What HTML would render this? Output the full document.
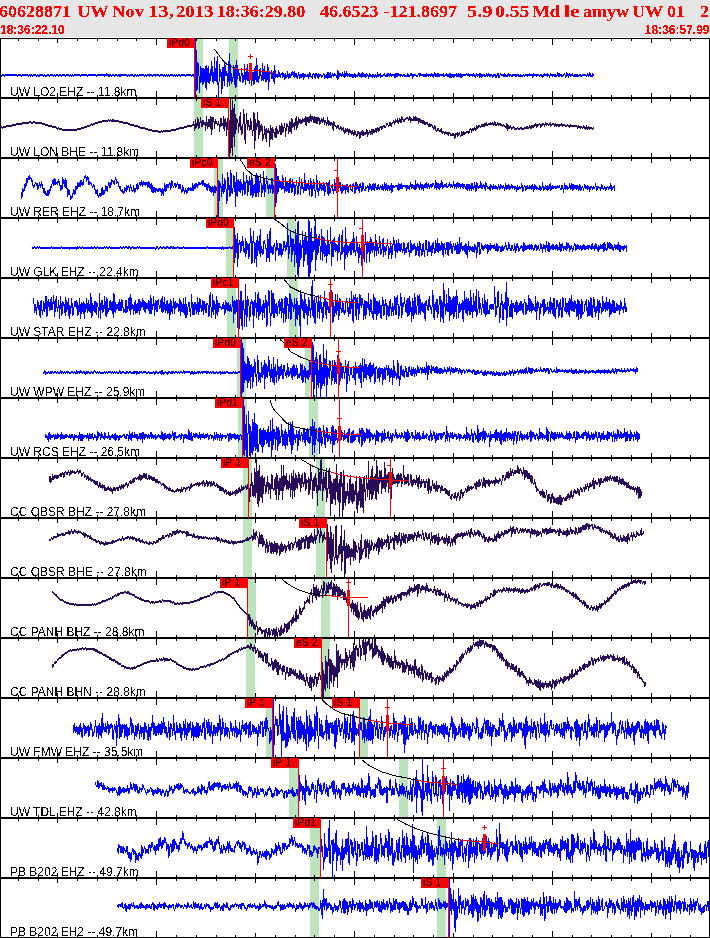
<!DOCTYPE html>
<html><head><meta charset="utf-8"><title>Seismogram 60628871</title>
<style>
html,body{margin:0;padding:0;width:710px;height:938px;overflow:hidden;background:#fff;}
#hd{position:absolute;left:0;top:0;width:710px;height:37px;background:#e6e6e6;overflow:hidden;}
.w{position:absolute;top:0;white-space:pre;font:bold 18px "Liberation Serif",serif;color:#f00;line-height:22px;transform:scaleY(0.96);transform-origin:0 17px;filter:url(#th3);}
.ts{position:absolute;top:22px;font:bold 12px "Liberation Sans",sans-serif;color:#f00;line-height:14px;transform:scaleY(1.1);transform-origin:0 0;filter:url(#th3);}
.lb{position:absolute;left:10px;font:12px "Liberation Sans",sans-serif;color:#000;line-height:13px;white-space:pre;filter:url(#th);}
svg{position:absolute;left:0;top:0;}
.pk{font:10px "Liberation Sans",sans-serif;fill:#000;letter-spacing:0.3px;}
</style></head><body>
<div id="hd"><span class="w" style="left:-1px">60628871</span><span class="w" style="left:77.4px">UW</span><span class="w" style="left:112px;transform:scale(1.03,0.96)">Nov</span><span class="w" style="left:148.2px;transform:scale(1.15,0.96)">13,</span><span class="w" style="left:176.2px;transform:scale(1.04,0.96)">2013</span><span class="w" style="left:216.8px">18:36:29.80</span><span class="w" style="left:319.9px">46.6523</span><span class="w" style="left:383.6px">-121.8697</span><span class="w" style="left:467.4px;transform:scale(1.13,0.96)">5.9</span><span class="w" style="left:495.4px;transform:scale(1.09,0.96)">0.55</span><span class="w" style="left:532.4px;transform:scale(1.05,0.96)">Md</span><span class="w" style="left:564px;transform:scale(1.2,0.96)">le</span><span class="w" style="left:583px">amyw</span><span class="w" style="left:632px">UW</span><span class="w" style="left:667.0px">01</span><span class="w" style="left:700.0px">2</span>
<div class="ts" style="left:0px">18:36:22.10</div><div class="ts" style="right:0.5px">18:36:57.99</div></div>
<svg width="0" height="0" style="position:absolute"><filter id="th" x="0" y="0" width="100%" height="100%"><feComponentTransfer><feFuncA type="discrete" tableValues="0 0 1 1"/></feComponentTransfer></filter><filter id="th3" x="0" y="0" width="100%" height="100%"><feComponentTransfer><feFuncA type="discrete" tableValues="0 0 1 1 1"/></feComponentTransfer></filter><filter id="th2" x="0" y="0" width="100%" height="100%"><feComponentTransfer><feFuncA type="discrete" tableValues="0 1 1 1"/></feComponentTransfer></filter></svg>
<svg width="710" height="938" viewBox="0 0 710 938" shape-rendering="crispEdges">
<rect x="196" y="39" width="7" height="58" fill="#bde3bd"/>
<rect x="229" y="39" width="9" height="58" fill="#bde3bd"/>
<rect x="194" y="99" width="9" height="58" fill="#bde3bd"/>
<rect x="229" y="99" width="9" height="58" fill="#bde3bd"/>
<rect x="214" y="159" width="9" height="58" fill="#bde3bd"/>
<rect x="266" y="159" width="8" height="58" fill="#bde3bd"/>
<rect x="226" y="219" width="7" height="58" fill="#bde3bd"/>
<rect x="287" y="219" width="9" height="58" fill="#bde3bd"/>
<rect x="227" y="279" width="9" height="58" fill="#bde3bd"/>
<rect x="289" y="279" width="9" height="58" fill="#bde3bd"/>
<rect x="237" y="339" width="9" height="58" fill="#bde3bd"/>
<rect x="305" y="339" width="7" height="58" fill="#bde3bd"/>
<rect x="238" y="399" width="9" height="58" fill="#bde3bd"/>
<rect x="309" y="399" width="9" height="58" fill="#bde3bd"/>
<rect x="243" y="459" width="9" height="58" fill="#bde3bd"/>
<rect x="316" y="459" width="9" height="58" fill="#bde3bd"/>
<rect x="243" y="519" width="9" height="58" fill="#bde3bd"/>
<rect x="316" y="519" width="9" height="58" fill="#bde3bd"/>
<rect x="248" y="579" width="8" height="58" fill="#bde3bd"/>
<rect x="321" y="579" width="9" height="58" fill="#bde3bd"/>
<rect x="246" y="639" width="9" height="58" fill="#bde3bd"/>
<rect x="322" y="639" width="8" height="58" fill="#bde3bd"/>
<rect x="266" y="699" width="7" height="58" fill="#bde3bd"/>
<rect x="360" y="699" width="8" height="58" fill="#bde3bd"/>
<rect x="289" y="759" width="9" height="58" fill="#bde3bd"/>
<rect x="399" y="759" width="9" height="58" fill="#bde3bd"/>
<rect x="310" y="819" width="10" height="58" fill="#bde3bd"/>
<rect x="437" y="819" width="9" height="58" fill="#bde3bd"/>
<rect x="310" y="879" width="9" height="58" fill="#bde3bd"/>
<rect x="437" y="879" width="9" height="58" fill="#bde3bd"/>
<polyline fill="none" stroke="#0000ff" stroke-width="1" stroke-linecap="square" transform="translate(0.5,0.5)" points="1,75 1,76 2,75 2,74 3,74 3,75 4,75 4,76 5,75 5,74 6,74 6,75 7,75 7,74 8,74 8,75 9,75 9,74 10,74 10,75 11,75 11,74 12,74 12,75 13,75 13,74 14,74 14,75 15,75 15,74 16,74 16,75 17,75 17,76 18,75 18,74 19,74 19,75 20,75 20,74 21,75 21,76 22,75 22,74 23,74 23,75 24,75 24,74 25,74 25,75 26,75 26,74 27,74 27,75 28,75 28,76 29,75 29,74 30,74 30,76 31,75 31,74 32,75 32,76 33,75 33,74 34,74 34,75 35,75 35,74 36,75 36,76 37,75 37,74 38,75 38,76 39,76 39,74 40,74 40,75 41,75 41,74 42,74 42,75 43,75 43,76 44,75 44,74 45,75 45,76 46,76 46,75 47,75 47,74 48,74 48,75 49,75 49,76 50,75 50,74 51,74 51,75 52,75 52,74 53,75 53,76 54,75 54,74 55,75 55,76 56,75 56,74 57,74 57,75 58,75 58,76 59,75 59,74 60,74 60,75 61,75 61,76 62,75 62,74 63,74 63,75 64,75 64,74 65,75 65,76 66,75 66,74 67,74 67,75 68,75 68,74 69,75 69,76 70,75 70,74 71,75 71,76 72,75 72,74 73,75 73,76 74,75 74,74 75,74 75,75 76,75 76,74 77,74 77,75 78,75 78,74 79,74 79,75 80,75 80,76 81,75 81,74 82,74 82,75 83,75 83,74 84,74 84,75 85,75 85,74 86,74 86,75 87,75 87,76 88,75 88,74 89,74 89,75 90,75 90,74 91,74 91,75 92,75 92,74 93,74 93,75 94,75 94,74 95,74 95,75 96,75 96,76 97,75 97,74 98,74 98,75 99,75 99,74 100,74 100,75 101,75 101,74 102,74 102,75 103,75 103,74 104,74 104,76 105,75 105,74 106,73 106,75 107,75 107,74 108,74 108,76 109,76 109,74 110,74 110,75 111,75 111,76 112,75 112,74 113,74 113,75 114,75 114,76 115,75 115,74 116,74 116,75 117,75 117,76 118,75 118,74 119,74 119,76 120,76 120,74 121,74 121,75 122,75 122,74 123,74 123,75 124,75 124,74 125,74 125,75 126,75 126,74 127,75 127,76 128,75 128,74 129,75 129,76 130,75 130,74 131,74 131,75 132,75 132,74 133,75 133,76 134,76 134,74 135,74 135,75 136,75 136,76 137,75 137,74 138,75 138,76 139,75 139,74 140,74 140,75 141,75 141,74 142,74 142,75 143,75 143,74 144,75 144,76 145,75 145,74 146,75 146,76 147,75 147,74 148,74 148,75 149,74 149,76 150,75 150,74 151,74 151,75 152,75 152,76 153,75 153,74 154,74 154,75 155,74 155,76 156,75 156,74 157,74 157,75 158,75 158,74 159,75 159,76 160,75 160,74 161,74 161,75 162,75 162,74 163,75 163,76 164,75 164,74 165,75 165,76 166,75 166,74 167,75 167,76 168,75 168,74 169,75 169,76 170,75 170,74 171,74 171,75 172,75 172,74 173,75 173,76 174,75 174,74 175,75 175,76 176,75 176,74 177,75 177,76 178,75 178,74 179,74 179,75 180,75 180,76 181,75 181,74 182,74 182,75 183,75 183,74 184,74 184,75 185,75 185,76 186,75 186,74 187,74 187,75 188,75 188,74 189,74 189,75 190,75 190,74 191,75 191,76 192,75 192,74 193,74 193,75 194,77 194,72 195,96 195,39 196,60 196,90 197,88 197,62 198,64 198,72 199,79 199,92 200,74 200,66 201,69 201,78 202,84 202,68 203,68 203,83 204,80 204,71 205,66 205,86 206,89 206,65 207,70 207,80 208,82 208,66 209,78 209,83 210,78 210,69 211,75 211,61 212,70 212,80 213,83 213,72 214,80 214,57 215,78 215,80 216,81 216,65 217,56 217,83 218,86 218,96 219,68 219,64 220,73 220,76 221,72 221,93 222,84 222,67 223,67 223,75 224,85 224,62 225,67 225,75 226,75 226,71 227,74 227,86 228,78 228,68 229,53 229,85 230,77 230,64 231,80 231,83 232,80 232,78 233,76 233,65 234,68 234,81 235,87 235,70 236,60 236,86 237,71 237,65 238,73 238,75 239,73 239,79 240,81 240,76 241,75 241,68 242,76 242,82 243,81 243,75 244,79 244,64 245,78 245,84 246,76 246,72 247,64 247,80 248,80 248,73 249,70 249,83 250,77 250,66 251,73 251,85 252,77 252,72 253,72 253,84 254,82 254,69 255,66 255,77 256,81 256,58 257,71 257,80 258,82 258,76 259,78 259,70 260,68 260,74 261,76 261,80 262,78 262,63 263,74 263,80 264,76 264,66 265,74 265,81 266,81 266,72 267,79 267,64 268,69 268,89 269,74 269,72 270,72 270,73 271,70 271,78 272,78 272,72 273,71 273,80 274,83 274,65 275,74 275,77 276,76 276,74 277,74 277,77 278,76 278,70 279,73 279,76 280,77 280,74 281,74 281,73 282,72 282,77 283,75 283,73 284,75 284,79 285,77 285,73 286,76 286,77 287,76 287,71 288,76 288,78 289,77 289,73 290,75 290,77 291,74 291,72 292,71 292,74 293,72 293,76 294,77 294,71 295,74 295,76 296,77 296,73 297,76 297,78 298,73 298,72 299,75 299,78 300,76 300,74 301,74 301,77 302,75 302,73 303,73 303,79 304,76 304,74 305,74 305,76 306,76 306,75 307,74 307,76 308,74 308,78 309,75 309,72 310,74 310,76 311,76 311,77 312,78 312,74 313,74 313,73 314,75 314,76 315,78 315,73 316,73 316,75 317,74 317,76 318,78 318,73 319,74 319,76 320,75 320,74 321,75 321,77 322,76 322,75 323,74 323,73 324,75 324,78 325,76 325,75 326,74 326,76 327,78 327,72 328,72 328,77 329,77 329,73 330,72 330,77 331,77 331,75 332,75 332,73 333,74 333,76 334,75 334,73 335,74 335,75 336,75 336,76 337,79 337,70 338,72 338,78 339,75 339,73 340,73 340,75 341,74 341,76 342,74 342,72 343,75 343,76 344,77 344,71 345,75 345,76 346,74 346,71 347,74 347,76 348,75 348,74 349,73 349,76 350,76 350,74 351,74 351,76 352,77 352,74 353,74 353,77 354,76 354,73 355,75 355,77 356,76 356,75 357,74 357,76 358,75 358,72 359,74 359,76 360,76 360,74 361,73 361,77 362,76 362,72 363,74 363,76 364,76 364,74 365,74 365,77 366,75 366,73 367,74 367,75 368,75 368,78 369,74 369,73 370,75 370,76 371,76 371,75 372,74 372,77 373,75 373,74 374,75 374,77 375,75 375,74 376,75 376,77 377,75 377,72 378,75 378,76 379,75 379,74 380,73 380,77 381,76 381,75 382,75 382,76 383,75 383,74 384,73 384,75 385,75 385,76 386,76 386,74 387,73 387,76 388,75 388,73 389,75 389,76 390,75 390,73 391,74 391,76 392,75 392,74 393,74 393,75 394,74 394,77 395,77 395,73 396,73 396,76 397,76 397,73 398,73 398,75 399,75 399,74 400,74 400,76 401,75 401,74 402,75 402,76 403,75 403,74 404,74 404,76 405,76 405,75 406,75 406,76 407,76 407,73 408,74 408,76 409,76 409,75 410,75 410,73 411,73 411,75 412,74 412,78 413,75 413,74 414,74 414,75 415,75 415,74 416,75 416,76 417,76 417,75 418,74 418,73 419,73 419,76 420,75 420,73 421,74 421,75 422,75 422,74 423,74 423,76 424,76 424,74 425,74 425,76 426,76 426,73 427,74 427,75 428,74 428,76 429,75 429,74 430,74 430,76 431,75 431,73 432,75 432,76 433,77 433,74 434,75 434,72 435,74 435,76 436,76 436,74 437,73 437,76 438,76 438,73 439,75 439,76 440,75 440,74 441,74 441,75 442,75 442,74 443,73 443,76 444,76 444,75 445,75 445,74 446,73 446,75 447,74 447,76 448,76 448,74 449,73 449,77 450,77 450,73 451,74 451,77 452,75 452,74 453,74 453,77 454,75 454,74 455,74 455,75 456,76 456,73 457,74 457,76 458,76 458,73 459,74 459,76 460,77 460,73 461,74 461,77 462,75 462,74 463,74 463,75 464,75 464,74 465,74 465,75 466,74 466,73 467,74 467,75 468,75 468,73 469,75 469,76 470,75 470,74 471,74 471,75 472,74 472,76 473,75 473,73 474,75 474,76 475,75 475,77 476,74 476,73 477,75 477,76 478,75 478,74 479,73 479,77 480,75 480,73 481,74 481,77 482,76 482,74 483,74 483,75 484,74 484,76 485,76 485,75 486,75 486,73 487,74 487,76 488,74 488,73 489,74 489,76 490,76 490,74 491,74 491,75 492,75 492,77 493,76 493,74 494,74 494,75 495,74 495,77 496,77 496,75 497,75 497,73 498,73 498,77 499,77 499,75 500,74 500,73 501,74 501,75 502,75 502,74 503,74 503,76 504,76 504,73 505,74 505,76 506,76 506,75 507,74 507,76 508,75 508,73 509,75 509,76 510,75 510,74 511,75 511,76 512,76 512,74 513,74 513,75 514,75 514,74 515,74 515,76 516,76 516,74 517,74 517,75 518,74 518,76 519,76 519,75 520,74 520,76 521,76 521,75 522,75 522,76 523,75 523,74 524,75 524,76 525,75 525,74 526,74 526,75 527,74 527,76 528,75 528,74 529,73 529,75 530,75 530,74 531,74 531,75 532,74 532,77 533,75 533,73 534,74 534,75 535,75 535,74 536,74 536,76 537,75 537,74 538,74 538,75 539,75 539,76 540,75 540,74 541,74 541,76 542,75 542,77 543,76 543,74 544,73 544,75 545,75 545,74 546,74 546,75 547,76 547,73 548,74 548,75 549,75 549,77 550,74 550,73 551,74 551,75 552,74 552,76 553,75 553,74 554,74 554,76 555,76 555,74 556,75 556,76 557,75 557,72 558,74 558,76 559,76 559,73 560,74 560,75 561,74 561,76 562,76 562,75 563,75 563,74 564,74 564,73 565,76 565,77 566,75 566,72 567,73 567,75 568,74 568,77 569,74 569,73 570,75 570,76 571,75 571,74 572,73 572,75 573,75 573,76 574,76 574,74 575,74 575,76 576,76 576,74 577,74 577,76 578,76 578,75 579,75 579,74 580,74 580,76 581,76 581,75 582,75 582,74 583,74 583,75 584,75 584,74 585,74 585,75 586,75 586,76 587,75 587,73 588,75 588,76 589,75 589,72 590,74 590,76 591,76 591,75 592,76 592,73 593,74 593,75"/>
<polyline fill="none" stroke="#280a5a" stroke-width="1" stroke-linecap="square" transform="translate(0.5,0.5)" points="1,126 1,127 2,127 2,128 3,127 3,126 4,126 4,127 5,127 5,126 6,126 6,125 7,125 7,126 8,126 8,125 9,125 9,126 10,126 10,125 11,125 11,126 12,125 12,124 13,124 13,125 14,125 14,124 15,124 15,125 16,124 16,123 17,123 17,124 18,124 18,123 19,123 19,124 20,124 20,123 21,123 21,124 22,123 22,122 23,122 23,123 24,123 24,122 25,122 25,123 26,123 26,122 27,122 27,123 28,123 28,122 29,122 29,121 30,121 30,122 31,122 31,123 32,123 32,122 33,122 33,121 34,121 34,122 35,122 35,123 36,123 36,122 37,122 37,123 38,123 38,122 39,122 39,123 40,123 40,122 41,122 41,123 42,123 42,124 43,124 43,123 44,123 44,124 45,124 45,125 46,125 46,124 47,124 47,125 48,125 48,126 49,126 49,125 50,125 50,126 51,126 51,125 52,126 52,127 53,127 53,126 54,126 54,127 55,127 55,126 56,127 56,128 57,128 57,129 58,128 58,127 59,128 59,129 60,129 60,128 61,128 61,129 62,129 62,130 63,130 63,129 64,129 64,130 65,130 65,129 66,129 66,130 67,130 67,129 68,129 68,130 69,130 69,129 70,129 70,130 71,130 71,129 72,129 72,130 73,130 73,129 74,129 74,130 75,130 75,129 76,129 76,130 77,129 77,128 78,128 78,129 79,129 79,128 80,128 80,129 81,128 81,127 82,127 82,128 83,128 83,127 84,127 84,126 85,126 85,127 86,127 86,126 87,126 87,125 88,125 88,126 89,126 89,125 90,125 90,124 91,124 91,123 92,124 92,125 93,124 93,123 94,123 94,124 95,123 95,122 96,122 96,123 97,123 97,122 98,122 98,121 99,121 99,122 100,122 100,121 101,121 101,122 102,121 102,120 103,120 103,121 104,121 104,120 105,120 105,121 106,121 106,120 107,120 107,121 108,120 108,119 109,120 109,121 110,120 110,119 111,120 111,121 112,121 112,119 113,119 113,121 114,121 114,120 115,120 115,121 116,121 116,120 117,120 117,121 118,121 118,120 119,121 119,122 120,122 120,121 121,121 121,122 122,122 122,121 123,122 123,123 124,123 124,122 125,122 125,123 126,123 126,122 127,122 127,123 128,123 128,124 129,124 129,123 130,124 130,125 131,125 131,124 132,124 132,125 133,125 133,124 134,125 134,126 135,126 135,125 136,125 136,126 137,126 137,125 138,126 138,127 139,127 139,126 140,127 140,128 141,128 141,127 142,127 142,128 143,128 143,127 144,127 144,128 145,128 145,129 146,129 146,128 147,128 147,129 148,129 148,130 149,130 149,129 150,129 150,130 151,130 151,129 152,130 152,131 153,131 153,130 154,130 154,131 155,131 155,130 156,130 156,131 157,131 157,130 158,131 158,132 159,132 159,131 160,131 160,132 161,131 161,130 162,131 162,132 163,131 163,130 164,130 164,131 165,131 165,130 166,130 166,131 167,131 167,130 168,130 168,131 169,131 169,130 170,130 170,131 171,130 171,129 172,129 172,130 173,130 173,129 174,129 174,130 175,130 175,129 176,129 176,128 177,128 177,129 178,129 178,128 179,128 179,127 180,127 180,128 181,128 181,127 182,127 182,128 183,128 183,127 184,127 184,126 185,126 185,127 186,127 186,126 187,126 187,125 188,125 188,126 189,126 189,125 190,125 190,126 191,126 191,125 192,125 192,124 193,125 193,121 194,126 194,130 195,126 195,119 196,126 196,127 197,124 197,117 198,120 198,128 199,126 199,122 200,122 200,117 201,124 201,126 202,126 202,120 203,120 203,124 204,124 204,122 205,122 205,130 206,121 206,116 207,127 207,128 208,125 208,119 209,119 209,125 210,128 210,116 211,117 211,134 212,126 212,117 213,117 213,120 214,122 214,128 215,120 215,119 216,122 216,123 217,123 217,125 218,124 218,121 219,126 219,131 220,122 220,118 221,118 221,125 222,125 222,123 223,128 223,116 224,122 224,130 225,123 225,118 226,125 226,135 227,124 227,118 228,119 228,111 229,128 229,156 230,150 230,99 231,119 231,139 232,155 232,100 233,114 233,126 234,146 234,104 235,123 235,133 236,126 236,118 237,120 237,122 238,123 238,132 239,121 239,119 240,112 240,129 241,126 241,134 242,133 242,127 243,121 243,109 244,117 244,135 245,143 245,124 246,123 246,113 247,125 247,129 248,124 248,120 249,128 249,130 250,129 250,118 251,124 251,128 252,131 252,135 253,126 253,112 254,113 254,148 255,133 255,119 256,126 256,129 257,124 257,112 258,127 258,138 259,132 259,121 260,128 260,131 261,129 261,124 262,127 262,140 263,137 263,134 264,134 264,126 265,132 265,135 266,141 266,128 267,131 267,132 268,132 268,128 269,134 269,146 270,133 270,125 271,131 271,138 272,139 272,127 273,130 273,132 274,132 274,136 275,137 275,129 276,126 276,137 277,131 277,129 278,132 278,133 279,130 279,125 280,126 280,134 281,134 281,123 282,127 282,132 283,131 283,129 284,125 284,123 285,132 285,136 286,125 286,123 287,124 287,125 288,127 288,133 289,130 289,121 290,123 290,129 291,133 291,118 292,120 292,127 293,125 293,124 294,122 294,129 295,122 295,120 296,116 296,129 297,125 297,121 298,124 298,117 299,121 299,122 300,123 300,119 301,121 301,123 302,121 302,118 303,119 303,121 304,121 304,120 305,116 305,124 306,125 306,117 307,117 307,121 308,122 308,117 309,116 309,122 310,119 310,114 311,118 311,121 312,118 312,116 313,118 313,122 314,122 314,116 315,117 315,121 316,123 316,117 317,117 317,123 318,118 318,117 319,118 319,124 320,123 320,120 321,121 321,118 322,120 322,122 323,121 323,117 324,123 324,124 325,121 325,120 326,123 326,125 327,122 327,117 328,123 328,125 329,124 329,121 330,122 330,125 331,123 331,122 332,124 332,126 333,130 333,121 334,123 334,125 335,125 335,126 336,126 336,128 337,127 337,125 338,125 338,128 339,128 339,129 340,128 340,126 341,127 341,130 342,129 342,128 343,127 343,131 344,130 344,133 345,132 345,128 346,130 346,131 347,131 347,128 348,130 348,134 349,131 349,129 350,130 350,132 351,131 351,134 352,133 352,130 353,133 353,135 354,133 354,130 355,131 355,134 356,134 356,136 357,134 357,131 358,131 358,133 359,132 359,138 360,137 360,132 361,131 361,133 362,135 362,130 363,131 363,135 364,133 364,132 365,132 365,134 366,133 366,129 367,131 367,136 368,133 368,132 369,132 369,130 370,131 370,134 371,132 371,129 372,129 372,134 373,130 373,129 374,130 374,132 375,131 375,128 376,128 376,132 377,129 377,127 378,128 378,131 379,129 379,127 380,127 380,126 381,126 381,129 382,128 382,126 383,126 383,125 384,125 384,127 385,127 385,126 386,125 386,123 387,123 387,124 388,125 388,126 389,125 389,122 390,122 390,125 391,126 391,123 392,123 392,122 393,122 393,120 394,122 394,124 395,121 395,119 396,120 396,121 397,122 397,118 398,122 398,123 399,119 399,118 400,119 400,122 401,122 401,116 402,118 402,119 403,119 403,121 404,121 404,119 405,119 405,118 406,118 406,117 407,117 407,118 408,118 408,120 409,118 409,116 410,117 410,122 411,119 411,118 412,119 412,120 413,120 413,116 414,118 414,120 415,120 415,116 416,118 416,120 417,120 417,118 418,118 418,123 419,120 419,118 420,120 420,122 421,122 421,120 422,120 422,123 423,123 423,120 424,122 424,124 425,124 425,122 426,122 426,123 427,122 427,124 428,124 428,126 429,126 429,123 430,124 430,126 431,125 431,124 432,126 432,127 433,127 433,129 434,128 434,125 435,126 435,130 436,130 436,131 437,129 437,128 438,128 438,130 439,130 439,131 440,131 440,130 441,128 441,132 442,131 442,133 443,132 443,131 444,132 444,134 445,132 445,131 446,132 446,133 447,132 447,134 448,135 448,132 449,132 449,133 450,133 450,135 451,135 451,134 452,133 452,135 453,135 453,133 454,134 454,138 455,136 455,133 456,133 456,134 457,132 457,136 458,135 458,133 459,132 459,134 460,135 460,136 461,134 461,131 462,133 462,135 463,133 463,131 464,133 464,134 465,133 465,132 466,132 466,131 467,131 467,132 468,131 468,133 469,132 469,129 470,129 470,128 471,130 471,132 472,129 472,128 473,128 473,130 474,129 474,127 475,128 475,130 476,129 476,125 477,127 477,128 478,127 478,125 479,125 479,126 480,126 480,127 481,125 481,124 482,124 482,126 483,126 483,124 484,123 484,126 485,125 485,123 486,122 486,125 487,125 487,124 488,124 488,123 489,123 489,124 490,124 490,122 491,123 491,124 492,124 492,122 493,124 493,125 494,124 494,121 495,122 495,125 496,125 496,124 497,124 497,122 498,123 498,125 499,124 499,123 500,123 500,125 501,125 501,124 502,125 502,126 503,125 503,124 504,125 504,126 505,126 505,127 506,128 506,123 507,124 507,130 508,127 508,125 509,126 509,128 510,126 510,125 511,128 511,129 512,128 512,127 513,127 513,126 514,128 514,129 515,129 515,128 516,128 516,129 517,128 517,127 518,128 518,129 519,129 519,128 520,128 520,127 521,127 521,129 522,129 522,128 523,128 523,129 524,128 524,127 525,127 525,128 526,128 526,126 527,126 527,128 528,128 528,127 529,127 529,125 530,127 530,128 531,128 531,125 532,125 532,127 533,127 533,125 534,124 534,126 535,124 535,123 536,125 536,127 537,125 537,124 538,124 538,125 539,124 539,123 540,124 540,127 541,125 541,124 542,123 542,125 543,124 543,123 544,125 544,126 545,123 545,122 546,124 546,125 547,124 547,123 548,124 548,125 549,124 549,123 550,122 550,126 551,125 551,124 552,124 552,123 553,123 553,124 554,124 554,126 555,125 555,123 556,124 556,126 557,125 557,124 558,124 558,126 559,126 559,124 560,124 560,125 561,125 561,123 562,125 562,126 563,125 563,124 564,124 564,125 565,125 565,126 566,126 566,125 567,125 567,124 568,125 568,126 569,125 569,127 570,126 570,124 571,125 571,126 572,126 572,125 573,125 573,126 574,126 574,125 575,125 575,126 576,126 576,125 577,127 577,128 578,126 578,125 579,126 579,127 580,126 580,128 581,127 581,126 582,127 582,128 583,127 583,125 584,126 584,128 585,127 585,129 586,127 586,125 587,128 587,129 588,127 588,126 589,127 589,129 590,128 590,127 591,127 591,128 592,128 592,129 593,128 593,127"/>
<polyline fill="none" stroke="#0000ff" stroke-width="1" stroke-linecap="square" transform="translate(0.5,0.5)" points="21,192 21,198 22,195 22,188 23,190 23,191 24,189 24,185 25,183 25,187 26,184 26,178 27,178 27,182 28,177 28,176 29,175 29,179 30,178 30,177 31,178 31,181 32,180 32,185 33,185 33,187 34,185 34,184 35,183 35,182 36,184 36,185 37,183 37,189 38,187 38,185 39,185 39,182 40,185 40,187 41,184 41,181 42,186 42,188 43,188 43,191 44,193 44,188 45,193 45,194 46,193 46,195 47,195 47,190 48,190 48,195 49,192 49,189 50,190 50,186 51,187 51,184 52,183 52,181 53,179 53,185 54,183 54,178 55,179 55,184 56,183 56,182 57,181 57,184 58,181 58,179 59,183 59,184 60,186 60,190 61,188 61,185 62,188 62,177 63,180 63,183 64,180 64,186 65,187 65,178 66,181 66,187 67,189 67,196 68,193 68,189 69,191 69,194 70,195 70,199 71,198 71,196 72,197 72,194 73,192 73,189 74,190 74,194 75,192 75,186 76,186 76,189 77,188 77,182 78,183 78,186 79,186 79,183 80,180 80,186 81,183 81,180 82,183 82,185 83,183 83,179 84,178 84,176 85,175 85,177 86,177 86,181 87,178 87,176 88,177 88,184 89,184 89,181 90,182 90,183 91,183 91,185 92,186 92,187 93,185 93,184 94,185 94,188 95,190 95,193 96,193 96,190 97,189 97,194 98,196 98,197 99,194 99,193 100,193 100,196 101,194 101,189 102,187 102,194 103,194 103,190 104,190 104,193 105,188 105,185 106,186 106,189 107,191 107,186 108,185 108,182 109,183 109,187 110,187 110,182 111,184 111,179 112,180 112,181 113,181 113,183 114,184 114,180 115,179 115,177 116,180 116,183 117,182 117,181 118,182 118,185 119,187 119,188 120,186 120,190 121,190 121,191 122,192 122,189 123,192 123,193 124,191 124,187 125,188 125,190 126,191 126,185 127,187 127,189 128,186 128,185 129,188 129,191 130,185 130,184 131,189 131,190 132,190 132,191 133,190 133,185 134,190 134,192 135,191 135,189 136,187 136,185 137,183 137,189 138,188 138,185 139,184 139,182 140,182 140,185 141,184 141,180 142,184 142,186 143,182 143,181 144,183 144,184 145,185 145,182 146,182 146,184 147,182 147,187 148,185 148,181 149,183 149,187 150,188 150,184 151,183 151,190 152,192 152,185 153,188 153,192 154,190 154,187 155,188 155,192 156,189 156,188 157,189 157,191 158,191 158,188 159,188 159,190 160,191 160,188 161,190 161,195 162,191 162,188 163,190 163,195 164,187 164,183 165,187 165,191 166,190 166,184 167,184 167,187 168,187 168,184 169,184 169,182 170,184 170,189 171,185 171,180 172,182 172,185 173,186 173,187 174,184 174,183 175,183 175,187 176,185 176,184 177,184 177,182 178,185 178,188 179,188 179,184 180,184 180,187 181,190 181,192 182,190 182,185 183,189 183,190 184,190 184,193 185,190 185,188 186,191 186,193 187,191 187,188 188,187 188,190 189,189 189,188 190,187 190,190 191,190 191,188 192,190 192,183 193,187 193,190 194,186 194,185 195,183 195,188 196,184 196,183 197,184 197,187 198,184 198,182 199,182 199,184 200,184 200,183 201,183 201,181 202,180 202,185 203,183 203,180 204,185 204,186 205,186 205,183 206,184 206,188 207,190 207,185 208,183 208,187 209,185 209,190 210,191 210,186 211,187 211,192 212,190 212,186 213,187 213,195 214,190 214,185 215,186 215,192 216,189 216,187 217,188 217,194 218,180 218,216 219,187 219,181 220,184 220,187 221,186 221,196 222,187 222,174 223,192 223,193 224,190 224,178 225,181 225,185 226,192 226,203 227,198 227,172 228,180 228,189 229,185 229,196 230,194 230,170 231,175 231,192 232,191 232,193 233,182 233,175 234,177 234,191 235,182 235,206 236,185 236,172 237,187 237,196 238,185 238,179 239,183 239,190 240,192 240,179 241,184 241,189 242,184 242,195 243,185 243,172 244,189 244,194 245,192 245,182 246,182 246,175 247,184 247,195 248,189 248,181 249,184 249,176 250,183 250,195 251,194 251,174 252,181 252,197 253,194 253,185 254,184 254,188 255,196 255,177 256,173 256,196 257,190 257,175 258,179 258,196 259,187 259,185 260,177 260,174 261,190 261,196 262,189 262,185 263,189 263,171 264,186 264,196 265,188 265,185 266,182 266,176 267,185 267,188 268,185 268,193 269,185 269,184 270,185 270,192 271,186 271,178 272,178 272,193 273,191 273,185 274,186 274,177 275,164 275,206 276,200 276,168 277,183 277,193 278,190 278,176 279,184 279,187 280,187 280,182 281,182 281,189 282,188 282,175 283,181 283,188 284,186 284,192 285,189 285,177 286,184 286,191 287,189 287,182 288,183 288,192 289,192 289,179 290,178 290,187 291,184 291,192 292,190 292,179 293,186 293,187 294,184 294,195 295,192 295,185 296,184 296,180 297,190 297,194 298,192 298,186 299,178 299,177 300,193 300,194 301,184 301,179 302,185 302,188 303,187 303,192 304,188 304,173 305,185 305,190 306,190 306,185 307,183 307,188 308,189 308,180 309,189 309,195 310,183 310,178 311,184 311,196 312,194 312,185 313,188 313,179 314,184 314,188 315,193 315,197 316,183 316,175 317,184 317,191 318,188 318,195 319,187 319,181 320,186 320,187 321,190 321,183 322,186 322,189 323,190 323,182 324,184 324,195 325,189 325,186 326,185 326,182 327,184 327,191 328,195 328,183 329,180 329,193 330,192 330,188 331,187 331,186 332,184 332,190 333,189 333,193 334,188 334,179 335,186 335,190 336,189 336,192 337,188 337,183 338,186 338,188 339,187 339,182 340,182 340,190 341,187 341,193 342,191 342,184 343,185 343,190 344,188 344,186 345,185 345,193 346,186 346,184 347,184 347,190 348,192 348,186 349,186 349,185 350,184 350,189 351,189 351,190 352,191 352,184 353,183 353,185 354,185 354,193 355,192 355,182 356,182 356,189 357,187 357,184 358,188 358,189 359,192 359,185 360,183 360,187 361,186 361,191 362,189 362,182 363,183 363,188 364,189 364,190 365,190 365,186 366,187 366,188 367,186 367,185 368,187 368,191 369,187 369,183 370,185 370,188 371,186 371,190 372,188 372,184 373,183 373,189 374,190 374,184 375,183 375,187 376,187 376,189 377,189 377,186 378,184 378,188 379,187 379,189 380,186 380,185 381,187 381,189 382,189 382,184 383,187 383,190 384,187 384,182 385,185 385,190 386,188 386,183 387,186 387,190 388,187 388,185 389,186 389,190 390,188 390,186 391,183 391,192 392,190 392,185 393,185 393,187 394,187 394,186 395,186 395,185 396,185 396,186 397,185 397,188 398,190 398,183 399,184 399,189 400,188 400,185 401,183 401,188 402,188 402,185 403,185 403,186 404,186 404,185 405,185 405,187 406,185 406,190 407,187 407,185 408,186 408,188 409,189 409,185 410,186 410,182 411,186 411,188 412,187 412,184 413,185 413,188 414,189 414,185 415,189 415,180 416,187 416,188 417,185 417,183 418,184 418,187 419,185 419,189 420,185 420,182 421,186 421,189 422,187 422,184 423,186 423,190 424,185 424,184 425,183 425,187 426,187 426,182 427,186 427,188 428,185 428,183 429,186 429,188 430,185 430,184 431,184 431,187 432,186 432,183 433,183 433,184 434,185 434,188 435,186 435,180 436,184 436,189 437,186 437,183 438,183 438,187 439,189 439,184 440,183 440,187 441,185 441,180 442,183 442,188 443,186 443,185 444,184 444,186 445,186 445,184 446,183 446,187 447,187 447,186 448,186 448,184 449,185 449,182 450,186 450,187 451,186 451,184 452,186 452,187 453,184 453,181 454,187 454,188 455,185 455,184 456,183 456,188 457,185 457,182 458,183 458,187 459,185 459,183 460,185 460,188 461,185 461,184 462,183 462,187 463,188 463,184 464,184 464,186 465,186 465,187 466,189 466,184 467,184 467,190 468,187 468,184 469,184 469,190 470,187 470,186 471,183 471,190 472,186 472,183 473,188 473,189 474,185 474,182 475,187 475,191 476,189 476,182 477,184 477,187 478,186 478,188 479,186 479,185 480,187 480,181 481,185 481,188 482,188 482,185 483,184 483,186 484,185 484,187 485,190 485,182 486,184 486,185 487,187 487,188 488,188 488,187 489,186 489,188 490,190 490,184 491,185 491,187 492,186 492,189 493,187 493,184 494,187 494,188 495,188 495,185 496,187 496,188 497,187 497,189 498,186 498,184 499,187 499,189 500,187 500,184 501,185 501,187 502,186 502,188 503,186 503,185 504,188 504,190 505,187 505,183 506,186 506,189 507,188 507,185 508,184 508,188 509,189 509,185 510,186 510,188 511,187 511,184 512,186 512,188 513,187 513,186 514,186 514,189 515,187 515,186 516,187 516,191 517,187 517,185 518,188 518,189 519,188 519,186 520,187 520,188 521,186 521,183 522,187 522,191 523,189 523,187 524,186 524,185 525,187 525,190 526,189 526,186 527,185 527,188 528,188 528,187 529,188 529,185 530,187 530,188 531,189 531,186 532,184 532,188 533,186 533,191 534,187 534,184 535,186 535,188 536,189 536,186 537,187 537,188 538,188 538,189 539,189 539,185 540,186 540,190 541,188 541,187 542,187 542,182 543,189 543,190 544,189 544,187 545,188 545,185 546,186 546,188 547,190 547,185 548,186 548,189 549,187 549,184 550,183 550,190 551,189 551,186 552,185 552,188 553,188 553,186 554,186 554,187 555,186 555,188 556,188 556,186 557,185 557,187 558,187 558,186 559,185 559,187 560,188 560,189 561,189 561,185 562,185 562,188 563,188 563,192 564,186 564,183 565,186 565,189 566,188 566,185 567,186 567,189 568,188 568,187 569,187 569,183 570,186 570,189 571,187 571,183 572,184 572,190 573,189 573,184 574,186 574,188 575,188 575,185 576,185 576,189 577,188 577,185 578,186 578,190 579,188 579,184 580,186 580,190 581,189 581,187 582,187 582,186 583,189 583,190 584,185 584,184 585,185 585,188 586,188 586,186 587,185 587,189 588,187 588,186 589,187 589,191 590,188 590,186 591,186 591,187 592,187 592,189 593,187 593,186 594,187 594,188 595,185 595,183 596,189 596,190 597,188 597,186 598,186 598,187 599,187 599,188 600,187 600,190 601,187 601,184 602,186 602,188 603,188 603,189 604,187 604,186 605,187 605,190 606,189 606,187 607,187 607,186 608,187 608,189 609,188 609,186 610,188 610,183 611,187 611,190 612,189 612,187 613,187 613,186 614,185 614,190"/>
<polyline fill="none" stroke="#0000ff" stroke-width="1" stroke-linecap="square" transform="translate(0.5,0.5)" points="32,247 32,248 33,248 33,247 34,247 34,246 35,247 35,248 36,248 36,247 37,247 37,246 38,247 38,248 39,247 39,246 40,247 40,248 41,248 41,247 42,247 42,248 43,248 43,247 44,247 44,248 45,248 45,247 46,247 46,248 47,248 47,247 48,247 48,248 49,248 49,247 50,247 50,248 51,247 51,246 52,247 52,248 53,248 53,247 54,247 54,248 55,248 55,247 56,247 56,248 57,248 57,247 58,247 58,248 59,248 59,247 60,247 60,248 61,247 61,246 62,247 62,248 63,248 63,247 64,247 64,248 65,248 65,247 66,247 66,248 67,248 67,247 68,247 68,248 69,247 69,249 70,248 70,247 71,247 71,248 72,248 72,247 73,247 73,248 74,248 74,247 75,247 75,248 76,247 76,249 77,248 77,246 78,247 78,248 79,247 79,246 80,247 80,248 81,248 81,247 82,247 82,246 83,247 83,248 84,248 84,247 85,247 85,248 86,248 86,247 87,247 87,248 88,248 88,247 89,247 89,248 90,248 90,247 91,246 91,248 92,248 92,247 93,247 93,248 94,247 94,246 95,247 95,248 96,248 96,247 97,247 97,246 98,247 98,248 99,248 99,247 100,247 100,248 101,248 101,247 102,247 102,248 103,248 103,247 104,247 104,246 105,247 105,248 106,247 106,246 107,247 107,248 108,248 108,247 109,247 109,246 110,247 110,248 111,248 111,247 112,247 112,248 113,248 113,247 114,247 114,248 115,248 115,247 116,247 116,248 117,248 117,247 118,247 118,248 119,248 119,247 120,247 120,246 121,247 121,248 122,248 122,247 123,247 123,246 124,247 124,248 125,247 125,246 126,246 126,247 127,247 127,248 128,248 128,246 129,246 129,247 130,247 130,249 131,248 131,247 132,247 132,246 133,247 133,248 134,248 134,247 135,247 135,248 136,248 136,247 137,247 137,246 138,247 138,248 139,247 139,246 140,247 140,248 141,248 141,247 142,247 142,248 143,248 143,247 144,247 144,248 145,248 145,247 146,247 146,248 147,248 147,247 148,247 148,248 149,248 149,247 150,247 150,248 151,248 151,247 152,247 152,248 153,248 153,247 154,247 154,248 155,248 155,249 156,247 156,246 157,246 157,247 158,248 158,249 159,248 159,247 160,247 160,246 161,247 161,248 162,248 162,247 163,247 163,246 164,247 164,248 165,248 165,247 166,246 166,248 167,247 167,246 168,247 168,248 169,248 169,247 170,246 170,248 171,247 171,246 172,247 172,248 173,248 173,246 174,247 174,248 175,248 175,247 176,247 176,248 177,247 177,246 178,247 178,248 179,248 179,247 180,247 180,248 181,248 181,247 182,247 182,248 183,247 183,246 184,247 184,248 185,248 185,247 186,247 186,248 187,248 187,247 188,247 188,248 189,248 189,247 190,247 190,248 191,248 191,247 192,247 192,248 193,248 193,247 194,247 194,248 195,248 195,247 196,247 196,248 197,248 197,247 198,247 198,248 199,248 199,247 200,247 200,248 201,248 201,247 202,247 202,248 203,248 203,247 204,247 204,248 205,248 205,247 206,247 206,248 207,247 207,246 208,247 208,248 209,248 209,247 210,247 210,248 211,248 211,247 212,247 212,248 213,248 213,247 214,247 214,248 215,248 215,247 216,247 216,248 217,248 217,247 218,247 218,248 219,248 219,247 220,247 220,248 221,247 221,249 222,247 222,246 223,247 223,249 224,248 224,247 225,247 225,248 226,248 226,247 227,247 227,248 228,248 228,247 229,247 229,246 230,247 230,248 231,248 231,247 232,247 232,248 233,244 233,254 234,262 234,227 235,242 235,257 236,249 236,244 237,233 237,266 238,251 238,243 239,244 239,240 240,244 240,252 241,249 241,241 242,245 242,236 243,244 243,251 244,252 244,248 245,256 245,238 246,244 246,253 247,246 247,243 248,245 248,258 249,254 249,243 250,242 250,228 251,242 251,263 252,262 252,241 253,242 253,231 254,251 254,262 255,256 255,246 256,240 256,266 257,245 257,236 258,245 258,248 259,253 259,241 260,229 260,256 261,249 261,246 262,251 262,254 263,253 263,241 264,240 264,243 265,244 265,247 266,249 266,261 267,254 267,234 268,243 268,254 269,261 269,234 270,228 270,252 271,252 271,246 272,247 272,254 273,253 273,245 274,245 274,243 275,250 275,260 276,242 276,240 277,245 277,249 278,248 278,255 279,253 279,243 280,243 280,252 281,256 281,244 282,252 282,254 283,248 283,241 284,241 284,247 285,245 285,251 286,248 286,242 287,246 287,223 288,245 288,258 289,250 289,246 290,246 290,230 291,244 291,261 292,249 292,239 293,239 293,250 294,244 294,266 295,243 295,229 296,240 296,250 297,274 297,222 298,221 298,276 299,258 299,245 300,240 300,259 301,256 301,245 302,247 302,231 303,248 303,266 304,255 304,241 305,232 305,254 306,253 306,236 307,245 307,252 308,276 308,219 309,222 309,276 310,270 310,235 311,228 311,261 312,257 312,241 313,241 313,251 314,247 314,233 315,219 315,270 316,249 316,234 317,242 317,254 318,251 318,237 319,234 319,243 320,248 320,259 321,244 321,229 322,241 322,260 323,248 323,237 324,239 324,256 325,254 325,243 326,246 326,262 327,249 327,230 328,248 328,253 329,254 329,251 330,236 330,227 331,255 331,265 332,249 332,240 333,239 333,256 334,243 334,237 335,247 335,251 336,249 336,244 337,246 337,260 338,244 338,239 339,234 339,247 340,255 340,259 341,251 341,240 342,230 342,253 343,250 343,248 344,245 344,269 345,248 345,227 346,249 346,252 347,256 347,245 348,247 348,252 349,249 349,244 350,243 350,254 351,254 351,242 352,239 352,247 353,252 353,232 354,243 354,251 355,250 355,255 356,247 356,236 357,248 357,252 358,247 358,262 359,253 359,244 360,251 360,254 361,247 361,265 362,250 362,243 363,248 363,256 364,261 364,245 365,243 365,232 366,253 366,262 367,245 367,241 368,245 368,251 369,241 369,261 370,246 370,237 371,241 371,249 372,252 372,243 373,242 373,249 374,246 374,256 375,246 375,234 376,244 376,255 377,246 377,243 378,250 378,253 379,242 379,236 380,245 380,254 381,252 381,249 382,249 382,239 383,238 383,256 384,248 384,246 385,248 385,254 386,248 386,245 387,244 387,239 388,252 388,258 389,252 389,248 390,252 390,241 391,250 391,258 392,251 392,245 393,243 393,237 394,242 394,250 395,244 395,257 396,246 396,240 397,246 397,252 398,249 398,239 399,246 399,249 400,251 400,245 401,243 401,247 402,251 402,252 403,249 403,242 404,243 404,254 405,251 405,249 406,247 406,252 407,245 407,244 408,242 408,251 409,250 409,256 410,250 410,240 411,246 411,252 412,248 412,246 413,244 413,249 414,248 414,243 415,249 415,255 416,254 416,247 417,250 417,243 418,248 418,254 419,256 419,241 420,245 420,249 421,249 421,255 422,253 422,245 423,243 423,250 424,252 424,256 425,244 425,240 426,240 426,248 427,250 427,255 428,249 428,241 429,242 429,251 430,251 430,246 431,245 431,255 432,250 432,244 433,242 433,248 434,248 434,253 435,251 435,240 436,246 436,250 437,251 437,238 438,246 438,252 439,248 439,243 440,246 440,250 441,249 441,241 442,244 442,252 443,256 443,245 444,243 444,249 445,248 445,253 446,246 446,242 447,242 447,254 448,255 448,242 449,243 449,249 450,248 450,241 451,247 451,251 452,253 452,246 453,246 453,243 454,248 454,250 455,248 455,243 456,246 456,253 457,253 457,242 458,245 458,253 459,253 459,237 460,248 460,251 461,246 461,242 462,249 462,250 463,248 463,246 464,245 464,250 465,253 465,243 466,245 466,252 467,257 467,246 468,249 468,241 469,250 469,251 470,248 470,246 471,248 471,249 472,251 472,246 473,247 473,250 474,252 474,244 475,245 475,249 476,247 476,257 477,249 477,242 478,242 478,246 479,242 479,254 480,253 480,249 481,248 481,243 482,247 482,249 483,250 483,246 484,245 484,248 485,246 485,244 486,245 486,248 487,244 487,253 488,249 488,245 489,245 489,249 490,250 490,243 491,246 491,248 492,247 492,245 493,245 493,248 494,248 494,244 495,247 495,250 496,250 496,243 497,244 497,251 498,249 498,246 499,246 499,247 500,247 500,251 501,251 501,246 502,245 502,250 503,250 503,247 504,247 504,248 505,244 505,242 506,247 506,249 507,248 507,250 508,246 508,242 509,246 509,247 510,249 510,250 511,250 511,245 512,245 512,248 513,249 513,250 514,248 514,243 515,249 515,252 516,249 516,244 517,243 517,247 518,246 518,251 519,250 519,249 520,247 520,246 521,245 521,247 522,246 522,249 523,251 523,242 524,244 524,250 525,248 525,245 526,247 526,249 527,248 527,245 528,245 528,248 529,249 529,244 530,246 530,248 531,249 531,244 532,245 532,247 533,249 533,250 534,248 534,245 535,244 535,247 536,245 536,250 537,248 537,246 538,245 538,248 539,249 539,250 540,247 540,243 541,244 541,248 542,247 542,252 543,245 543,244 544,246 544,248 545,245 545,251 546,244 546,241 547,248 547,250 548,251 548,242 549,244 549,251 550,247 550,246 551,245 551,248 552,249 552,244 553,244 553,249 554,248 554,247 555,245 555,249 556,248 556,244 557,246 557,250 558,249 558,247 559,249 559,242 560,246 560,251 561,249 561,245 562,243 562,247 563,246 563,250 564,247 564,246 565,246 565,249 566,250 566,242 567,244 567,248 568,247 568,243 569,247 569,251 570,248 570,246 571,245 571,248 572,248 572,251 573,248 573,247 574,244 574,243 575,244 575,250 576,249 576,246 577,244 577,248 578,248 578,245 579,247 579,249 580,248 580,245 581,247 581,250 582,248 582,246 583,244 583,248 584,249 584,245 585,247 585,249 586,247 586,246 587,245 587,248 588,249 588,245 589,245 589,247 590,246 590,248 591,249 591,245 592,243 592,248 593,248 593,247 594,245 594,250 595,247 595,243 596,245 596,248 597,247 597,249 598,251 598,245 599,246 599,249 600,247 600,244 601,246 601,248 602,248 602,244 603,243 603,251 604,249 604,242 605,246 605,249 606,248 606,250 607,249 607,242 608,244 608,247 609,248 609,242 610,243 610,248 611,248 611,244 612,246 612,249 613,250 613,247 614,247 614,244 615,245 615,249 616,247 616,245 617,244 617,249 618,249 618,242 619,247 619,251 620,251 620,245 621,246 621,248 622,249 622,246 623,246 623,250 624,247 624,245 625,246 625,247 626,245 626,251"/>
<polyline fill="none" stroke="#0000ff" stroke-width="1" stroke-linecap="square" transform="translate(0.5,0.5)" points="33,298 33,300 34,307 34,312 35,309 35,304 36,309 36,314 37,302 37,300 38,304 38,309 39,305 39,313 40,317 40,302 41,300 41,310 42,310 42,314 43,307 43,301 44,305 44,311 45,306 45,296 46,296 46,316 47,315 47,302 48,299 48,306 49,302 49,310 50,308 50,300 51,297 51,309 52,309 52,302 53,303 53,295 54,306 54,316 55,307 55,301 56,296 56,307 57,307 57,311 58,304 58,300 59,309 59,318 60,299 60,296 61,309 61,315 62,311 62,301 63,303 63,305 64,304 64,309 65,315 65,297 66,302 66,311 67,307 67,305 68,298 68,312 69,318 69,305 70,306 70,313 71,302 71,298 72,306 72,315 73,314 73,307 74,306 74,301 75,301 75,305 76,308 76,300 77,304 77,315 78,313 78,305 79,311 79,298 80,309 80,318 81,309 81,302 82,303 82,309 83,313 83,301 84,305 84,318 85,305 85,304 86,308 86,298 87,307 87,312 88,308 88,300 89,307 89,311 90,312 90,293 91,300 91,317 92,314 92,303 93,307 93,310 94,311 94,301 95,301 95,311 96,314 96,302 97,304 97,305 98,308 98,317 99,305 99,293 100,311 100,318 101,302 101,300 102,300 102,312 103,310 103,305 104,308 104,296 105,305 105,315 106,316 106,297 107,300 107,313 108,310 108,308 109,309 109,302 110,300 110,308 111,310 111,302 112,301 112,310 113,317 113,293 114,294 114,310 115,312 115,302 116,306 116,309 117,308 117,306 118,302 118,310 119,310 119,299 120,304 120,310 121,310 121,299 122,301 122,305 123,309 123,312 124,310 124,309 125,312 125,300 126,300 126,312 127,311 127,306 128,308 128,298 129,297 129,306 130,314 130,294 131,301 131,309 132,307 132,304 133,306 133,314 134,308 134,303 135,300 135,313 136,311 136,304 137,303 137,312 138,309 138,299 139,299 139,314 140,307 140,301 141,302 141,307 142,306 142,298 143,301 143,307 144,311 144,301 145,302 145,312 146,306 146,303 147,303 147,307 148,310 148,300 149,301 149,313 150,313 150,295 151,300 151,313 152,307 152,304 153,305 153,296 154,308 154,315 155,304 155,300 156,302 156,311 157,311 157,301 158,299 158,304 159,305 159,308 160,307 160,302 161,298 161,311 162,312 162,296 163,306 163,311 164,307 164,297 165,309 165,312 166,309 166,302 167,300 167,313 168,312 168,304 169,303 169,319 170,310 170,299 171,302 171,310 172,313 172,306 173,307 173,298 174,305 174,313 175,305 175,301 176,304 176,307 177,306 177,303 178,305 178,311 179,310 179,298 180,302 180,315 181,309 181,302 182,305 182,311 183,312 183,298 184,309 184,312 185,317 185,297 186,309 186,317 187,312 187,309 188,304 188,302 189,302 189,311 190,308 190,316 191,299 191,294 192,308 192,314 193,314 193,306 194,302 194,314 195,306 195,302 196,306 196,313 197,309 197,297 198,306 198,314 199,309 199,298 200,299 200,307 201,305 201,311 202,309 202,300 203,302 203,314 204,305 204,301 205,307 205,312 206,312 206,303 207,303 207,304 208,305 208,316 209,315 209,297 210,292 210,305 211,308 211,317 212,306 212,294 213,304 213,314 214,306 214,301 215,306 215,318 216,309 216,296 217,303 217,315 218,309 218,303 219,303 219,307 220,307 220,306 221,307 221,309 222,307 222,305 223,302 223,308 224,305 224,314 225,310 225,300 226,303 226,309 227,310 227,303 228,302 228,309 229,311 229,305 230,304 230,310 231,311 231,307 232,306 232,296 233,305 233,322 234,306 234,300 235,302 235,313 236,309 236,299 237,300 237,327 238,318 238,294 239,304 239,328 240,310 240,291 241,291 241,321 242,329 242,301 243,300 243,308 244,310 244,326 245,304 245,284 246,315 246,326 247,307 247,296 248,301 248,303 249,308 249,320 250,314 250,302 251,303 251,299 252,303 252,314 253,302 253,327 254,305 254,300 255,307 255,292 256,312 256,317 257,306 257,296 258,292 258,319 259,313 259,298 260,300 260,313 261,309 261,307 262,304 262,319 263,307 263,300 264,306 264,317 265,299 265,295 266,303 266,326 267,322 267,302 268,305 268,290 269,291 269,304 270,321 270,325 271,306 271,290 272,295 272,310 273,317 273,293 274,303 274,317 275,309 275,305 276,303 276,312 277,315 277,306 278,306 278,302 279,299 279,313 280,308 280,305 281,298 281,317 282,308 282,299 283,315 283,322 284,305 284,299 285,296 285,321 286,316 286,297 287,299 287,305 288,304 288,318 289,306 289,293 290,294 290,319 291,317 291,299 292,305 292,306 293,305 293,311 294,306 294,298 295,309 295,325 296,312 296,298 297,303 297,319 298,311 298,305 299,305 299,314 300,336 300,290 301,297 301,307 302,310 302,299 303,303 303,317 304,318 304,293 305,303 305,311 306,314 306,304 307,308 307,324 308,308 308,297 309,302 309,310 310,308 310,317 311,302 311,291 312,280 312,314 313,317 313,302 314,297 314,322 315,323 315,303 316,302 316,296 317,306 317,317 318,306 318,295 319,306 319,318 320,299 320,295 321,308 321,312 322,307 322,321 323,314 323,302 324,306 324,291 325,306 325,311 326,318 326,301 327,303 327,309 328,306 328,312 329,312 329,301 330,294 330,313 331,301 331,290 332,294 332,322 333,320 333,302 334,309 334,316 335,309 335,294 336,305 336,314 337,307 337,294 338,308 338,319 339,312 339,298 340,299 340,306 341,310 341,312 342,310 342,301 343,304 343,312 344,310 344,314 345,310 345,303 346,301 346,298 347,304 347,311 348,307 348,316 349,311 349,298 350,303 350,313 351,304 351,291 352,305 352,318 353,322 353,295 354,298 354,299 355,294 355,311 356,319 356,298 357,297 357,308 358,303 358,319 359,308 359,294 360,295 360,304 361,307 361,298 362,298 362,301 363,307 363,319 364,312 364,300 365,302 365,318 366,311 366,301 367,302 367,305 368,309 368,293 369,314 369,315 370,309 370,299 371,301 371,313 372,311 372,316 373,319 373,294 374,299 374,313 375,313 375,298 376,303 376,319 377,312 377,301 378,302 378,313 379,311 379,300 380,308 380,316 381,318 381,306 382,304 382,297 383,303 383,315 384,314 384,304 385,305 385,299 386,306 386,319 387,310 387,305 388,307 388,316 389,315 389,303 390,299 390,308 391,307 391,315 392,308 392,303 393,308 393,315 394,304 394,296 395,300 395,314 396,314 396,298 397,295 397,304 398,304 398,318 399,313 399,306 400,305 400,293 401,300 401,317 402,312 402,304 403,302 403,306 404,301 404,297 405,309 405,311 406,312 406,302 407,298 407,316 408,314 408,300 409,296 409,314 410,309 410,301 411,311 411,321 412,310 412,298 413,304 413,318 414,312 414,293 415,300 415,311 416,314 416,306 417,305 417,295 418,297 418,314 419,310 419,294 420,302 420,314 421,308 421,303 422,302 422,311 423,312 423,304 424,303 424,316 425,320 425,301 426,300 426,303 427,307 427,309 428,310 428,301 429,296 429,306 430,305 430,309 431,310 431,313 432,300 432,290 433,298 433,315 434,319 434,305 435,302 435,308 436,311 436,299 437,299 437,317 438,311 438,305 439,304 439,296 440,296 440,321 441,313 441,300 442,303 442,315 443,322 443,283 444,295 444,306 445,304 445,314 446,308 446,294 447,310 447,311 448,311 448,288 449,302 449,320 450,312 450,297 451,302 451,314 452,313 452,300 453,296 453,318 454,315 454,298 455,296 455,305 456,318 456,290 457,300 457,302 458,306 458,317 459,308 459,302 460,306 460,311 461,307 461,306 462,300 462,315 463,321 463,301 464,309 464,291 465,306 465,312 466,313 466,297 467,301 467,315 468,306 468,298 469,304 469,314 470,314 470,290 471,303 471,311 472,305 472,317 473,307 473,293 474,307 474,310 475,311 475,302 476,289 476,316 477,313 477,312 478,306 478,291 479,301 479,312 480,305 480,303 481,313 481,314 482,301 482,298 483,309 483,312 484,313 484,294 485,305 485,316 486,312 486,304 487,299 487,313 488,313 488,310 489,313 489,305 490,304 490,307 491,309 491,304 492,304 492,308 493,308 493,309 494,299 494,286 495,307 495,316 496,312 496,306 497,307 497,293 498,291 498,300 499,313 499,322 500,314 500,303 501,304 501,294 502,307 502,319 503,319 503,305 504,302 504,308 505,309 505,301 506,282 506,325 507,311 507,297 508,299 508,302 509,309 509,316 510,316 510,307 511,300 511,314 512,318 512,303 513,303 513,307 514,305 514,311 515,311 515,304 516,300 516,314 517,311 517,302 518,307 518,311 519,309 519,304 520,301 520,310 521,308 521,301 522,307 522,311 523,314 523,303 524,302 524,299 525,305 525,314 526,313 526,303 527,307 527,310 528,308 528,295 529,301 529,311 530,310 530,299 531,303 531,312 532,308 532,303 533,304 533,309 534,310 534,307 535,311 535,296 536,309 536,319 537,303 537,301 538,303 538,307 539,307 539,319 540,309 540,303 541,304 541,307 542,306 542,300 543,299 543,315 544,312 544,299 545,307 545,311 546,309 546,307 547,309 547,302 548,310 548,313 549,310 549,304 550,297 550,313 551,307 551,302 552,303 552,312 553,315 553,298 554,298 554,315 555,318 555,310 556,306 556,300 557,300 557,306 558,304 558,317 559,314 559,304 560,299 560,309 561,307 561,317 562,315 562,297 563,299 563,305 564,308 564,309 565,311 565,298 566,306 566,313 567,310 567,304 568,301 568,312 569,316 569,298 570,300 570,308 571,310 571,295 572,305 572,310 573,311 573,304 574,300 574,311 575,306 575,301 576,306 576,316 577,315 577,299 578,301 578,319 579,308 579,301 580,307 580,318 581,317 581,299 582,302 582,314 583,313 583,312 584,311 584,304 585,304 585,303 586,299 586,310 587,307 587,316 588,315 588,300 589,304 589,315 590,314 590,297 591,298 591,316 592,317 592,305 593,307 593,297 594,301 594,311 595,307 595,316 596,309 596,306 597,310 597,299 598,303 598,319 599,306 599,300 600,305 600,307 601,307 601,313 602,310 602,296 603,305 603,310 604,307 604,304 605,302 605,311 606,308 606,297 607,306 607,310 608,307 608,304 609,299 609,316 610,312 610,303 611,304 611,313 612,310 612,300 613,300 613,312 614,312 614,301 615,311 615,312 616,308 616,303 617,305 617,310 618,308 618,305 619,305 619,314 620,307 620,300 621,303 621,308 622,307 622,309 623,306 623,312 624,306 624,298 625,306 625,311 626,311 626,307"/>
<polyline fill="none" stroke="#0000ff" stroke-width="1" stroke-linecap="square" transform="translate(0.5,0.5)" points="43,372 43,373 44,371 44,370 45,372 45,374 46,373 46,372 47,372 47,373 48,372 48,371 49,372 49,373 50,373 50,371 51,371 51,373 52,372 52,371 53,372 53,373 54,372 54,371 55,371 55,372 56,372 56,373 57,372 57,371 58,372 58,373 59,373 59,372 60,372 60,370 61,372 61,373 62,372 62,371 63,372 63,373 64,372 64,371 65,372 65,373 66,372 66,371 67,371 67,373 68,372 68,371 69,372 69,373 70,373 70,372 71,372 71,371 72,371 72,372 73,372 73,373 74,372 74,371 75,372 75,373 76,373 76,370 77,372 77,373 78,372 78,371 79,371 79,373 80,372 80,370 81,371 81,372 82,372 82,373 83,372 83,371 84,371 84,373 85,372 85,374 86,372 86,371 87,371 87,373 88,372 88,371 89,372 89,373 90,373 90,372 91,372 91,371 92,372 92,373 93,373 93,371 94,371 94,370 95,371 95,372 96,372 96,373 97,372 97,371 98,372 98,373 99,372 99,371 100,372 100,373 101,373 101,372 102,372 102,373 103,373 103,372 104,372 104,371 105,372 105,373 106,372 106,371 107,372 107,373 108,372 108,371 109,371 109,372 110,372 110,371 111,372 111,373 112,372 112,371 113,372 113,373 114,372 114,371 115,372 115,373 116,372 116,371 117,372 117,373 118,373 118,372 119,372 119,370 120,372 120,373 121,373 121,372 122,372 122,371 123,371 123,372 124,372 124,373 125,373 125,372 126,371 126,373 127,372 127,371 128,372 128,373 129,372 129,371 130,371 130,372 131,372 131,373 132,373 132,372 133,371 133,373 134,373 134,371 135,371 135,372 136,371 136,374 137,372 137,371 138,372 138,373 139,373 139,371 140,371 140,372 141,372 141,371 142,372 142,373 143,372 143,371 144,371 144,372 145,372 145,371 146,372 146,373 147,373 147,372 148,372 148,371 149,372 149,373 150,373 150,372 151,372 151,373 152,373 152,372 153,372 153,371 154,372 154,374 155,372 155,371 156,371 156,372 157,372 157,373 158,373 158,372 159,372 159,371 160,371 160,373 161,374 161,370 162,370 162,373 163,372 163,374 164,373 164,372 165,372 165,371 166,372 166,373 167,372 167,374 168,373 168,371 169,371 169,372 170,372 170,373 171,373 171,371 172,371 172,373 173,372 173,371 174,372 174,373 175,372 175,371 176,371 176,372 177,372 177,373 178,372 178,371 179,372 179,373 180,372 180,371 181,371 181,372 182,372 182,373 183,371 183,370 184,372 184,373 185,372 185,371 186,371 186,372 187,372 187,371 188,371 188,372 189,372 189,371 190,372 190,374 191,373 191,371 192,371 192,373 193,372 193,374 194,373 194,371 195,372 195,373 196,373 196,372 197,372 197,371 198,371 198,373 199,372 199,371 200,372 200,373 201,372 201,371 202,371 202,373 203,372 203,371 204,371 204,372 205,372 205,371 206,371 206,373 207,373 207,371 208,371 208,372 209,372 209,373 210,372 210,371 211,372 211,373 212,372 212,371 213,371 213,373 214,373 214,372 215,372 215,373 216,372 216,371 217,372 217,373 218,373 218,372 219,372 219,371 220,371 220,374 221,373 221,372 222,371 222,373 223,373 223,372 224,371 224,373 225,373 225,372 226,372 226,371 227,371 227,372 228,372 228,373 229,373 229,372 230,372 230,373 231,373 231,372 232,372 232,373 233,372 233,371 234,372 234,373 235,373 235,371 236,372 236,373 237,373 237,372 238,372 238,371 239,371 239,372 240,371 240,383 241,396 241,339 242,346 242,392 243,391 243,348 244,373 244,382 245,377 245,363 246,364 246,374 247,387 247,356 248,359 248,382 249,379 249,361 250,368 250,388 251,365 251,364 252,369 252,387 253,377 253,366 254,372 254,359 255,364 255,375 256,377 256,385 257,362 257,355 258,364 258,381 259,377 259,372 260,374 260,382 261,372 261,362 262,370 262,377 263,372 263,370 264,360 264,388 265,370 265,363 266,364 266,376 267,377 267,366 268,371 268,356 269,363 269,375 270,369 270,381 271,374 271,364 272,372 272,380 273,382 273,357 274,375 274,384 275,370 275,364 276,376 276,382 277,368 277,359 278,371 278,380 279,376 279,367 280,366 280,375 281,373 281,364 282,372 282,378 283,378 283,365 284,365 284,371 285,372 285,374 286,377 286,370 287,374 287,363 288,370 288,376 289,375 289,371 290,373 290,368 291,368 291,376 292,379 292,367 293,364 293,375 294,376 294,365 295,370 295,375 296,373 296,365 297,371 297,378 298,377 298,374 299,373 299,377 300,373 300,363 301,366 301,376 302,382 302,364 303,374 303,381 304,373 304,366 305,370 305,382 306,374 306,371 307,370 307,378 308,379 308,370 309,376 309,361 310,362 310,374 311,370 311,387 312,376 312,342 313,347 313,396 314,382 314,363 315,357 315,374 316,352 316,396 317,373 317,359 318,379 318,387 319,378 319,356 320,354 320,396 321,382 321,362 322,371 322,385 323,381 323,344 324,371 324,385 325,371 325,367 326,350 326,396 327,373 327,366 328,369 328,374 329,378 329,360 330,362 330,369 331,372 331,384 332,377 332,360 333,368 333,372 334,383 334,360 335,364 335,379 336,383 336,366 337,363 337,355 338,369 338,375 339,373 339,384 340,377 340,362 341,364 341,376 342,378 342,366 343,368 343,372 344,372 344,378 345,367 345,360 346,373 346,391 347,376 347,366 348,361 348,375 349,375 349,380 350,370 350,367 351,368 351,373 352,376 352,377 353,377 353,366 354,368 354,374 355,384 355,362 356,369 356,373 357,371 357,368 358,366 358,377 359,378 359,367 360,363 360,377 361,387 361,365 362,371 362,358 363,373 363,381 364,375 364,359 365,368 365,376 366,379 366,364 367,370 367,373 368,375 368,367 369,363 369,376 370,381 370,362 371,368 371,376 372,374 372,366 373,363 373,373 374,368 374,383 375,379 375,367 376,367 376,366 377,371 377,378 378,377 378,369 379,367 379,381 380,372 380,368 381,368 381,373 382,368 382,384 383,375 383,370 384,367 384,377 385,379 385,368 386,369 386,365 387,370 387,375 388,374 388,365 389,370 389,381 390,374 390,369 391,368 391,376 392,370 392,384 393,372 393,360 394,371 394,377 395,374 395,371 396,375 396,379 397,376 397,360 398,365 398,378 399,376 399,385 400,374 400,366 401,365 401,374 402,375 402,371 403,369 403,376 404,377 404,371 405,371 405,366 406,370 406,376 407,376 407,372 408,376 408,367 409,366 409,371 410,370 410,374 411,375 411,367 412,370 412,375 413,372 413,367 414,370 414,376 415,371 415,368 416,371 416,375 417,370 417,365 418,369 418,372 419,372 419,369 420,369 420,367 421,369 421,373 422,371 422,367 423,371 423,372 424,372 424,367 425,369 425,374 426,370 426,362 427,369 427,379 428,371 428,365 429,366 429,368 430,370 430,372 431,373 431,365 432,369 432,370 433,370 433,366 434,369 434,372 435,372 435,367 436,366 436,371 437,373 437,367 438,370 438,371 439,373 439,368 440,368 440,373 441,371 441,368 442,370 442,373 443,371 443,370 444,371 444,367 445,370 445,371 446,370 446,373 447,370 447,367 448,369 448,371 449,370 449,366 450,371 450,374 451,369 451,367 452,368 452,372 453,372 453,368 454,369 454,372 455,371 455,367 456,369 456,371 457,369 457,368 458,371 458,373 459,369 459,368 460,369 460,372 461,370 461,374 462,371 462,370 463,370 463,369 464,371 464,373 465,372 465,371 466,370 466,369 467,370 467,372 468,371 468,369 469,369 469,371 470,371 470,370 471,371 471,372 472,373 472,370 473,369 473,371 474,370 474,374 475,374 475,371 476,371 476,374 477,372 477,370 478,370 478,373 479,373 479,372 480,372 480,371 481,370 481,372 482,372 482,374 483,375 483,372 484,371 484,375 485,374 485,370 486,373 486,375 487,372 487,371 488,371 488,373 489,373 489,372 490,371 490,374 491,372 491,371 492,373 492,375 493,373 493,371 494,372 494,375 495,375 495,373 496,374 496,371 497,372 497,374 498,375 498,372 499,372 499,375 500,375 500,373 501,373 501,372 502,374 502,375 503,374 503,372 504,371 504,375 505,375 505,373 506,374 506,371 507,372 507,373 508,373 508,374 509,373 509,370 510,372 510,375 511,372 511,371 512,372 512,369 513,374 513,375 514,371 514,370 515,371 515,373 516,372 516,371 517,371 517,369 518,372 518,374 519,371 519,370 520,369 520,372 521,373 521,370 522,369 522,372 523,373 523,370 524,369 524,372 525,373 525,369 526,367 526,372 527,371 527,373 528,370 528,367 529,369 529,371 530,373 530,368 531,368 531,373 532,371 532,368 533,369 533,370 534,370 534,372 535,370 535,369 536,368 536,371 537,371 537,370 538,370 538,369 539,370 539,371 540,369 540,367 541,370 541,371 542,371 542,370 543,371 543,368 544,368 544,370 545,369 545,372 546,370 546,368 547,368 547,370 548,368 548,373 549,373 549,370 550,369 550,368 551,369 551,371 552,371 552,372 553,371 553,370 554,369 554,371 555,371 555,372 556,372 556,367 557,371 557,372 558,371 558,369 559,369 559,371 560,371 560,370 561,370 561,371 562,371 562,369 563,370 563,371 564,370 564,372 565,371 565,369 566,370 566,372 567,372 567,370 568,370 568,372 569,371 569,369 570,370 570,371 571,372 571,368 572,372 572,373 573,373 573,370 574,370 574,373 575,371 575,369 576,369 576,373 577,372 577,371 578,371 578,373 579,371 579,369 580,371 580,372 581,372 581,370 582,370 582,372 583,371 583,370 584,371 584,373 585,373 585,369 586,370 586,372 587,372 587,371 588,371 588,373 589,371 589,370 590,371 590,372 591,371 591,370 592,370 592,372 593,372 593,370 594,371 594,372 595,371 595,373 596,372 596,370 597,370 597,372 598,372 598,369 599,371 599,372 600,373 600,370 601,370 601,372 602,372 602,370 603,370 603,372 604,373 604,369 605,371 605,372 606,372 606,370 607,370 607,373 608,372 608,369 609,371 609,372 610,371 610,373 611,371 611,370 612,371 612,368 613,369 613,372 614,372 614,373 615,369 615,368 616,370 616,373 617,370 617,369 618,369 618,370 619,369 619,371 620,371 620,370 621,371 621,368 622,371 622,372 623,371 623,370 624,371 624,368 625,371 625,372 626,371 626,370 627,370 627,368 628,370 628,371 629,371 629,370 630,370 630,368 631,369 631,370 632,370 632,369 633,368 633,371 634,371 634,369 635,369 635,373 636,369 636,367 637,369 637,371"/>
<polyline fill="none" stroke="#0000ff" stroke-width="1" stroke-linecap="square" transform="translate(0.5,0.5)" points="45,434 45,437 46,437 46,435 47,436 47,438 48,441 48,434 49,432 49,438 50,439 50,434 51,435 51,437 52,437 52,435 53,434 53,436 54,435 54,439 55,437 55,434 56,435 56,438 57,438 57,433 58,435 58,437 59,436 59,435 60,434 60,439 61,438 61,432 62,435 62,438 63,438 63,435 64,435 64,438 65,437 65,434 66,434 66,437 67,436 67,435 68,436 68,437 69,437 69,434 70,436 70,438 71,436 71,434 72,434 72,437 73,436 73,440 74,438 74,434 75,436 75,437 76,437 76,435 77,436 77,437 78,435 78,440 79,437 79,432 80,436 80,440 81,440 81,434 82,434 82,440 83,437 83,435 84,435 84,437 85,436 85,435 86,435 86,438 87,436 87,433 88,437 88,440 89,436 89,433 90,435 90,438 91,438 91,434 92,433 92,437 93,437 93,439 94,436 94,434 95,435 95,437 96,436 96,440 97,438 97,431 98,433 98,437 99,434 99,433 100,434 100,439 101,436 101,432 102,436 102,437 103,436 103,438 104,439 104,432 105,433 105,437 106,437 106,436 107,436 107,438 108,437 108,432 109,437 109,439 110,439 110,436 111,435 111,437 112,437 112,434 113,436 113,437 114,439 114,434 115,433 115,440 116,438 116,435 117,435 117,437 118,436 118,440 119,439 119,435 120,435 120,437 121,437 121,436 122,436 122,435 123,435 123,434 124,434 124,437 125,436 125,438 126,438 126,434 127,434 127,435 128,435 128,440 129,436 129,431 130,436 130,439 131,440 131,434 132,432 132,437 133,437 133,435 134,437 134,432 135,435 135,437 136,438 136,434 137,434 137,440 138,437 138,436 139,438 139,433 140,433 140,439 141,438 141,433 142,432 142,442 143,435 143,432 144,435 144,439 145,435 145,434 146,434 146,436 147,435 147,438 148,436 148,434 149,436 149,438 150,435 150,432 151,432 151,438 152,437 152,434 153,435 153,438 154,437 154,436 155,434 155,439 156,437 156,436 157,435 157,437 158,435 158,434 159,436 159,437 160,438 160,435 161,438 161,431 162,432 162,438 163,440 163,435 164,433 164,439 165,438 165,433 166,436 166,438 167,436 167,434 168,434 168,438 169,439 169,433 170,435 170,438 171,436 171,435 172,435 172,431 173,434 173,439 174,440 174,432 175,432 175,437 176,436 176,438 177,437 177,436 178,435 178,437 179,436 179,434 180,435 180,439 181,437 181,433 182,434 182,435 183,435 183,442 184,435 184,434 185,434 185,437 186,438 186,434 187,436 187,437 188,439 188,429 189,433 189,439 190,439 190,434 191,432 191,440 192,440 192,436 193,436 193,433 194,434 194,437 195,437 195,433 196,433 196,436 197,437 197,434 198,436 198,438 199,436 199,432 200,435 200,439 201,435 201,434 202,434 202,437 203,437 203,433 204,437 204,438 205,437 205,434 206,434 206,437 207,435 207,433 208,436 208,439 209,438 209,435 210,435 210,434 211,435 211,438 212,436 212,435 213,436 213,440 214,436 214,432 215,438 215,439 216,436 216,432 217,436 217,439 218,435 218,434 219,435 219,440 220,435 220,433 221,436 221,440 222,436 222,434 223,435 223,436 224,436 224,435 225,435 225,438 226,436 226,435 227,435 227,433 228,434 228,441 229,439 229,433 230,433 230,438 231,439 231,434 232,434 232,437 233,437 233,434 234,433 234,437 235,439 235,434 236,435 236,438 237,438 237,434 238,435 238,441 239,438 239,435 240,435 240,434 241,436 241,439 242,437 242,428 243,454 243,399 244,412 244,455 245,444 245,433 246,415 246,456 247,456 247,434 248,432 248,411 249,436 249,455 250,456 250,426 251,434 251,451 252,454 252,419 253,424 253,450 254,444 254,413 255,431 255,450 256,446 256,424 257,426 257,451 258,451 258,444 259,443 259,429 260,428 260,442 261,446 261,430 262,430 262,452 263,442 263,428 264,431 264,444 265,436 265,430 266,433 266,443 267,442 267,432 268,426 268,446 269,446 269,432 270,440 270,420 271,441 271,456 272,443 272,418 273,438 273,444 274,433 274,429 275,435 275,449 276,431 276,426 277,430 277,450 278,442 278,427 279,433 279,443 280,441 280,438 281,434 281,424 282,434 282,445 283,443 283,436 284,431 284,442 285,448 285,429 286,434 286,444 287,445 287,434 288,436 288,422 289,436 289,438 290,444 290,422 291,426 291,453 292,446 292,421 293,433 293,444 294,436 294,434 295,436 295,442 296,433 296,430 297,437 297,450 298,441 298,432 299,429 299,439 300,440 300,435 301,435 301,432 302,436 302,441 303,437 303,429 304,429 304,440 305,445 305,433 306,430 306,437 307,441 307,428 308,431 308,441 309,443 309,437 310,442 310,426 311,433 311,435 312,419 312,454 313,435 313,429 314,422 314,452 315,438 315,429 316,428 316,438 317,439 317,440 318,441 318,428 319,427 319,453 320,433 320,428 321,434 321,445 322,442 322,437 323,436 323,425 324,434 324,441 325,447 325,434 326,437 326,427 327,429 327,441 328,439 328,435 329,434 329,438 330,436 330,443 331,438 331,428 332,425 332,452 333,438 333,426 334,435 334,444 335,437 335,429 336,430 336,439 337,439 337,442 338,434 338,431 339,432 339,435 340,432 340,440 341,438 341,430 342,433 342,436 343,435 343,440 344,438 344,430 345,437 345,438 346,437 346,434 347,432 347,440 348,442 348,430 349,428 349,435 350,436 350,442 351,442 351,432 352,431 352,442 353,441 353,430 354,437 354,440 355,439 355,434 356,434 356,436 357,436 357,433 358,434 358,440 359,443 359,428 360,432 360,436 361,428 361,446 362,442 362,428 363,431 363,438 364,442 364,432 365,433 365,440 366,435 366,428 367,429 367,438 368,436 368,431 369,429 369,442 370,438 370,432 371,434 371,436 372,434 372,439 373,438 373,435 374,436 374,433 375,436 375,444 376,437 376,430 377,431 377,440 378,441 378,432 379,433 379,436 380,435 380,433 381,433 381,442 382,441 382,431 383,435 383,439 384,440 384,429 385,436 385,438 386,438 386,437 387,437 387,432 388,431 388,438 389,437 389,440 390,437 390,433 391,436 391,442 392,439 392,433 393,434 393,435 394,435 394,437 395,434 395,429 396,435 396,437 397,438 397,434 398,435 398,437 399,435 399,433 400,436 400,438 401,436 401,432 402,433 402,435 403,437 403,438 404,436 404,431 405,433 405,439 406,441 406,435 407,429 407,441 408,437 408,431 409,434 409,438 410,437 410,436 411,435 411,432 412,432 412,438 413,436 413,435 414,436 414,440 415,436 415,430 416,437 416,439 417,438 417,432 418,434 418,437 419,440 419,432 420,437 420,439 421,438 421,437 422,438 422,434 423,431 423,438 424,438 424,435 425,435 425,437 426,438 426,433 427,434 427,435 428,436 428,438 429,440 429,435 430,436 430,430 431,435 431,440 432,438 432,435 433,435 433,431 434,432 434,438 435,435 435,442 436,438 436,433 437,434 437,439 438,439 438,433 439,433 439,435 440,433 440,437 441,439 441,433 442,433 442,437 443,433 443,432 444,432 444,433 445,436 445,441 446,436 446,426 447,435 447,440 448,434 448,433 449,437 449,441 450,435 450,432 451,433 451,436 452,438 452,432 453,437 453,438 454,434 454,433 455,434 455,436 456,434 456,439 457,437 457,436 458,437 458,433 459,435 459,440 460,437 460,434 461,436 461,437 462,437 462,438 463,438 463,435 464,434 464,437 465,435 465,440 466,436 466,427 467,436 467,439 468,436 468,433 469,435 469,440 470,439 470,435 471,435 471,429 472,436 472,441 473,442 473,435 474,433 474,431 475,434 475,439 476,437 476,435 477,441 477,425 478,432 478,442 479,438 479,434 480,432 480,439 481,434 481,433 482,431 482,440 483,436 483,428 484,434 484,442 485,437 485,431 486,434 486,436 487,435 487,437 488,436 488,433 489,437 489,446 490,437 490,431 491,436 491,439 492,436 492,434 493,434 493,437 494,437 494,434 495,430 495,441 496,437 496,429 497,435 497,440 498,435 498,432 499,434 499,438 500,443 500,431 501,430 501,444 502,435 502,434 503,433 503,441 504,439 504,432 505,432 505,441 506,435 506,428 507,437 507,440 508,435 508,432 509,432 509,439 510,437 510,433 511,434 511,440 512,436 512,431 513,434 513,444 514,437 514,431 515,431 515,434 516,436 516,443 517,438 517,432 518,431 518,433 519,436 519,440 520,435 520,431 521,434 521,438 522,440 522,434 523,435 523,437 524,439 524,434 525,436 525,437 526,438 526,435 527,432 527,439 528,438 528,436 529,436 529,433 530,430 530,441 531,439 531,431 532,432 532,437 533,435 533,432 534,436 534,438 535,439 535,436 536,434 536,433 537,435 537,438 538,436 538,440 539,437 539,428 540,435 540,438 541,437 541,432 542,434 542,439 543,435 543,434 544,435 544,438 545,436 545,435 546,439 546,427 547,430 547,441 548,439 548,431 549,432 549,433 550,434 550,441 551,435 551,431 552,433 552,437 553,439 553,433 554,432 554,440 555,437 555,432 556,435 556,438 557,435 557,432 558,435 558,438 559,437 559,432 560,436 560,437 561,436 561,432 562,433 562,437 563,438 563,435 564,436 564,438 565,438 565,435 566,438 566,431 567,435 567,439 568,437 568,434 569,431 569,440 570,437 570,433 571,434 571,437 572,437 572,438 573,436 573,432 574,431 574,434 575,440 575,442 576,437 576,431 577,433 577,439 578,435 578,432 579,436 579,438 580,437 580,436 581,437 581,434 582,433 582,438 583,438 583,432 584,432 584,435 585,435 585,430 586,434 586,440 587,437 587,434 588,431 588,437 589,434 589,440 590,438 590,435 591,437 591,432 592,436 592,439 593,439 593,433 594,434 594,438 595,434 595,431 596,433 596,437 597,437 597,441 598,435 598,432 599,432 599,437 600,435 600,441 601,438 601,433 602,433 602,438 603,439 603,431 604,438 604,439 605,436 605,435 606,434 606,438 607,440 607,431 608,432 608,438 609,438 609,432 610,434 610,435 611,436 611,432 612,437 612,441 613,432 613,431 614,436 614,441 615,436 615,433 616,434 616,440 617,436 617,429 618,431 618,436 619,434 619,438 620,437 620,431 621,432 621,438 622,436 622,434 623,433 623,437 624,436 624,428 625,435 625,441 626,439 626,433 627,431 627,440 628,435 628,434 629,434 629,440 630,440 630,430 631,434 631,438 632,435 632,434 633,436 633,440 634,433 634,432 635,436 635,439 636,438 636,431 637,433 637,441 638,438 638,433 639,435 639,438"/>
<polyline fill="none" stroke="#280a5a" stroke-width="1" stroke-linecap="square" transform="translate(0.5,0.5)" points="49,476 49,480 50,482 50,476 51,479 51,481 52,478 52,474 53,478 53,479 54,478 54,475 55,475 55,477 56,478 56,475 57,475 57,478 58,476 58,475 59,475 59,474 60,473 60,476 61,476 61,473 62,472 62,474 63,473 63,477 64,475 64,472 65,472 65,471 66,472 66,474 67,474 67,473 68,471 68,470 69,473 69,475 70,473 70,470 71,471 71,473 72,471 72,470 73,471 73,472 74,471 74,473 75,473 75,472 76,472 76,471 77,471 77,469 78,472 78,473 79,472 79,470 80,470 80,472 81,473 81,476 82,474 82,473 83,473 83,472 84,475 84,477 85,476 85,475 86,476 86,479 87,477 87,475 88,477 88,480 89,479 89,478 90,477 90,480 91,479 91,481 92,480 92,479 93,480 93,482 94,483 94,480 95,482 95,484 96,484 96,481 97,481 97,485 98,485 98,487 99,485 99,482 100,483 100,487 101,487 101,486 102,484 102,488 103,487 103,485 104,485 104,490 105,490 105,487 106,489 106,490 107,489 107,487 108,486 108,489 109,488 109,490 110,490 110,487 111,489 111,491 112,489 112,493 113,488 113,487 114,487 114,490 115,490 115,488 116,488 116,487 117,487 117,490 118,490 118,487 119,487 119,485 120,487 120,489 121,487 121,484 122,485 122,487 123,488 123,484 124,485 124,486 125,485 125,483 126,482 126,484 127,484 127,487 128,484 128,483 129,482 129,481 130,480 130,483 131,483 131,481 132,482 132,479 133,478 133,482 134,481 134,478 135,478 135,477 136,478 136,479 137,478 137,477 138,476 138,479 139,479 139,474 140,475 140,480 141,478 141,475 142,475 142,478 143,477 143,473 144,473 144,477 145,478 145,475 146,473 146,478 147,478 147,479 148,477 148,475 149,475 149,479 150,478 150,476 151,476 151,479 152,480 152,477 153,477 153,480 154,480 154,477 155,480 155,482 156,482 156,479 157,479 157,482 158,481 158,483 159,482 159,481 160,482 160,483 161,484 161,485 162,484 162,483 163,483 163,485 164,484 164,488 165,487 165,485 166,486 166,489 167,488 167,487 168,488 168,490 169,490 169,487 170,488 170,490 171,490 171,491 172,491 172,489 173,490 173,491 174,491 174,492 175,491 175,490 176,489 176,491 177,489 177,488 178,490 178,491 179,490 179,489 180,489 180,492 181,490 181,487 182,490 182,491 183,488 183,487 184,487 184,488 185,488 185,491 186,488 186,487 187,487 187,488 188,487 188,486 189,488 189,490 190,487 190,484 191,483 191,487 192,486 192,485 193,485 193,484 194,484 194,485 195,484 195,483 196,483 196,485 197,484 197,482 198,484 198,486 199,484 199,482 200,483 200,484 201,483 201,482 202,481 202,485 203,482 203,480 204,483 204,486 205,484 205,483 206,483 206,480 207,481 207,486 208,485 208,482 209,481 209,483 210,482 210,486 211,485 211,481 212,484 212,485 213,483 213,481 214,483 214,485 215,485 215,486 216,485 216,483 217,485 217,487 218,487 218,485 219,486 219,490 220,490 220,486 221,487 221,490 222,490 222,487 223,489 223,491 224,490 224,493 225,490 225,489 226,491 226,494 227,493 227,492 228,491 228,494 229,495 229,492 230,491 230,495 231,494 231,493 232,494 232,491 233,492 233,493 234,493 234,491 235,490 235,495 236,492 236,489 237,490 237,493 238,492 238,488 239,487 239,491 240,492 240,489 241,490 241,485 242,488 242,490 243,489 243,486 244,487 244,488 245,487 245,485 246,486 246,489 247,487 247,485 248,483 248,487 249,488 249,501 250,493 250,484 251,485 251,473 252,490 252,494 253,496 253,485 254,495 254,468 255,475 255,497 256,488 256,459 257,482 257,501 258,506 258,474 259,465 259,500 260,494 260,477 261,476 261,493 262,502 262,475 263,481 263,493 264,479 264,477 265,491 265,493 266,489 266,482 267,486 267,476 268,487 268,493 269,487 269,483 270,485 270,498 271,479 271,474 272,476 272,487 273,489 273,490 274,488 274,480 275,477 275,490 276,499 276,473 277,477 277,488 278,481 278,499 279,491 279,478 280,478 280,490 281,490 281,465 282,485 282,499 283,483 283,465 284,484 284,486 285,482 285,479 286,473 286,489 287,487 287,480 288,481 288,489 289,485 289,475 290,490 290,496 291,484 291,473 292,478 292,498 293,484 293,470 294,485 294,496 295,483 295,473 296,477 296,487 297,488 297,478 298,482 298,472 299,475 299,484 300,478 300,491 301,485 301,477 302,473 302,483 303,482 303,486 304,481 304,472 305,474 305,490 306,486 306,479 307,480 307,482 308,477 308,494 309,492 309,479 310,489 310,465 311,477 311,480 312,480 312,498 313,484 313,479 314,476 314,490 315,484 315,473 316,481 316,492 317,485 317,505 318,477 318,468 319,475 319,489 320,490 320,461 321,459 321,483 322,479 322,500 323,481 323,472 324,481 324,485 325,489 325,476 326,468 326,501 327,494 327,489 328,487 328,471 329,468 329,493 330,475 330,515 331,492 331,481 332,484 332,503 333,494 333,479 334,479 334,495 335,504 335,478 336,491 336,464 337,484 337,497 338,501 338,486 339,479 339,516 340,490 340,472 341,472 341,486 342,483 342,516 343,504 343,470 344,480 344,499 345,505 345,491 346,491 346,498 347,493 347,483 348,497 348,503 349,501 349,482 350,475 350,498 351,501 351,485 352,483 352,503 353,500 353,484 354,495 354,500 355,489 355,486 356,476 356,505 357,512 357,494 358,491 358,504 359,497 359,476 360,480 360,507 361,505 361,479 362,487 362,502 363,512 363,480 364,476 364,489 365,494 365,500 366,478 366,475 367,490 367,496 368,483 368,461 369,497 369,499 370,489 370,483 371,469 371,499 372,497 372,466 373,486 373,494 374,487 374,477 375,474 375,497 376,499 376,460 377,471 377,490 378,493 378,477 379,483 379,470 380,471 380,481 381,470 381,493 382,484 382,477 383,477 383,486 384,488 384,462 385,473 385,491 386,483 386,476 387,474 387,482 388,472 388,492 389,486 389,473 390,472 390,485 391,476 391,498 392,472 392,468 393,478 393,483 394,483 394,477 395,480 395,483 396,481 396,475 397,474 397,486 398,481 398,473 399,476 399,482 400,477 400,473 401,474 401,486 402,481 402,479 403,476 403,465 404,483 404,484 405,482 405,477 406,477 406,483 407,482 407,474 408,474 408,485 409,484 409,483 410,482 410,474 411,476 411,485 412,486 412,481 413,479 413,484 414,481 414,479 415,480 415,484 416,481 416,475 417,481 417,485 418,488 418,479 419,475 419,483 420,481 420,487 421,486 421,479 422,482 422,483 423,481 423,479 424,482 424,487 425,487 425,481 426,482 426,479 427,483 427,487 428,493 428,478 429,479 429,489 430,486 430,492 431,488 431,486 432,485 432,480 433,487 433,488 434,488 434,483 435,486 435,491 436,490 436,481 437,488 437,491 438,486 438,485 439,485 439,487 440,487 440,492 441,489 441,485 442,486 442,490 443,490 443,489 444,488 444,490 445,488 445,493 446,493 446,489 447,491 447,494 448,495 448,491 449,490 449,495 450,496 450,498 451,499 451,494 452,494 452,495 453,496 453,497 454,498 454,494 455,492 455,497 456,496 456,500 457,495 457,493 458,492 458,495 459,496 459,500 460,496 460,490 461,489 461,493 462,492 462,497 463,494 463,492 464,492 464,491 465,490 465,488 466,490 466,492 467,490 467,486 468,485 468,490 469,490 469,487 470,486 470,488 471,489 471,486 472,487 472,488 473,487 473,486 474,485 474,483 475,483 475,488 476,489 476,481 477,482 477,486 478,486 478,481 479,479 479,486 480,485 480,482 481,481 481,479 482,484 482,487 483,483 483,477 484,479 484,485 485,487 485,480 486,480 486,483 487,483 487,480 488,479 488,484 489,486 489,480 490,481 490,483 491,481 491,480 492,481 492,483 493,482 493,480 494,480 494,485 495,481 495,477 496,481 496,482 497,482 497,480 498,480 498,483 499,480 499,478 500,479 500,480 501,481 501,484 502,478 502,475 503,475 503,477 504,478 504,480 505,479 505,475 506,477 506,472 507,472 507,477 508,478 508,471 509,474 509,477 510,474 510,468 511,474 511,475 512,470 512,469 513,474 513,475 514,471 514,470 515,470 515,473 516,472 516,470 517,472 517,465 518,468 518,473 519,473 519,469 520,468 520,470 521,470 521,473 522,472 522,475 523,471 523,467 524,472 524,479 525,476 525,470 526,470 526,475 527,478 527,471 528,474 528,478 529,478 529,473 530,476 530,480 531,483 531,475 532,476 532,482 533,483 533,484 534,482 534,479 535,485 535,487 536,486 536,491 537,489 537,488 538,489 538,490 539,491 539,493 540,491 540,495 541,493 541,492 542,489 542,495 543,497 543,491 544,493 544,497 545,497 545,496 546,493 546,490 547,499 547,501 548,499 548,494 549,494 549,498 550,497 550,503 551,501 551,495 552,493 552,498 553,496 553,502 554,502 554,497 555,498 555,502 556,503 556,498 557,497 557,502 558,504 558,498 559,495 559,502 560,504 560,495 561,499 561,504 562,499 562,498 563,498 563,497 564,498 564,500 565,500 565,498 566,496 566,500 567,496 567,495 568,493 568,497 569,495 569,499 570,495 570,491 571,490 571,496 572,495 572,498 573,495 573,491 574,492 574,489 575,490 575,493 576,493 576,491 577,492 577,488 578,489 578,493 579,495 579,490 580,489 580,487 581,488 581,491 582,491 582,489 583,488 583,487 584,487 584,491 585,487 585,484 586,487 586,488 587,484 587,483 588,489 588,490 589,485 589,483 590,482 590,486 591,486 591,484 592,485 592,481 593,478 593,488 594,488 594,481 595,480 595,483 596,482 596,484 597,484 597,482 598,482 598,478 599,479 599,486 600,482 600,478 601,478 601,482 602,482 602,481 603,482 603,479 604,478 604,480 605,481 605,476 606,478 606,480 607,481 607,476 608,477 608,479 609,480 609,476 610,475 610,478 611,478 611,480 612,477 612,476 613,478 613,479 614,481 614,476 615,477 615,481 616,481 616,476 617,476 617,481 618,480 618,484 619,480 619,477 620,481 620,482 621,484 621,479 622,478 622,482 623,484 623,479 624,483 624,485 625,484 625,482 626,482 626,487 627,487 627,484 628,482 628,487 629,488 629,485 630,487 630,489 631,488 631,486 632,487 632,489 633,489 633,486 634,489 634,491 635,488 635,487 636,489 636,494 637,491 637,486 638,487 638,498 639,497 639,487 640,490 640,497 641,493 641,491"/>
<polyline fill="none" stroke="#280a5a" stroke-width="1" stroke-linecap="square" transform="translate(0.5,0.5)" points="49,539 49,540 50,540 50,539 51,538 51,537 52,538 52,539 53,538 53,536 54,536 54,537 55,537 55,536 56,536 56,537 57,536 57,533 58,535 58,536 59,535 59,534 60,534 60,535 61,534 61,533 62,533 62,535 63,535 63,533 64,534 64,535 65,533 65,532 66,532 66,533 67,533 67,532 68,533 68,530 69,532 69,534 70,533 70,531 71,531 71,529 72,532 72,533 73,533 73,531 74,531 74,529 75,531 75,532 76,532 76,531 77,531 77,533 78,532 78,530 79,531 79,532 80,532 80,531 81,532 81,533 82,533 82,534 83,535 83,532 84,534 84,537 85,536 85,533 86,534 86,535 87,535 87,537 88,536 88,535 89,536 89,538 90,538 90,535 91,538 91,539 92,539 92,538 93,539 93,540 94,540 94,539 95,539 95,541 96,540 96,542 97,542 97,541 98,541 98,540 99,541 99,543 100,542 100,544 101,543 101,541 102,542 102,543 103,542 103,544 104,543 104,545 105,544 105,541 106,543 106,544 107,544 107,542 108,542 108,543 109,543 109,542 110,542 110,543 111,543 111,541 112,540 112,543 113,541 113,540 114,541 114,542 115,541 115,540 116,540 116,541 117,540 117,539 118,539 118,540 119,539 119,538 120,539 120,540 121,540 121,539 122,537 122,536 123,539 123,540 124,539 124,538 125,538 125,537 126,537 126,538 127,538 127,536 128,536 128,537 129,537 129,539 130,538 130,536 131,537 131,538 132,539 132,536 133,538 133,539 134,538 134,537 135,538 135,540 136,541 136,538 137,539 137,540 138,540 138,538 139,538 139,541 140,540 140,542 141,541 141,540 142,539 142,542 143,542 143,541 144,542 144,543 145,542 145,541 146,541 146,543 147,543 147,542 148,543 148,544 149,544 149,541 150,542 150,543 151,543 151,542 152,543 152,544 153,542 153,541 154,541 154,542 155,542 155,543 156,541 156,540 157,540 157,542 158,540 158,538 159,538 159,539 160,538 160,540 161,538 161,537 162,538 162,535 163,535 163,538 164,538 164,537 165,536 165,535 166,535 166,536 167,535 167,534 168,535 168,537 169,535 169,533 170,533 170,534 171,534 171,536 172,535 172,531 173,531 173,533 174,534 174,531 175,531 175,534 176,532 176,530 177,529 177,532 178,531 178,533 179,531 179,530 180,530 180,531 181,531 181,532 182,531 182,533 183,532 183,531 184,531 184,532 185,532 185,533 186,531 186,536 187,534 187,531 188,533 188,535 189,535 189,534 190,534 190,535 191,535 191,534 192,535 192,537 193,536 193,533 194,535 194,537 195,537 195,536 196,536 196,537 197,537 197,535 198,537 198,539 199,537 199,536 200,536 200,537 201,536 201,538 202,538 202,537 203,536 203,538 204,538 204,537 205,537 205,536 206,537 206,538 207,538 207,537 208,538 208,539 209,538 209,537 210,538 210,539 211,538 211,537 212,538 212,539 213,538 213,537 214,537 214,538 215,538 215,539 216,539 216,536 217,538 217,541 218,539 218,537 219,538 219,540 220,540 220,542 221,539 221,538 222,539 222,541 223,541 223,540 224,540 224,542 225,540 225,539 226,541 226,542 227,542 227,541 228,540 228,543 229,543 229,541 230,542 230,543 231,542 231,540 232,542 232,543 233,544 233,541 234,541 234,543 235,543 235,541 236,542 236,543 237,542 237,541 238,541 238,542 239,542 239,541 240,540 240,542 241,542 241,541 242,540 242,542 243,541 243,540 244,540 244,541 245,540 245,539 246,538 246,540 247,540 247,537 248,538 248,540 249,538 249,537 250,537 250,538 251,537 251,535 252,537 252,540 253,538 253,529 254,536 254,538 255,539 255,533 256,531 256,535 257,536 257,537 258,538 258,546 259,541 259,532 260,537 260,543 261,543 261,534 262,535 262,546 263,545 263,538 264,543 264,544 265,544 265,552 266,543 266,539 267,544 267,552 268,550 268,545 269,545 269,541 270,545 270,551 271,553 271,542 272,544 272,550 273,553 273,546 274,541 274,551 275,551 275,543 276,543 276,554 277,550 277,543 278,546 278,548 279,546 279,555 280,552 280,545 281,542 281,551 282,551 282,544 283,548 283,550 284,547 284,544 285,546 285,552 286,549 286,546 287,546 287,545 288,548 288,541 289,547 289,550 290,548 290,543 291,543 291,542 292,544 292,549 293,546 293,544 294,544 294,543 295,541 295,537 296,545 296,547 297,546 297,542 298,539 298,550 299,548 299,539 300,540 300,549 301,547 301,537 302,539 302,542 303,541 303,537 304,540 304,548 305,546 305,537 306,535 306,540 307,537 307,548 308,548 308,538 309,536 309,547 310,538 310,537 311,533 311,541 312,542 312,536 313,537 313,543 314,538 314,529 315,540 315,543 316,537 316,536 317,534 317,528 318,531 318,533 319,534 319,542 320,534 320,528 321,534 321,535 322,535 322,542 323,538 323,535 324,532 324,538 325,537 325,539 326,536 326,542 327,524 327,560 328,547 328,532 329,540 329,548 330,568 330,526 331,537 331,572 332,550 332,544 333,534 333,556 334,557 334,564 335,551 335,527 336,525 336,559 337,555 337,563 338,553 338,547 339,544 339,554 340,552 340,547 341,525 341,570 342,553 342,547 343,545 343,550 344,530 344,576 345,571 345,548 346,543 346,558 347,557 347,545 348,544 348,557 349,556 349,546 350,551 350,564 351,550 351,548 352,550 352,553 353,560 353,539 354,542 354,555 355,559 355,542 356,548 356,551 357,551 357,552 358,547 358,543 359,550 359,562 360,557 360,545 361,534 361,558 362,552 362,549 363,548 363,551 364,546 364,540 365,539 365,557 366,556 366,542 367,539 367,547 368,543 368,558 369,550 369,540 370,549 370,550 371,548 371,540 372,543 372,544 373,547 373,550 374,547 374,543 375,545 375,546 376,542 376,550 377,545 377,540 378,537 378,554 379,549 379,538 380,541 380,545 381,548 381,538 382,540 382,548 383,543 383,542 384,544 384,539 385,541 385,542 386,539 386,546 387,539 387,534 388,538 388,549 389,547 389,543 390,541 390,536 391,541 391,542 392,539 392,537 393,538 393,548 394,549 394,532 395,538 395,539 396,542 396,535 397,536 397,544 398,541 398,536 399,532 399,540 400,539 400,546 401,542 401,533 402,538 402,539 403,542 403,533 404,537 404,541 405,543 405,534 406,534 406,536 407,538 407,542 408,538 408,534 409,534 409,540 410,538 410,534 411,534 411,537 412,539 412,534 413,535 413,541 414,535 414,532 415,533 415,535 416,535 416,540 417,535 417,532 418,531 418,536 419,537 419,534 420,534 420,535 421,536 421,538 422,532 422,530 423,535 423,539 424,540 424,537 425,536 425,532 426,534 426,538 427,537 427,539 428,537 428,535 429,533 429,538 430,539 430,544 431,537 431,532 432,539 432,542 433,536 433,535 434,535 434,543 435,542 435,536 436,534 436,540 437,537 437,544 438,544 438,533 439,540 439,541 440,540 440,539 441,539 441,537 442,536 442,539 443,538 443,541 444,543 444,537 445,539 445,543 446,540 446,534 447,541 447,545 448,541 448,536 449,536 449,542 450,542 450,546 451,540 451,538 452,540 452,545 453,538 453,537 454,536 454,541 455,544 455,534 456,534 456,538 457,537 457,533 458,533 458,536 459,536 459,534 460,533 460,536 461,535 461,532 462,534 462,538 463,534 463,533 464,532 464,535 465,535 465,533 466,534 466,531 467,534 467,535 468,532 468,530 469,533 469,536 470,537 470,530 471,528 471,533 472,532 472,534 473,534 473,536 474,532 474,530 475,534 475,535 476,534 476,532 477,533 477,530 478,530 478,535 479,536 479,531 480,532 480,533 481,535 481,536 482,536 482,538 483,537 483,533 484,536 484,541 485,541 485,537 486,537 486,539 487,539 487,540 488,542 488,537 489,536 489,540 490,540 490,538 491,538 491,539 492,538 492,541 493,541 493,539 494,540 494,534 495,537 495,539 496,541 496,535 497,533 497,537 498,537 498,531 499,537 499,538 500,536 500,534 501,535 501,531 502,532 502,534 503,533 503,536 504,532 504,530 505,530 505,533 506,533 506,530 507,531 507,533 508,531 508,529 509,529 509,531 510,530 510,526 511,529 511,536 512,531 512,528 513,526 513,531 514,529 514,533 515,533 515,529 516,529 516,527 517,529 517,531 518,532 518,533 519,532 519,530 520,530 520,528 521,530 521,532 522,531 522,528 523,529 523,532 524,530 524,529 525,528 525,530 526,530 526,532 527,532 527,529 528,529 528,531 529,532 529,529 530,532 530,537 531,530 531,528 532,530 532,534 533,533 533,531 534,529 534,534 535,532 535,530 536,532 536,536 537,534 537,530 538,531 538,535 539,533 539,532 540,531 540,533 541,534 541,536 542,530 542,528 543,530 543,532 544,533 544,529 545,528 545,531 546,528 546,534 547,532 547,529 548,529 548,533 549,531 549,528 550,527 550,532 551,532 551,529 552,529 552,532 553,530 553,529 554,529 554,531 555,530 555,533 556,532 556,531 557,531 557,529 558,531 558,535 559,535 559,528 560,529 560,532 561,532 561,531 562,532 562,534 563,534 563,530 564,531 564,534 565,534 565,532 566,530 566,536 567,535 567,528 568,531 568,534 569,534 569,531 570,531 570,527 571,531 571,533 572,533 572,530 573,530 573,531 574,531 574,533 575,534 575,527 576,529 576,531 577,533 577,534 578,530 578,527 579,528 579,532 580,532 580,527 581,527 581,531 582,528 582,525 583,525 583,529 584,529 584,525 585,524 585,529 586,528 586,523 587,523 587,526 588,524 588,529 589,527 589,524 590,525 590,526 591,525 591,524 592,524 592,528 593,527 593,529 594,525 594,524 595,525 595,527 596,527 596,528 597,528 597,526 598,526 598,528 599,527 599,530 600,531 600,527 601,530 601,532 602,529 602,528 603,531 603,532 604,531 604,530 605,531 605,533 606,531 606,530 607,531 607,533 608,532 608,534 609,534 609,530 610,533 610,537 611,535 611,533 612,534 612,538 613,538 613,536 614,537 614,533 615,534 615,538 616,537 616,540 617,539 617,537 618,536 618,541 619,541 619,539 620,539 620,535 621,538 621,541 622,541 622,538 623,540 623,535 624,537 624,540 625,541 625,537 626,536 626,540 627,543 627,534 628,533 628,539 629,540 629,537 630,536 630,535 631,536 631,532 632,538 632,540 633,534 633,532 634,535 634,536 635,536 635,537 636,535 636,531 637,533 637,534 638,533 638,535 639,535 639,534 640,534 640,531 641,528 641,535 642,534 642,533 643,533 643,531"/>
<polyline fill="none" stroke="#280a5a" stroke-width="1" stroke-linecap="square" transform="translate(0.5,0.5)" points="52,591 52,592 53,592 53,593 54,593 54,594 55,594 55,595 56,594 56,596 57,596 57,597 58,597 58,598 59,598 59,599 60,599 60,600 61,600 61,599 62,599 62,600 63,600 63,601 64,601 64,602 65,602 65,601 66,602 66,603 67,603 67,602 68,602 68,603 69,603 69,604 70,604 70,603 71,603 71,604 72,604 72,603 73,603 73,604 74,604 74,605 75,604 75,603 76,604 76,605 77,605 77,604 78,604 78,605 79,605 79,604 80,604 80,605 81,605 81,604 82,604 82,605 83,605 83,604 84,604 84,605 85,605 85,604 86,604 86,605 87,605 87,604 88,604 88,605 89,605 89,604 90,604 90,605 91,605 91,604 92,604 92,603 93,604 93,605 94,604 94,603 95,604 95,605 96,604 96,603 97,603 97,604 98,603 98,602 99,602 99,603 100,603 100,602 101,602 101,601 102,600 102,602 103,601 103,600 104,600 104,601 105,601 105,600 106,600 106,599 107,599 107,600 108,599 108,598 109,598 109,599 110,598 110,597 111,598 111,599 112,597 112,596 113,596 113,597 114,596 114,595 115,595 115,594 116,595 116,596 117,594 117,593 118,593 118,595 119,594 119,593 120,593 120,592 121,592 121,593 122,593 122,592 123,592 123,593 124,592 124,591 125,591 125,592 126,592 126,593 127,593 127,591 128,591 128,593 129,592 129,594 130,594 130,593 131,593 131,594 132,594 132,595 133,595 133,594 134,594 134,596 135,596 135,597 136,597 136,596 137,597 137,598 138,598 138,597 139,598 139,599 140,599 140,597 141,599 141,600 142,600 142,599 143,599 143,600 144,600 144,601 145,601 145,600 146,600 146,601 147,601 147,600 148,600 148,601 149,601 149,602 150,602 150,603 151,602 151,601 152,601 152,603 153,602 153,601 154,602 154,603 155,602 155,601 156,601 156,602 157,602 157,601 158,601 158,602 159,601 159,600 160,600 160,602 161,602 161,601 162,600 162,599 163,600 163,601 164,601 164,600 165,600 165,601 166,601 166,600 167,600 167,601 168,601 168,600 169,600 169,601 170,600 170,602 171,602 171,601 172,602 172,603 173,602 173,601 174,602 174,604 175,604 175,603 176,603 176,604 177,603 177,602 178,603 178,604 179,604 179,603 180,603 180,602 181,603 181,604 182,604 182,602 183,602 183,603 184,603 184,602 185,602 185,603 186,603 186,602 187,602 187,603 188,603 188,602 189,602 189,603 190,602 190,601 191,601 191,602 192,602 192,601 193,601 193,602 194,601 194,600 195,600 195,601 196,601 196,600 197,600 197,599 198,599 198,600 199,600 199,598 200,597 200,599 201,599 201,597 202,597 202,598 203,598 203,597 204,597 204,596 205,596 205,597 206,597 206,596 207,596 207,595 208,595 208,596 209,596 209,595 210,594 210,593 211,594 211,595 212,594 212,593 213,593 213,592 214,592 214,593 215,592 215,591 216,592 216,593 217,592 217,591 218,591 218,592 219,592 219,591 220,591 220,592 221,592 221,591 222,591 222,592 223,592 223,591 224,592 224,593 225,593 225,592 226,593 226,594 227,594 227,593 228,594 228,595 229,595 229,594 230,595 230,596 231,596 231,597 232,597 232,598 233,598 233,597 234,599 234,600 235,600 235,601 236,601 236,603 237,603 237,604 238,604 238,605 239,605 239,607 240,607 240,608 241,608 241,609 242,609 242,610 243,610 243,611 244,611 244,612 245,612 245,613 246,613 246,614 247,614 247,617 248,619 248,614 249,614 249,625 250,622 250,617 251,622 251,626 252,625 252,619 253,624 253,627 254,629 254,624 255,626 255,629 256,624 256,621 257,630 257,634 258,629 258,628 259,627 259,629 260,630 260,627 261,630 261,633 262,633 262,630 263,630 263,631 264,630 264,636 265,636 265,629 266,628 266,632 267,632 267,636 268,632 268,628 269,628 269,636 270,633 270,631 271,630 271,629 272,630 272,635 273,633 273,628 274,630 274,636 275,635 275,631 276,627 276,635 277,636 277,632 278,631 278,628 279,631 279,635 280,635 280,628 281,625 281,634 282,631 282,629 283,628 283,633 284,629 284,623 285,624 285,627 286,624 286,632 287,630 287,623 288,622 288,629 289,627 289,621 290,621 290,620 291,619 291,625 292,621 292,618 293,615 293,622 294,619 294,618 295,621 295,613 296,609 296,621 297,616 297,615 298,615 298,618 299,609 299,606 300,609 300,614 301,614 301,612 302,610 302,608 303,607 303,609 304,607 304,601 305,602 305,603 306,601 306,600 307,601 307,597 308,600 308,602 309,603 309,595 310,594 310,592 311,594 311,589 312,599 312,602 313,590 313,584 314,590 314,594 315,597 315,589 316,585 316,599 317,593 317,590 318,588 318,596 319,596 319,591 320,592 320,589 321,588 321,585 322,590 322,597 323,591 323,581 324,583 324,590 325,591 325,594 326,592 326,583 327,586 327,592 328,592 328,582 329,586 329,588 330,589 330,584 331,580 331,588 332,587 332,594 333,596 333,583 334,584 334,593 335,596 335,587 336,584 336,591 337,586 337,599 338,592 338,587 339,587 339,596 340,595 340,589 341,591 341,594 342,594 342,589 343,595 343,599 344,599 344,591 345,595 345,599 346,598 346,602 347,601 347,594 348,599 348,603 349,604 349,605 350,604 350,607 351,603 351,611 352,606 352,600 353,606 353,614 354,609 354,605 355,603 355,614 356,616 356,607 357,602 357,615 358,619 358,610 359,613 359,617 360,607 360,603 361,610 361,617 362,619 362,613 363,610 363,621 364,612 364,605 365,613 365,618 366,618 366,613 367,609 367,618 368,613 368,607 369,610 369,616 370,619 370,606 371,605 371,609 372,612 372,614 373,616 373,610 374,609 374,612 375,610 375,606 376,608 376,614 377,609 377,605 378,607 378,610 379,608 379,604 380,604 380,608 381,606 381,601 382,601 382,612 383,600 383,597 384,601 384,608 385,604 385,599 386,601 386,596 387,598 387,601 388,603 388,596 389,600 389,602 390,600 390,596 391,595 391,599 392,598 392,603 393,601 393,597 394,598 394,595 395,597 395,601 396,599 396,597 397,595 397,594 398,594 398,598 399,596 399,594 400,593 400,600 401,598 401,592 402,592 402,594 403,595 403,592 404,592 404,595 405,594 405,592 406,592 406,596 407,593 407,590 408,589 408,592 409,595 409,586 410,590 410,591 411,589 411,587 412,588 412,592 413,590 413,588 414,591 414,584 415,587 415,590 416,589 416,586 417,584 417,596 418,591 418,584 419,584 419,588 420,588 420,592 421,589 421,586 422,585 422,589 423,589 423,586 424,587 424,589 425,586 425,592 426,589 426,583 427,586 427,590 428,591 428,588 429,589 429,591 430,589 430,588 431,589 431,590 432,591 432,592 433,592 433,589 434,590 434,586 435,592 435,594 436,595 436,590 437,591 437,588 438,592 438,594 439,595 439,591 440,589 440,595 441,594 441,592 442,593 442,595 443,594 443,593 444,595 444,601 445,595 445,591 446,596 446,597 447,597 447,600 448,595 448,593 449,597 449,598 450,598 450,601 451,600 451,598 452,597 452,599 453,599 453,601 454,600 454,598 455,599 455,603 456,601 456,599 457,598 457,600 458,601 458,604 459,603 459,602 460,602 460,603 461,603 461,605 462,604 462,603 463,604 463,606 464,605 464,604 465,603 465,605 466,604 466,607 467,607 467,603 468,605 468,606 469,605 469,604 470,606 470,609 471,607 471,604 472,605 472,607 473,607 473,605 474,603 474,607 475,608 475,605 476,605 476,602 477,602 477,606 478,606 478,604 479,602 479,600 480,602 480,606 481,601 481,600 482,602 482,603 483,601 483,600 484,600 484,599 485,600 485,596 486,599 486,601 487,598 487,596 488,597 488,598 489,597 489,599 490,595 490,593 491,593 491,594 492,594 492,596 493,596 493,591 494,589 494,595 495,593 495,590 496,591 496,592 497,592 497,590 498,590 498,589 499,590 499,591 500,590 500,589 501,591 501,592 502,591 502,589 503,590 503,587 504,588 504,590 505,590 505,591 506,589 506,587 507,588 507,590 508,588 508,592 509,588 509,587 510,590 510,591 511,590 511,588 512,589 512,590 513,588 513,592 514,591 514,588 515,587 515,590 516,589 516,591 517,590 517,588 518,589 518,592 519,591 519,588 520,591 520,593 521,591 521,590 522,588 522,592 523,591 523,589 524,590 524,593 525,591 525,590 526,589 526,591 527,592 527,589 528,590 528,591 529,591 529,589 530,589 530,588 531,587 531,590 532,590 532,588 533,588 533,586 534,585 534,590 535,589 535,584 536,586 536,587 537,586 537,584 538,586 538,588 539,587 539,583 540,583 540,584 541,585 541,586 542,585 542,584 543,584 543,583 544,583 544,585 545,584 545,583 546,583 546,585 547,585 547,582 548,582 548,585 549,584 549,582 550,585 550,586 551,587 551,583 552,583 552,585 553,585 553,587 554,587 554,585 555,584 555,587 556,586 556,583 557,585 557,588 558,586 558,584 559,587 559,588 560,587 560,584 561,587 561,589 562,588 562,586 563,588 563,589 564,589 564,587 565,590 565,591 566,591 566,589 567,591 567,592 568,591 568,590 569,592 569,593 570,593 570,592 571,593 571,595 572,595 572,592 573,592 573,597 574,596 574,594 575,593 575,598 576,598 576,594 577,597 577,599 578,599 578,597 579,599 579,601 580,601 580,600 581,600 581,602 582,602 582,604 583,603 583,600 584,602 584,606 585,604 585,602 586,606 586,607 587,608 587,605 588,605 588,607 589,608 589,609 590,609 590,607 591,607 591,605 592,609 592,610 593,609 593,607 594,606 594,608 595,608 595,610 596,608 596,605 597,607 597,611 598,608 598,606 599,607 599,603 600,605 600,608 601,607 601,603 602,603 602,605 603,604 603,603 604,603 604,600 605,602 605,604 606,601 606,600 607,601 607,597 608,598 608,601 609,600 609,597 610,596 610,598 611,598 611,594 612,594 612,596 613,594 613,593 614,593 614,590 615,591 615,594 616,592 616,591 617,591 617,588 618,589 618,590 619,588 619,587 620,588 620,590 621,587 621,586 622,585 622,588 623,588 623,585 624,584 624,587 625,586 625,584 626,584 626,587 627,584 627,583 628,582 628,586 629,584 629,583 630,583 630,582 631,581 631,583 632,583 632,581 633,580 633,582 634,582 634,580 635,579 635,582 636,581 636,583 637,582 637,580 638,579 638,581 639,580 639,582 640,583 640,580 641,580 641,581 642,582 642,583 643,582 643,581 644,581 644,584 645,583 645,581"/>
<polyline fill="none" stroke="#280a5a" stroke-width="1" stroke-linecap="square" transform="translate(0.5,0.5)" points="52,664 52,667 53,665 53,664 54,663 54,662 55,661 55,663 56,662 56,661 57,660 57,659 58,659 58,658 59,658 59,657 60,657 60,658 61,656 61,655 62,654 62,656 63,655 63,654 64,654 64,653 65,653 65,652 66,652 66,653 67,652 67,651 68,651 68,650 69,650 69,651 70,650 70,649 71,650 71,651 72,650 72,649 73,649 73,650 74,650 74,649 75,649 75,650 76,650 76,649 77,649 77,648 78,649 78,650 79,649 79,648 80,648 80,649 81,649 81,648 82,648 82,647 83,648 83,649 84,649 84,648 85,648 85,647 86,648 86,650 87,649 87,648 88,648 88,649 89,649 89,648 90,648 90,649 91,649 91,648 92,648 92,649 93,648 93,650 94,650 94,648 95,650 95,651 96,651 96,649 97,651 97,652 98,652 98,651 99,651 99,653 100,653 100,652 101,652 101,653 102,653 102,654 103,654 103,655 104,655 104,654 105,654 105,656 106,656 106,655 107,656 107,657 108,657 108,656 109,657 109,659 110,659 110,657 111,659 111,660 112,660 112,659 113,659 113,661 114,660 114,659 115,661 115,662 116,662 116,661 117,661 117,663 118,662 118,664 119,664 119,663 120,663 120,664 121,665 121,666 122,666 122,665 123,665 123,666 124,666 124,668 125,667 125,666 126,667 126,668 127,668 127,667 128,667 128,668 129,668 129,667 130,668 130,669 131,668 131,667 132,667 132,669 133,668 133,667 134,666 134,668 135,668 135,667 136,667 136,666 137,666 137,665 138,665 138,666 139,666 139,665 140,665 140,664 141,664 141,665 142,664 142,663 143,663 143,664 144,663 144,662 145,662 145,663 146,663 146,662 147,662 147,661 148,661 148,662 149,662 149,661 150,661 150,660 151,660 151,661 152,661 152,660 153,660 153,661 154,661 154,660 155,660 155,661 156,659 156,658 157,660 157,661 158,661 158,660 159,659 159,658 160,659 160,660 161,660 161,658 162,659 162,660 163,658 163,657 164,659 164,661 165,659 165,658 166,658 166,660 167,660 167,658 168,659 168,660 169,660 169,659 170,659 170,658 171,659 171,660 172,660 172,661 173,661 173,660 174,661 174,662 175,662 175,661 176,663 176,664 177,664 177,663 178,664 178,665 179,665 179,664 180,665 180,666 181,666 181,665 182,666 182,667 183,666 183,668 184,668 184,667 185,667 185,668 186,668 186,669 187,669 187,668 188,668 188,669 189,668 189,670 190,669 190,668 191,669 191,670 192,670 192,668 193,668 193,669 194,669 194,670 195,669 195,668 196,668 196,669 197,669 197,668 198,668 198,669 199,668 199,667 200,667 200,666 201,666 201,667 202,667 202,666 203,666 203,667 204,666 204,665 205,666 205,667 206,666 206,665 207,665 207,664 208,664 208,665 209,664 209,666 210,665 210,663 211,663 211,664 212,664 212,663 213,663 213,664 214,663 214,662 215,662 215,663 216,662 216,661 217,661 217,662 218,661 218,660 219,660 219,659 220,660 220,661 221,660 221,659 222,659 222,658 223,659 223,660 224,659 224,658 225,658 225,657 226,656 226,658 227,657 227,655 228,654 228,656 229,656 229,654 230,654 230,653 231,653 231,654 232,653 232,652 233,652 233,653 234,652 234,651 235,651 235,652 236,651 236,650 237,650 237,652 238,650 238,649 239,649 239,648 240,649 240,650 241,648 241,647 242,648 242,649 243,648 243,647 244,647 244,648 245,648 245,647 246,647 246,646 247,645 247,647 248,647 248,645 249,646 249,647 250,649 250,643 251,645 251,647 252,647 252,650 253,651 253,647 254,648 254,645 255,648 255,653 256,652 256,650 257,649 257,648 258,652 258,657 259,656 259,651 260,651 260,657 261,657 261,653 262,655 262,659 263,661 263,655 264,655 264,652 265,654 265,662 266,663 266,655 267,653 267,662 268,662 268,666 269,664 269,663 270,664 270,666 271,663 271,658 272,663 272,668 273,670 273,664 274,660 274,668 275,667 275,659 276,660 276,669 277,674 277,662 278,662 278,674 279,666 279,665 280,664 280,668 281,668 281,670 282,666 282,674 283,669 283,665 284,667 284,670 285,673 285,679 286,668 286,667 287,667 287,672 288,672 288,676 289,674 289,668 290,668 290,675 291,671 291,668 292,671 292,673 293,674 293,669 294,672 294,675 295,675 295,669 296,676 296,678 297,676 297,673 298,676 298,678 299,679 299,670 300,671 300,678 301,679 301,673 302,676 302,679 303,680 303,674 304,679 304,681 305,680 305,685 306,676 306,673 307,680 307,682 308,682 308,684 309,687 309,679 310,675 310,684 311,690 311,677 312,677 312,682 313,679 313,686 314,683 314,676 315,678 315,673 316,680 316,686 317,681 317,677 318,679 318,673 319,672 319,675 320,675 320,679 321,676 321,659 322,665 322,696 323,696 323,670 324,677 324,687 325,690 325,656 326,665 326,679 327,687 327,662 328,665 328,649 329,668 329,688 330,674 330,659 331,661 331,682 332,668 332,663 333,666 333,686 334,676 334,666 335,668 335,676 336,676 336,644 337,657 337,687 338,659 338,650 339,661 339,671 340,655 340,654 341,662 341,667 342,662 342,659 343,659 343,662 344,659 344,669 345,657 345,648 346,655 346,667 347,663 347,655 348,658 348,660 349,655 349,650 350,659 350,668 351,658 351,652 352,651 352,662 353,670 353,643 354,651 354,666 355,656 355,646 356,645 356,649 357,648 357,654 358,656 358,650 359,645 359,639 360,649 360,659 361,652 361,649 362,646 362,640 363,639 363,654 364,654 364,644 365,639 365,660 366,647 366,643 367,641 367,645 368,644 368,639 369,639 369,650 370,649 370,644 371,643 371,648 372,639 372,658 373,655 373,648 374,655 374,639 375,639 375,654 376,653 376,645 377,647 377,651 378,649 378,657 379,654 379,650 380,651 380,656 381,661 381,646 382,649 382,664 383,664 383,651 384,655 384,660 385,656 385,655 386,660 386,662 387,661 387,653 388,656 388,663 389,666 389,656 390,659 390,667 391,665 391,656 392,664 392,669 393,667 393,661 394,662 394,650 395,660 395,667 396,662 396,660 397,663 397,667 398,663 398,661 399,662 399,668 400,667 400,663 401,664 401,660 402,661 402,672 403,670 403,662 404,664 404,672 405,670 405,665 406,668 406,659 407,664 407,666 408,665 408,674 409,668 409,665 410,664 410,670 411,667 411,673 412,668 412,665 413,667 413,670 414,677 414,660 415,659 415,669 416,666 416,673 417,675 417,670 418,668 418,677 419,673 419,667 420,676 420,678 421,671 421,664 422,668 422,681 423,678 423,673 424,672 424,670 425,671 425,678 426,679 426,673 427,672 427,676 428,676 428,679 429,679 429,673 430,673 430,677 431,672 431,682 432,680 432,677 433,677 433,678 434,679 434,680 435,678 435,684 436,683 436,677 437,678 437,675 438,679 438,684 439,679 439,676 440,678 440,679 441,678 441,680 442,680 442,675 443,677 443,681 444,677 444,672 445,674 445,675 446,677 446,672 447,670 447,675 448,675 448,671 449,672 449,667 450,668 450,673 451,671 451,669 452,668 452,671 453,669 453,665 454,664 454,666 455,665 455,669 456,664 456,660 457,662 457,664 458,663 458,662 459,661 459,657 460,656 460,662 461,658 461,654 462,653 462,658 463,657 463,654 464,654 464,653 465,652 465,650 466,653 466,654 467,651 467,648 468,647 468,650 469,648 469,652 470,651 470,645 471,646 471,650 472,647 472,646 473,643 473,642 474,645 474,646 475,644 475,642 476,642 476,645 477,646 477,641 478,641 478,648 479,643 479,639 480,641 480,646 481,645 481,640 482,640 482,644 483,643 483,640 484,645 484,647 485,642 485,641 486,642 486,646 487,646 487,643 488,644 488,646 489,647 489,644 490,644 490,647 491,645 491,644 492,646 492,651 493,647 493,645 494,645 494,650 495,648 495,646 496,650 496,652 497,649 497,656 498,654 498,651 499,654 499,658 500,656 500,652 501,653 501,660 502,659 502,654 503,659 503,661 504,660 504,659 505,661 505,665 506,665 506,659 507,662 507,668 508,664 508,662 509,664 509,666 510,666 510,669 511,668 511,663 512,665 512,669 513,669 513,664 514,670 514,671 515,671 515,667 516,665 516,670 517,672 517,675 518,673 518,668 519,668 519,676 520,676 520,672 521,671 521,674 522,675 522,671 523,675 523,677 524,677 524,675 525,676 525,679 526,678 526,683 527,681 527,680 528,680 528,685 529,680 529,677 530,681 530,683 531,681 531,680 532,683 532,684 533,684 533,683 534,683 534,679 535,680 535,685 536,686 536,680 537,682 537,687 538,687 538,679 539,683 539,689 540,690 540,680 541,685 541,686 542,687 542,682 543,683 543,688 544,684 544,683 545,684 545,681 546,684 546,687 547,686 547,683 548,683 548,687 549,683 549,681 550,681 550,686 551,684 551,689 552,685 552,679 553,680 553,683 554,681 554,688 555,684 555,680 556,679 556,685 557,682 557,681 558,681 558,679 559,681 559,683 560,679 560,677 561,678 561,680 562,679 562,681 563,683 563,678 564,676 564,681 565,680 565,676 566,677 566,679 567,677 567,676 568,676 568,680 569,678 569,673 570,675 570,677 571,678 571,670 572,669 572,677 573,675 573,674 574,673 574,676 575,672 575,669 576,672 576,674 577,674 577,669 578,670 578,671 579,670 579,666 580,667 580,671 581,669 581,668 582,668 582,666 583,664 583,669 584,669 584,663 585,665 585,667 586,665 586,664 587,664 587,667 588,665 588,661 589,661 589,665 590,664 590,661 591,660 591,657 592,659 592,664 593,665 593,661 594,659 594,658 595,660 595,663 596,660 596,659 597,659 597,658 598,657 598,661 599,660 599,659 600,658 600,655 601,658 601,660 602,658 602,656 603,655 603,661 604,659 604,656 605,656 605,659 606,657 606,656 607,657 607,654 608,656 608,658 609,658 609,656 610,656 610,654 611,655 611,657 612,656 612,660 613,660 613,654 614,657 614,660 615,660 615,658 616,658 616,659 617,659 617,655 618,660 618,661 619,660 619,657 620,659 620,660 621,659 621,658 622,657 622,663 623,662 623,658 624,656 624,664 625,664 625,662 626,663 626,658 627,663 627,665 628,664 628,662 629,661 629,666 630,666 630,665 631,666 631,669 632,666 632,664 633,668 633,672 634,672 634,667 635,671 635,673 636,671 636,669 637,674 637,677 638,674 638,671 639,676 639,678 640,678 640,677 641,677 641,679 642,679 642,681 643,681 643,682 644,682 644,686 645,684 645,682"/>
<polyline fill="none" stroke="#0000ff" stroke-width="1" stroke-linecap="square" transform="translate(0.5,0.5)" points="73,725 73,732 74,729 74,723 75,730 75,732 76,730 76,726 77,727 77,734 78,733 78,728 79,725 79,734 80,729 80,723 81,730 81,736 82,737 82,729 83,727 83,723 84,727 84,735 85,731 85,726 86,727 86,732 87,728 87,726 88,725 88,736 89,735 89,727 90,729 90,722 91,725 91,729 92,729 92,736 93,735 93,732 94,732 94,727 95,725 95,720 96,730 96,736 97,730 97,727 98,725 98,738 99,732 99,723 100,729 100,734 101,737 101,722 102,713 102,732 103,727 103,723 104,730 104,731 105,731 105,723 106,729 106,732 107,726 107,721 108,727 108,734 109,730 109,726 110,724 110,728 111,726 111,723 112,727 112,738 113,739 113,731 114,728 114,724 115,728 115,732 116,721 116,745 117,730 117,725 118,726 118,714 119,721 119,738 120,735 120,724 121,726 121,736 122,729 122,724 123,726 123,728 124,724 124,737 125,733 125,725 126,724 126,734 127,739 127,727 128,728 128,735 129,734 129,729 130,724 130,717 131,720 131,734 132,731 132,723 133,727 133,731 134,733 134,739 135,733 135,725 136,727 136,736 137,731 137,725 138,723 138,729 139,731 139,738 140,729 140,725 141,728 141,736 142,729 142,727 143,727 143,739 144,737 144,722 145,724 145,731 146,732 146,726 147,733 147,738 148,740 148,724 149,729 149,734 150,739 150,727 151,730 151,723 152,727 152,715 153,728 153,734 154,732 154,723 155,729 155,735 156,735 156,727 157,725 157,730 158,734 158,723 159,725 159,731 160,734 160,726 161,721 161,734 162,730 162,723 163,728 163,717 164,726 164,731 165,733 165,726 166,728 166,736 167,737 167,733 168,731 168,721 169,731 169,739 170,734 170,723 171,724 171,728 172,728 172,735 173,727 173,715 174,730 174,734 175,731 175,739 176,726 176,722 177,728 177,732 178,732 178,728 179,732 179,723 180,724 180,734 181,740 181,727 182,728 182,734 183,728 183,721 184,726 184,737 185,732 185,719 186,736 186,739 187,733 187,722 188,726 188,732 189,730 189,724 190,721 190,729 191,728 191,737 192,733 192,722 193,727 193,740 194,733 194,728 195,726 195,735 196,737 196,722 197,724 197,735 198,737 198,723 199,729 199,735 200,729 200,725 201,732 201,735 202,730 202,724 203,722 203,727 204,718 204,738 205,739 205,730 206,725 206,720 207,723 207,733 208,732 208,719 209,724 209,734 210,736 210,727 211,722 211,733 212,731 212,743 213,728 213,725 214,725 214,732 215,735 215,727 216,727 216,730 217,735 217,723 218,723 218,731 219,727 219,715 220,722 220,740 221,729 221,727 222,733 222,718 223,725 223,728 224,728 224,736 225,735 225,723 226,730 226,732 227,736 227,727 228,729 228,730 229,732 229,738 230,724 230,721 231,724 231,731 232,728 232,735 233,727 233,726 234,729 234,736 235,730 235,720 236,730 236,737 237,735 237,728 238,730 238,734 239,733 239,722 240,736 240,741 241,729 241,725 242,728 242,720 243,729 243,731 244,730 244,725 245,723 245,734 246,733 246,722 247,727 247,728 248,724 248,737 249,732 249,722 250,721 250,736 251,733 251,731 252,731 252,724 253,726 253,733 254,729 254,726 255,730 255,733 256,733 256,727 257,732 257,745 258,729 258,724 259,728 259,732 260,733 260,721 261,722 261,724 262,721 262,736 263,736 263,727 264,728 264,724 265,718 265,735 266,728 266,717 267,723 267,728 268,728 268,730 269,731 269,743 270,740 270,727 271,733 271,739 272,735 272,718 273,699 273,756 274,734 274,726 275,722 275,716 276,722 276,725 277,719 277,735 278,733 278,725 279,725 279,704 280,723 280,733 281,720 281,756 282,726 282,716 283,706 283,740 284,739 284,732 285,733 285,747 286,746 286,707 287,721 287,745 288,738 288,724 289,727 289,736 290,739 290,731 291,731 291,716 292,718 292,730 293,737 293,715 294,708 294,737 295,740 295,733 296,726 296,717 297,724 297,743 298,732 298,717 299,722 299,739 300,737 300,716 301,724 301,737 302,732 302,723 303,726 303,741 304,736 304,722 305,735 305,737 306,750 306,710 307,721 307,733 308,726 308,746 309,737 309,715 310,722 310,740 311,738 311,721 312,732 312,736 313,730 313,729 314,741 314,714 315,717 315,738 316,724 316,706 317,717 317,732 318,739 318,748 319,724 319,718 320,728 320,735 321,736 321,720 322,728 322,736 323,738 323,732 324,731 324,734 325,731 325,724 326,715 326,740 327,727 327,720 328,726 328,737 329,739 329,724 330,722 330,727 331,723 331,731 332,733 332,722 333,728 333,733 334,721 334,745 335,748 335,722 336,718 336,741 337,729 337,725 338,726 338,718 339,722 339,731 340,728 340,735 341,729 341,724 342,724 342,722 343,735 343,738 344,730 344,714 345,721 345,742 346,734 346,725 347,717 347,734 348,733 348,739 349,738 349,723 350,731 350,714 351,741 351,742 352,741 352,717 353,711 353,737 354,744 354,717 355,725 355,733 356,735 356,728 357,730 357,732 358,735 358,724 359,728 359,731 360,728 360,722 361,722 361,728 362,732 362,739 363,736 363,717 364,723 364,742 365,732 365,724 366,733 366,740 367,736 367,725 368,718 368,740 369,739 369,722 370,709 370,740 371,739 371,722 372,725 372,743 373,734 373,727 374,723 374,722 375,730 375,735 376,725 376,719 377,724 377,737 378,738 378,732 379,725 379,724 380,730 380,739 381,728 381,716 382,725 382,727 383,732 383,740 384,733 384,727 385,726 385,733 386,730 386,727 387,733 387,720 388,721 388,726 389,729 389,737 390,733 390,726 391,725 391,729 392,731 392,737 393,731 393,713 394,722 394,739 395,730 395,721 396,721 396,729 397,734 397,741 398,731 398,723 399,724 399,729 400,727 400,722 401,725 401,734 402,733 402,721 403,721 403,735 404,752 404,715 405,719 405,744 406,735 406,728 407,725 407,738 408,739 408,736 409,734 409,718 410,727 410,730 411,734 411,718 412,725 412,735 413,733 413,731 414,729 414,723 415,726 415,733 416,732 416,729 417,730 417,738 418,728 418,716 419,720 419,734 420,726 420,717 421,732 421,739 422,726 422,722 423,720 423,729 424,731 424,739 425,726 425,724 426,724 426,730 427,736 427,743 428,731 428,727 429,723 429,731 430,726 430,721 431,722 431,729 432,726 432,737 433,729 433,725 434,727 434,732 435,734 435,724 436,724 436,726 437,726 437,735 438,729 438,725 439,726 439,734 440,730 440,728 441,724 441,732 442,734 442,726 443,723 443,735 444,738 444,727 445,723 445,733 446,734 446,728 447,726 447,734 448,732 448,741 449,732 449,728 450,729 450,723 451,726 451,716 452,720 452,737 453,731 453,722 454,726 454,740 455,736 455,726 456,729 456,735 457,734 457,732 458,734 458,728 459,724 459,732 460,728 460,736 461,723 461,717 462,721 462,735 463,737 463,724 464,722 464,737 465,731 465,724 466,728 466,734 467,728 467,723 468,729 468,737 469,740 469,724 470,728 470,736 471,735 471,729 472,731 472,722 473,723 473,724 474,727 474,728 475,728 475,733 476,732 476,717 477,720 477,726 478,728 478,738 479,735 479,734 480,732 480,738 481,738 481,730 482,726 482,737 483,729 483,725 484,721 484,718 485,724 485,733 486,727 486,720 487,720 487,735 488,731 488,720 489,731 489,736 490,735 490,722 491,730 491,745 492,728 492,724 493,726 493,731 494,726 494,725 495,730 495,736 496,736 496,729 497,730 497,734 498,735 498,727 499,735 499,718 500,722 500,725 501,721 501,731 502,723 502,713 503,726 503,730 504,725 504,741 505,734 505,730 506,733 506,739 507,733 507,729 508,727 508,724 509,723 509,732 510,730 510,722 511,727 511,741 512,734 512,727 513,735 513,717 514,723 514,736 515,729 515,726 516,723 516,733 517,732 517,729 518,732 518,724 519,722 519,728 520,729 520,723 521,722 521,730 522,728 522,737 523,733 523,723 524,724 524,740 525,748 525,720 526,716 526,736 527,732 527,721 528,730 528,731 529,729 529,725 530,726 530,738 531,728 531,719 532,734 532,736 533,729 533,722 534,721 534,729 535,725 535,735 536,739 536,727 537,726 537,721 538,726 538,731 539,734 539,737 540,728 540,718 541,727 541,733 542,732 542,725 543,724 543,734 544,735 544,713 545,729 545,741 546,729 546,726 547,721 547,732 548,730 548,736 549,733 549,726 550,724 550,720 551,720 551,728 552,728 552,729 553,726 553,724 554,733 554,735 555,727 555,726 556,723 556,733 557,731 557,724 558,728 558,729 559,732 559,724 560,732 560,736 561,732 561,723 562,731 562,737 563,733 563,722 564,722 564,738 565,724 565,722 566,726 566,732 567,726 567,717 568,724 568,730 569,727 569,724 570,729 570,735 571,739 571,726 572,727 572,730 573,729 573,731 574,726 574,722 575,721 575,733 576,740 576,719 577,721 577,737 578,736 578,724 579,726 579,745 580,735 580,727 581,729 581,724 582,723 582,730 583,731 583,735 584,730 584,723 585,720 585,732 586,731 586,739 587,735 587,722 588,726 588,714 589,723 589,731 590,730 590,729 591,725 591,735 592,733 592,729 593,724 593,736 594,737 594,723 595,725 595,727 596,736 596,717 597,723 597,730 598,731 598,737 599,729 599,720 600,729 600,732 601,728 601,724 602,726 602,729 603,729 603,723 604,724 604,741 605,734 605,726 606,725 606,736 607,733 607,722 608,727 608,730 609,728 609,723 610,723 610,727 611,724 611,712 612,730 612,733 613,731 613,721 614,724 614,729 615,724 615,735 616,735 616,744 617,733 617,730 618,729 618,735 619,730 619,722 620,722 620,720 621,728 621,733 622,726 622,721 623,731 623,732 624,730 624,738 625,726 625,721 626,733 626,738 627,729 627,719 628,725 628,734 629,735 629,726 630,730 630,737 631,731 631,726 632,722 632,731 633,726 633,736 634,744 634,726 635,725 635,734 636,730 636,724 637,721 637,729 638,726 638,721 639,723 639,731 640,729 640,737 641,737 641,725 642,726 642,732 643,729 643,738 644,730 644,723 645,719 645,735 646,732 646,723 647,721 647,738 648,743 648,723 649,727 649,730 650,728 650,724 651,722 651,728 652,730 652,725 653,726 653,733 654,735 654,720 655,728 655,737 656,725 656,719 657,720 657,729 658,729 658,720 659,728 659,733 660,735 660,730 661,736 661,738 662,730 662,722 663,726 663,732 664,729 664,739 665,729 665,725 666,726 666,727"/>
<polyline fill="none" stroke="#0000ff" stroke-width="1" stroke-linecap="square" transform="translate(0.5,0.5)" points="95,782 95,784 96,785 96,786 97,786 97,780 98,781 98,788 99,786 99,783 100,783 100,785 101,786 101,782 102,788 102,789 103,789 103,783 104,786 104,789 105,788 105,787 106,788 106,789 107,787 107,786 108,788 108,791 109,792 109,788 110,788 110,790 111,790 111,788 112,787 112,792 113,789 113,788 114,787 114,790 115,789 115,788 116,791 116,792 117,792 117,795 118,793 118,787 119,786 119,795 120,791 120,787 121,790 121,792 122,791 122,788 123,787 123,792 124,792 124,788 125,790 125,791 126,791 126,788 127,790 127,785 128,790 128,793 129,791 129,788 130,788 130,782 131,785 131,789 132,789 132,787 133,787 133,783 134,784 134,789 135,791 135,784 136,784 136,789 137,786 137,792 138,793 138,790 139,792 139,787 140,788 140,789 141,788 141,791 142,788 142,784 143,785 143,787 144,788 144,789 145,790 145,792 146,792 146,794 147,791 147,789 148,791 148,792 149,790 149,789 150,788 150,787 151,788 151,791 152,789 152,793 153,795 153,790 154,790 154,793 155,792 155,789 156,790 156,793 157,793 157,787 158,788 158,792 159,791 159,789 160,789 160,794 161,795 161,791 162,792 162,789 163,790 163,792 164,793 164,796 165,794 165,791 166,791 166,789 167,793 167,796 168,795 168,793 169,789 169,785 170,789 170,790 171,789 171,786 172,791 172,793 173,792 173,789 174,790 174,785 175,787 175,788 176,786 176,784 177,784 177,787 178,789 178,783 179,787 179,789 180,787 180,783 181,785 181,787 182,786 182,785 183,788 183,792 184,793 184,790 185,789 185,791 186,792 186,789 187,789 187,791 188,791 188,792 189,792 189,793 190,793 190,792 191,791 191,790 192,789 192,793 193,792 193,788 194,794 194,795 195,793 195,791 196,792 196,793 197,791 197,788 198,786 198,792 199,790 199,788 200,789 200,792 201,794 201,784 202,785 202,790 203,789 203,787 204,786 204,792 205,792 205,790 206,790 206,794 207,790 207,788 208,786 208,782 209,781 209,789 210,790 210,786 211,785 211,789 212,789 212,785 213,783 213,790 214,785 214,782 215,784 215,786 216,786 216,783 217,782 217,786 218,783 218,789 219,785 219,782 220,784 220,786 221,786 221,791 222,789 222,785 223,785 223,787 224,788 224,784 225,784 225,789 226,788 226,786 227,787 227,784 228,787 228,790 229,783 229,782 230,786 230,788 231,788 231,787 232,786 232,788 233,786 233,783 234,784 234,788 235,786 235,785 236,781 236,789 237,791 237,784 238,782 238,786 239,785 239,790 240,792 240,785 241,786 241,789 242,789 242,794 243,795 243,790 244,791 244,793 245,791 245,795 246,794 246,792 247,793 247,797 248,791 248,787 249,786 249,790 250,791 250,787 251,787 251,790 252,790 252,797 253,794 253,792 254,794 254,788 255,788 255,791 256,793 256,797 257,792 257,786 258,792 258,794 259,794 259,792 260,791 260,788 261,789 261,791 262,791 262,788 263,789 263,793 264,794 264,796 265,792 265,791 266,793 266,795 267,794 267,789 268,788 268,790 269,788 269,786 270,789 270,791 271,790 271,796 272,797 272,793 273,793 273,796 274,794 274,791 275,789 275,787 276,789 276,795 277,795 277,789 278,790 278,793 279,793 279,791 280,791 280,790 281,790 281,789 282,790 282,792 283,793 283,797 284,798 284,791 285,791 285,792 286,790 286,797 287,796 287,792 288,793 288,789 289,791 289,793 290,792 290,790 291,789 291,792 292,795 292,787 293,793 293,796 294,796 294,792 295,793 295,795 296,792 296,789 297,789 297,795 298,794 298,782 299,775 299,800 300,784 300,782 301,786 301,790 302,786 302,799 303,791 303,786 304,790 304,796 305,804 305,775 306,783 306,791 307,789 307,786 308,786 308,793 309,795 309,788 310,791 310,794 311,789 311,785 312,782 312,788 313,789 313,784 314,794 314,798 315,786 315,785 316,794 316,802 317,785 317,781 318,778 318,785 319,784 319,790 320,791 320,783 321,786 321,794 322,792 322,790 323,790 323,784 324,782 324,788 325,789 325,793 326,790 326,784 327,789 327,794 328,796 328,788 329,788 329,785 330,786 330,788 331,786 331,782 332,781 332,789 333,794 333,780 334,782 334,793 335,789 335,798 336,786 336,785 337,793 337,794 338,790 338,788 339,790 339,795 340,799 340,790 341,794 341,784 342,783 342,788 343,789 343,783 344,783 344,788 345,787 345,795 346,790 346,788 347,787 347,790 348,793 348,783 349,786 349,795 350,790 350,788 351,788 351,790 352,793 352,785 353,782 353,788 354,786 354,790 355,789 355,784 356,789 356,794 357,795 357,786 358,783 358,793 359,795 359,786 360,790 360,796 361,789 361,778 362,782 362,792 363,788 363,797 364,789 364,785 365,787 365,796 366,797 366,787 367,783 367,794 368,787 368,773 369,778 369,790 370,787 370,798 371,793 371,791 372,789 372,793 373,796 373,789 374,789 374,797 375,795 375,784 376,785 376,786 377,788 377,783 378,784 378,777 379,780 379,791 380,794 380,780 381,790 381,794 382,795 382,789 383,788 383,794 384,791 384,787 385,788 385,792 386,786 386,802 387,802 387,787 388,788 388,789 389,790 389,781 390,779 390,788 391,790 391,795 392,794 392,786 393,789 393,794 394,794 394,791 395,785 395,779 396,786 396,790 397,788 397,793 398,791 398,796 399,794 399,784 400,787 400,793 401,794 401,786 402,783 402,791 403,795 403,786 404,787 404,793 405,791 405,796 406,787 406,786 407,795 407,798 408,791 408,790 409,793 409,799 410,791 410,781 411,791 411,801 412,799 412,785 413,782 413,778 414,795 414,796 415,792 415,783 416,770 416,812 417,784 417,779 418,780 418,788 419,790 419,783 420,788 420,797 421,789 421,807 422,815 422,759 423,787 423,799 424,797 424,793 425,789 425,783 426,783 426,791 427,800 427,765 428,788 428,791 429,794 429,783 430,793 430,798 431,803 431,783 432,785 432,771 433,782 433,792 434,794 434,796 435,792 435,775 436,779 436,795 437,794 437,801 438,791 438,782 439,780 439,786 440,779 440,798 441,792 441,785 442,794 442,803 443,796 443,782 444,791 444,793 445,790 445,779 446,776 446,784 447,781 447,794 448,792 448,786 449,784 449,810 450,782 450,779 451,794 451,799 452,792 452,781 453,781 453,790 454,790 454,783 455,784 455,789 456,789 456,790 457,798 457,775 458,775 458,796 459,798 459,783 460,782 460,788 461,794 461,776 462,789 462,802 463,784 463,774 464,782 464,795 465,802 465,782 466,779 466,796 467,795 467,779 468,775 468,799 469,804 469,780 470,778 470,803 471,795 471,786 472,781 472,797 473,788 473,780 474,792 474,794 475,795 475,781 476,791 476,798 477,797 477,782 478,784 478,790 479,786 479,781 480,786 480,798 481,787 481,786 482,794 482,799 483,798 483,794 484,792 484,781 485,792 485,795 486,793 486,786 487,785 487,790 488,793 488,780 489,784 489,795 490,795 490,799 491,794 491,784 492,790 492,798 493,795 493,790 494,793 494,779 495,789 495,801 496,792 496,786 497,788 497,792 498,796 498,785 499,784 499,787 500,789 500,779 501,787 501,793 502,794 502,788 503,790 503,803 504,793 504,786 505,784 505,798 506,793 506,786 507,792 507,799 508,797 508,791 509,794 509,786 510,787 510,794 511,791 511,781 512,783 512,792 513,794 513,786 514,787 514,801 515,794 515,778 516,791 516,792 517,792 517,784 518,789 518,793 519,791 519,785 520,787 520,792 521,792 521,799 522,802 522,789 523,790 523,795 524,794 524,792 525,789 525,797 526,790 526,787 527,786 527,799 528,792 528,785 529,784 529,791 530,794 530,787 531,792 531,781 532,792 532,798 533,801 533,792 534,792 534,795 535,794 535,801 536,795 536,786 537,786 537,788 538,789 538,786 539,788 539,793 540,792 540,785 541,785 541,790 542,789 542,781 543,783 543,797 544,787 544,779 545,787 545,791 546,792 546,788 547,790 547,792 548,791 548,794 549,787 549,780 550,786 550,796 551,795 551,788 552,789 552,783 553,788 553,792 554,792 554,783 555,786 555,791 556,792 556,788 557,785 557,797 558,793 558,783 559,785 559,787 560,790 560,779 561,780 561,786 562,785 562,790 563,792 563,783 564,790 564,795 565,784 565,783 566,787 566,791 567,794 567,772 568,780 568,792 569,788 569,785 570,784 570,791 571,794 571,787 572,792 572,797 573,789 573,781 574,781 574,792 575,788 575,772 576,777 576,782 577,781 577,787 578,788 578,785 579,780 579,790 580,789 580,783 581,788 581,790 582,786 582,781 583,781 583,794 584,791 584,785 585,791 585,797 586,789 586,781 587,783 587,777 588,788 588,791 589,790 589,784 590,781 590,790 591,782 591,779 592,785 592,795 593,791 593,787 594,789 594,781 595,794 595,795 596,792 596,786 597,788 597,794 598,798 598,785 599,791 599,798 600,796 600,784 601,788 601,791 602,792 602,786 603,786 603,792 604,792 604,779 605,787 605,795 606,796 606,787 607,786 607,793 608,790 608,789 609,784 609,795 610,797 610,786 611,792 611,793 612,793 612,789 613,791 613,784 614,789 614,795 615,794 615,790 616,786 616,799 617,796 617,789 618,787 618,794 619,794 619,789 620,789 620,793 621,793 621,786 622,789 622,798 623,799 623,787 624,787 624,790 625,794 625,796 626,798 626,792 627,792 627,799 628,798 628,797 629,792 629,789 630,790 630,785 631,783 631,794 632,794 632,790 633,790 633,795 634,789 634,802 635,792 635,781 636,787 636,792 637,783 637,803 638,798 638,791 639,793 639,800 640,799 640,788 641,793 641,794 642,792 642,797 643,790 643,787 644,788 644,791 645,792 645,796 646,793 646,785 647,785 647,793 648,792 648,794 649,794 649,797 650,792 650,784 651,785 651,789 652,788 652,785 653,790 653,794 654,784 654,778 655,786 655,790 656,787 656,783 657,781 657,787 658,786 658,779 659,783 659,788 660,784 660,778 661,783 661,791 662,789 662,783 663,785 663,788 664,784 664,795 665,786 665,776 666,781 666,786 667,783 667,789 668,791 668,785 669,785 669,794 670,793 670,788 671,790 671,783 672,782 672,778 673,782 673,791 674,783 674,779 675,782 675,787 676,787 676,784 677,784 677,780 678,787 678,791 679,790 679,785 680,788 680,790 681,788 681,786 682,787 682,796 683,792 683,785 684,790 684,792 685,791 685,799 686,792 686,787 687,785 687,797 688,788 688,782"/>
<polyline fill="none" stroke="#0000ff" stroke-width="1" stroke-linecap="square" transform="translate(0.5,0.5)" points="117,848 117,850 118,853 118,844 119,846 119,847 120,846 120,852 121,852 121,846 122,848 122,851 123,853 123,846 124,849 124,850 125,850 125,852 126,850 126,846 127,846 127,854 128,852 128,856 129,858 129,852 130,853 130,861 131,858 131,852 132,851 132,848 133,849 133,854 134,853 134,850 135,851 135,862 136,857 136,853 137,857 137,859 138,860 138,853 139,852 139,855 140,854 140,856 141,858 141,845 142,849 142,855 143,850 143,849 144,848 144,846 145,850 145,853 146,852 146,849 147,849 147,852 148,853 148,845 149,844 149,847 150,845 150,851 151,844 151,842 152,842 152,846 153,847 153,849 154,850 154,845 155,847 155,854 156,847 156,844 157,844 157,849 158,850 158,839 159,838 159,846 160,845 160,837 161,845 161,848 162,847 162,840 163,840 163,844 164,840 164,837 165,838 165,841 166,843 166,850 167,847 167,844 168,844 168,857 169,853 169,847 170,845 170,843 171,844 171,852 172,851 172,841 173,839 173,850 174,846 174,839 175,842 175,844 176,843 176,848 177,848 177,845 178,845 178,851 179,847 179,842 180,843 180,838 181,838 181,843 182,837 182,831 183,834 183,837 184,841 184,843 185,841 185,845 186,844 186,843 187,844 187,848 188,844 188,843 189,842 189,845 190,846 190,848 191,847 191,844 192,848 192,849 193,848 193,852 194,849 194,846 195,848 195,850 196,849 196,853 197,848 197,846 198,847 198,844 199,845 199,848 200,847 200,845 201,845 201,850 202,848 202,847 203,847 203,845 204,843 204,847 205,845 205,842 206,841 206,847 207,847 207,841 208,841 208,842 209,842 209,837 210,842 210,844 211,844 211,839 212,842 212,848 213,846 213,851 214,850 214,842 215,841 215,849 216,840 216,839 217,839 217,842 218,843 218,836 219,847 219,848 220,848 220,853 221,851 221,845 222,852 222,853 223,847 223,844 224,847 224,849 225,848 225,852 226,848 226,846 227,848 227,841 228,844 228,852 229,845 229,841 230,848 230,850 231,851 231,848 232,848 232,851 233,851 233,850 234,852 234,846 235,847 235,844 236,843 236,842 237,841 237,845 238,842 238,840 239,844 239,846 240,848 240,843 241,846 241,851 242,842 242,841 243,843 243,844 244,842 244,849 245,847 245,844 246,851 246,854 247,852 247,848 248,848 248,851 249,849 249,845 250,848 250,853 251,851 251,855 252,854 252,851 253,852 253,848 254,852 254,853 255,852 255,854 256,852 256,849 257,854 257,864 258,860 258,856 259,857 259,851 260,851 260,854 261,854 261,857 262,853 262,851 263,855 263,856 264,856 264,851 265,851 265,858 266,859 266,849 267,852 267,855 268,853 268,851 269,854 269,859 270,855 270,854 271,856 271,848 272,849 272,852 273,851 273,854 274,852 274,849 275,852 275,843 276,847 276,855 277,847 277,846 278,848 278,842 279,847 279,850 280,847 280,853 281,852 281,854 282,850 282,843 283,843 283,847 284,850 284,843 285,843 285,845 286,847 286,849 287,847 287,845 288,844 288,846 289,846 289,838 290,840 290,843 291,839 291,835 292,839 292,845 293,843 293,840 294,839 294,837 295,844 295,846 296,844 296,843 297,843 297,847 298,847 298,845 299,846 299,843 300,845 300,847 301,845 301,843 302,846 302,852 303,849 303,846 304,850 304,853 305,852 305,848 306,851 306,854 307,848 307,844 308,846 308,848 309,845 309,856 310,852 310,850 311,852 311,856 312,855 312,852 313,852 313,846 314,845 314,850 315,848 315,847 316,849 316,852 317,849 317,857 318,850 318,847 319,847 319,848 320,845 320,832 321,844 321,851 322,846 322,856 323,857 323,869 324,855 324,833 325,853 325,858 326,855 326,847 327,848 327,856 328,845 328,835 329,820 329,861 330,863 330,846 331,843 331,840 332,840 332,876 333,847 333,839 334,846 334,853 335,850 335,835 336,830 336,870 337,852 337,845 338,848 338,855 339,854 339,848 340,855 340,864 341,855 341,852 342,839 342,870 343,850 343,849 344,847 344,857 345,851 345,839 346,839 346,854 347,849 347,843 348,832 348,861 349,864 349,845 350,844 350,839 351,840 351,851 352,855 352,842 353,851 353,857 354,844 354,838 355,844 355,854 356,853 356,865 357,856 357,841 358,846 358,848 359,844 359,856 360,854 360,849 361,849 361,842 362,842 362,854 363,851 363,860 364,849 364,839 365,848 365,859 366,854 366,826 367,847 367,858 368,854 368,845 369,847 369,859 370,852 370,848 371,842 371,857 372,853 372,831 373,842 373,847 374,847 374,861 375,860 375,835 376,835 376,863 377,856 377,851 378,844 378,861 379,847 379,844 380,843 380,833 381,841 381,856 382,853 382,845 383,846 383,854 384,857 384,843 385,847 385,835 386,840 386,847 387,841 387,853 388,860 388,829 389,834 389,854 390,855 390,846 391,853 391,838 392,838 392,863 393,865 393,855 394,850 394,861 395,854 395,852 396,851 396,840 397,846 397,858 398,860 398,841 399,837 399,852 400,852 400,856 401,861 401,845 402,847 402,830 403,845 403,855 404,857 404,836 405,852 405,862 406,847 406,833 407,840 407,855 408,853 408,845 409,848 409,859 410,847 410,839 411,842 411,858 412,855 412,824 413,845 413,872 414,844 414,836 415,852 415,861 416,858 416,846 417,853 417,863 418,847 418,845 419,851 419,858 420,851 420,844 421,836 421,856 422,842 422,832 423,844 423,853 424,852 424,843 425,844 425,837 426,848 426,855 427,854 427,833 428,836 428,861 429,861 429,843 430,848 430,857 431,859 431,840 432,848 432,865 433,863 433,851 434,848 434,856 435,856 435,854 436,852 436,846 437,849 437,859 438,851 438,833 439,826 439,845 440,840 440,855 441,853 441,847 442,849 442,856 443,852 443,844 444,853 444,864 445,844 445,836 446,844 446,855 447,849 447,843 448,851 448,858 449,846 449,840 450,847 450,860 451,851 451,832 452,850 452,869 453,859 453,845 454,840 454,852 455,849 455,841 456,850 456,854 457,859 457,848 458,856 458,838 459,845 459,856 460,855 460,839 461,841 461,845 462,839 462,857 463,853 463,861 464,847 464,846 465,849 465,861 466,851 466,844 467,844 467,840 468,848 468,867 469,855 469,838 470,838 470,857 471,851 471,840 472,852 472,856 473,849 473,839 474,852 474,862 475,848 475,843 476,837 476,858 477,853 477,841 478,841 478,840 479,846 479,850 480,853 480,844 481,843 481,859 482,849 482,838 483,851 483,855 484,851 484,842 485,843 485,852 486,844 486,836 487,845 487,856 488,853 488,838 489,843 489,852 490,848 490,859 491,854 491,843 492,850 492,854 493,849 493,843 494,842 494,851 495,849 495,843 496,846 496,829 497,844 497,861 498,857 498,849 499,855 499,823 500,843 500,847 501,847 501,842 502,842 502,853 503,845 503,842 504,846 504,854 505,857 505,846 506,841 506,859 507,861 507,839 508,853 508,854 509,849 509,846 510,846 510,843 511,841 511,845 512,841 512,854 513,850 513,845 514,846 514,848 515,850 515,835 516,846 516,851 517,853 517,845 518,842 518,840 519,842 519,853 520,856 520,843 521,843 521,855 522,861 522,847 523,849 523,841 524,847 524,853 525,852 525,837 526,845 526,854 527,852 527,846 528,844 528,848 529,849 529,837 530,846 530,849 531,845 531,836 532,848 532,855 533,848 533,841 534,842 534,853 535,852 535,842 536,852 536,855 537,855 537,849 538,846 538,856 539,843 539,842 540,843 540,856 541,857 541,846 542,843 542,849 543,851 543,840 544,845 544,853 545,845 545,840 546,839 546,844 547,842 547,848 548,841 548,855 549,848 549,840 550,838 550,851 551,852 551,845 552,848 552,850 553,855 553,843 554,847 554,853 555,848 555,843 556,844 556,849 557,844 557,856 558,851 558,848 559,849 559,855 560,860 560,839 561,841 561,850 562,848 562,836 563,845 563,847 564,850 564,841 565,840 565,848 566,843 566,859 567,854 567,838 568,839 568,857 569,859 569,853 570,850 570,862 571,850 571,834 572,834 572,862 573,847 573,835 574,841 574,851 575,845 575,844 576,841 576,847 577,848 577,833 578,838 578,849 579,849 579,851 580,854 580,840 581,846 581,848 582,853 582,841 583,844 583,848 584,847 584,838 585,847 585,849 586,854 586,861 587,849 587,844 588,846 588,853 589,859 589,860 590,852 590,837 591,842 591,849 592,847 592,843 593,849 593,829 594,834 594,852 595,846 595,840 596,842 596,848 597,847 597,854 598,847 598,844 599,843 599,850 600,846 600,855 601,848 601,847 602,847 602,846 603,843 603,854 604,845 604,831 605,836 605,859 606,861 606,846 607,848 607,836 608,841 608,849 609,848 609,851 610,850 610,836 611,843 611,849 612,849 612,860 613,850 613,842 614,844 614,852 615,848 615,846 616,843 616,849 617,850 617,840 618,837 618,849 619,849 619,839 620,845 620,851 621,853 621,845 622,845 622,849 623,849 623,862 624,848 624,846 625,851 625,855 626,849 626,833 627,847 627,856 628,848 628,839 629,846 629,863 630,851 630,829 631,851 631,861 632,844 632,840 633,842 633,858 634,859 634,840 635,844 635,859 636,845 636,838 637,844 637,848 638,850 638,837 639,839 639,849 640,849 640,840 641,844 641,859 642,861 642,853 643,855 643,842 644,852 644,856 645,852 645,861 646,850 646,844 647,838 647,857 648,859 648,849 649,851 649,854 650,857 650,846 651,847 651,855 652,851 652,847 653,852 653,853 654,849 654,840 655,846 655,851 656,848 656,859 657,858 657,844 658,851 658,862 659,859 659,852 660,851 660,855 661,852 661,840 662,842 662,859 663,860 663,849 664,851 664,837 665,856 665,866 666,861 666,850 667,851 667,866 668,858 668,847 669,847 669,867 670,862 670,856 671,848 671,864 672,856 672,848 673,840 673,857 674,851 674,834 675,846 675,863 676,858 676,854 677,849 677,866 678,867 678,847 679,854 679,872 680,861 680,857 681,860 681,850 682,859 682,868 683,867 683,846 684,842 684,857 685,850 685,841 686,843 686,852 687,851 687,863 688,862 688,854 689,852 689,856 690,847 690,841 691,856 691,859 692,856 692,849 693,851 693,864 694,870 694,850 695,850 695,862 696,854 696,851 697,854 697,862 698,860 698,852 699,854 699,847 700,843 700,857 701,852 701,864 702,852 702,851 703,855 703,859 704,858 704,847 705,841 705,855 706,862 706,847 707,847 707,843 708,840 708,856"/>
<polyline fill="none" stroke="#0000ff" stroke-width="1" stroke-linecap="square" transform="translate(0.5,0.5)" points="117,905 117,906 118,907 118,904 119,904 119,905 120,904 120,906 121,906 121,904 122,902 122,907 123,907 123,908 124,907 124,904 125,903 125,909 126,911 126,905 127,906 127,908 128,908 128,904 129,904 129,909 130,907 130,904 131,903 131,905 132,905 132,906 133,906 133,902 134,907 134,908 135,907 135,906 136,905 136,907 137,908 137,905 138,906 138,908 139,907 139,904 140,903 140,908 141,906 141,902 142,905 142,907 143,907 143,905 144,906 144,907 145,905 145,909 146,908 146,904 147,904 147,907 148,907 148,905 149,904 149,907 150,906 150,908 151,908 151,905 152,903 152,902 153,903 153,909 154,910 154,904 155,906 155,907 156,906 156,908 157,909 157,904 158,904 158,907 159,905 159,902 160,906 160,907 161,907 161,904 162,904 162,905 163,903 163,908 164,908 164,902 165,904 165,906 166,906 166,905 167,906 167,907 168,905 168,909 169,905 169,904 170,905 170,907 171,907 171,905 172,905 172,904 173,904 173,908 174,909 174,910 175,907 175,905 176,906 176,903 177,904 177,907 178,905 178,903 179,904 179,905 180,905 180,907 181,907 181,905 182,905 182,906 183,907 183,908 184,905 184,904 185,905 185,906 186,905 186,908 187,906 187,902 188,904 188,906 189,906 189,907 190,906 190,905 191,904 191,907 192,907 192,908 193,905 193,901 194,905 194,908 195,907 195,902 196,905 196,907 197,907 197,905 198,903 198,907 199,906 199,909 200,907 200,904 201,903 201,908 202,907 202,909 203,908 203,907 204,906 204,904 205,906 205,908 206,905 206,903 207,904 207,905 208,904 208,907 209,908 209,905 210,908 210,911 211,908 211,907 212,907 212,909 213,907 213,906 214,905 214,904 215,902 215,907 216,907 216,904 217,902 217,908 218,907 218,905 219,904 219,906 220,907 220,910 221,907 221,906 222,905 222,910 223,910 223,903 224,904 224,906 225,905 225,907 226,907 226,902 227,903 227,907 228,907 228,909 229,908 229,910 230,908 230,905 231,905 231,907 232,905 232,904 233,905 233,907 234,906 234,904 235,904 235,903 236,905 236,906 237,905 237,904 238,906 238,908 239,905 239,904 240,904 240,907 241,909 241,903 242,903 242,905 243,904 243,903 244,907 244,908 245,908 245,907 246,908 246,910 247,907 247,905 248,904 248,906 249,907 249,904 250,903 250,906 251,905 251,907 252,907 252,904 253,905 253,906 254,906 254,903 255,906 255,908 256,908 256,906 257,905 257,907 258,906 258,910 259,908 259,903 260,904 260,908 261,907 261,906 262,906 262,904 263,904 263,906 264,904 264,900 265,904 265,907 266,908 266,904 267,905 267,906 268,906 268,905 269,905 269,907 270,907 270,905 271,907 271,908 272,908 272,905 273,908 273,910 274,907 274,906 275,905 275,908 276,907 276,905 277,905 277,903 278,901 278,905 279,905 279,906 280,904 280,910 281,908 281,906 282,904 282,909 283,909 283,906 284,904 284,908 285,908 285,906 286,906 286,905 287,906 287,903 288,905 288,907 289,905 289,902 290,904 290,906 291,906 291,904 292,906 292,908 293,906 293,903 294,906 294,907 295,908 295,911 296,907 296,904 297,906 297,908 298,908 298,905 299,906 299,902 300,904 300,907 301,908 301,904 302,907 302,910 303,906 303,905 304,907 304,902 305,904 305,906 306,906 306,905 307,906 307,903 308,906 308,909 309,906 309,903 310,903 310,906 311,903 311,902 312,903 312,907 313,905 313,902 314,904 314,908 315,908 315,905 316,907 316,909 317,908 317,906 318,908 318,910 319,910 319,908 320,908 320,900 321,906 321,910 322,918 322,900 323,906 323,889 324,905 324,909 325,902 325,900 326,898 326,910 327,907 327,903 328,903 328,907 329,903 329,902 330,906 330,909 331,909 331,905 332,908 332,913 333,910 333,907 334,907 334,903 335,907 335,910 336,908 336,906 337,906 337,911 338,907 338,905 339,905 339,900 340,902 340,907 341,908 341,912 342,906 342,903 343,899 343,912 344,913 344,898 345,901 345,912 346,906 346,901 347,903 347,914 348,909 348,905 349,906 349,901 350,901 350,907 351,904 351,912 352,907 352,898 353,902 353,905 354,904 354,909 355,906 355,904 356,904 356,902 357,903 357,910 358,907 358,905 359,900 359,911 360,911 360,902 361,903 361,908 362,908 362,902 363,908 363,911 364,908 364,907 365,910 365,900 366,905 366,915 367,906 367,904 368,904 368,909 369,908 369,899 370,900 370,908 371,906 371,902 372,902 372,908 373,908 373,911 374,904 374,901 375,903 375,905 376,907 376,902 377,900 377,906 378,903 378,910 379,911 379,901 380,908 380,910 381,912 381,901 382,903 382,909 383,908 383,899 384,906 384,909 385,909 385,904 386,906 386,901 387,901 387,909 388,906 388,904 389,903 389,898 390,905 390,912 391,909 391,903 392,907 392,911 393,908 393,898 394,904 394,909 395,909 395,899 396,899 396,903 397,902 397,907 398,909 398,903 399,902 399,912 400,906 400,903 401,902 401,907 402,905 402,901 403,901 403,909 404,910 404,902 405,902 405,910 406,910 406,904 407,908 407,914 408,914 408,908 409,910 409,903 410,900 410,910 411,909 411,903 412,906 412,896 413,900 413,904 414,904 414,905 415,907 415,901 416,903 416,912 417,910 417,905 418,906 418,908 419,906 419,905 420,906 420,908 421,903 421,898 422,900 422,905 423,905 423,908 424,907 424,905 425,908 425,897 426,910 426,913 427,909 427,903 428,902 428,901 429,904 429,909 430,906 430,904 431,901 431,908 432,907 432,902 433,908 433,909 434,910 434,906 435,905 435,899 436,904 436,908 437,908 437,910 438,904 438,898 439,902 439,908 440,908 440,902 441,903 441,908 442,905 442,904 443,906 443,901 444,903 444,906 445,909 445,901 446,905 446,907 447,905 447,903 448,908 448,911 449,936 449,879 450,896 450,906 451,914 451,894 452,903 452,906 453,910 453,890 454,913 454,923 455,931 455,899 456,902 456,919 457,915 457,906 458,908 458,888 459,903 459,912 460,898 460,895 461,907 461,913 462,904 462,902 463,900 463,906 464,908 464,914 465,905 465,898 466,904 466,906 467,905 467,899 468,901 468,914 469,910 469,906 470,904 470,908 471,913 471,895 472,899 472,917 473,915 473,894 474,903 474,910 475,907 475,896 476,901 476,911 477,902 477,921 478,919 478,904 479,905 479,908 480,917 480,897 481,899 481,906 482,900 482,914 483,905 483,897 484,891 484,916 485,915 485,905 486,910 486,895 487,902 487,909 488,903 488,898 489,898 489,910 490,916 490,902 491,899 491,916 492,911 492,902 493,902 493,906 494,903 494,909 495,907 495,897 496,904 496,910 497,907 497,892 498,902 498,918 499,911 499,897 500,897 500,917 501,918 501,897 502,903 502,916 503,908 503,905 504,907 504,902 505,907 505,912 506,910 506,907 507,907 507,911 508,904 508,899 509,901 509,908 510,902 510,898 511,900 511,911 512,913 512,900 513,904 513,914 514,912 514,904 515,902 515,912 516,904 516,898 517,909 517,919 518,907 518,899 519,903 519,906 520,909 520,913 521,905 521,898 522,899 522,912 523,916 523,901 524,897 524,915 525,909 525,899 526,902 526,912 527,911 527,897 528,904 528,914 529,912 529,902 530,902 530,908 531,909 531,899 532,902 532,904 533,907 533,898 534,907 534,913 535,907 535,903 536,901 536,905 537,906 537,902 538,905 538,908 539,905 539,903 540,897 540,915 541,912 541,904 542,904 542,915 543,902 543,892 544,900 544,920 545,916 545,904 546,905 546,896 547,907 547,912 548,911 548,901 549,905 549,896 550,896 550,908 551,912 551,901 552,904 552,913 553,904 553,897 554,907 554,913 555,905 555,899 556,906 556,912 557,907 557,903 558,902 558,907 559,903 559,899 560,901 560,907 561,906 561,908 562,907 562,906 563,906 563,908 564,911 564,901 565,904 565,912 566,912 566,897 567,898 567,910 568,909 568,900 569,902 569,909 570,906 570,901 571,904 571,912 572,909 572,908 573,909 573,911 574,905 574,891 575,905 575,910 576,904 576,899 577,903 577,909 578,903 578,901 579,897 579,907 580,904 580,911 581,909 581,907 582,908 582,914 583,911 583,906 584,905 584,910 585,910 585,906 586,907 586,901 587,900 587,909 588,908 588,900 589,904 589,906 590,903 590,897 591,909 591,914 592,906 592,899 593,904 593,912 594,908 594,902 595,909 595,913 596,910 596,900 597,903 597,914 598,907 598,896 599,901 599,910 600,909 600,906 601,906 601,902 602,898 602,910 603,910 603,909 604,908 604,906 605,905 605,902 606,901 606,906 607,905 607,917 608,908 608,903 609,907 609,898 610,902 610,907 611,904 611,900 612,905 612,912 613,905 613,902 614,906 614,914 615,911 615,907 616,904 616,903 617,899 617,907 618,908 618,903 619,906 619,909 620,909 620,913 621,907 621,898 622,905 622,910 623,911 623,896 624,901 624,907 625,904 625,911 626,905 626,900 627,905 627,916 628,912 628,898 629,903 629,918 630,903 630,898 631,910 631,915 632,909 632,899 633,895 633,906 634,902 634,919 635,912 635,900 636,901 636,916 637,906 637,898 638,900 638,911 639,902 639,895 640,903 640,917 641,903 641,897 642,905 642,910 643,906 643,903 644,908 644,914 645,905 645,902 646,905 646,908 647,910 647,904 648,904 648,907 649,909 649,904 650,905 650,900 651,901 651,911 652,905 652,902 653,903 653,907 654,905 654,901 655,903 655,915 656,910 656,906 657,906 657,900 658,909 658,913 659,907 659,904 660,900 660,909 661,907 661,904 662,907 662,911 663,915 663,898 664,899 664,909 665,901 665,918 666,912 666,904 667,908 667,899 668,902 668,912 669,912 669,896 670,907 670,919 671,904 671,896 672,901 672,904 673,908 673,911 674,909 674,901 675,904 675,895 676,907 676,912 677,905 677,903 678,901 678,906 679,910 679,900 680,902 680,913 681,904 681,903 682,903 682,901 683,903 683,911 684,909 684,898 685,905 685,908 686,908 686,909 687,911 687,904 688,905 688,906 689,904 689,914 690,906 690,898 691,904 691,911 692,909 692,904 693,906 693,899 694,905 694,912 695,907 695,901 696,901 696,905 697,900 697,898 698,906 698,909 699,910 699,906 700,904 700,911 701,908 701,914 702,910 702,907 703,906 703,912 704,910 704,905 705,905 705,904 706,906 706,910 707,903 707,901 708,901 708,910"/>
<rect x="0" y="38" width="710" height="1" fill="#000"/>
<rect x="0" y="97" width="710" height="1" fill="#000"/>
<rect x="18" y="39" width="1" height="2" fill="#000"/>
<rect x="18" y="95" width="1" height="2" fill="#000"/>
<rect x="38" y="39" width="1" height="2" fill="#000"/>
<rect x="38" y="95" width="1" height="2" fill="#000"/>
<rect x="57" y="39" width="1" height="4" fill="#000"/>
<rect x="57" y="93" width="1" height="4" fill="#000"/>
<rect x="77" y="39" width="1" height="2" fill="#000"/>
<rect x="77" y="95" width="1" height="2" fill="#000"/>
<rect x="97" y="39" width="1" height="2" fill="#000"/>
<rect x="97" y="95" width="1" height="2" fill="#000"/>
<rect x="117" y="39" width="1" height="2" fill="#000"/>
<rect x="117" y="95" width="1" height="2" fill="#000"/>
<rect x="136" y="39" width="1" height="2" fill="#000"/>
<rect x="136" y="95" width="1" height="2" fill="#000"/>
<rect x="156" y="39" width="1" height="6" fill="#000"/>
<rect x="156" y="91" width="1" height="6" fill="#000"/>
<rect x="176" y="39" width="1" height="2" fill="#000"/>
<rect x="176" y="95" width="1" height="2" fill="#000"/>
<rect x="196" y="39" width="1" height="2" fill="#000"/>
<rect x="196" y="95" width="1" height="2" fill="#000"/>
<rect x="216" y="39" width="1" height="2" fill="#000"/>
<rect x="216" y="95" width="1" height="2" fill="#000"/>
<rect x="235" y="39" width="1" height="2" fill="#000"/>
<rect x="235" y="95" width="1" height="2" fill="#000"/>
<rect x="255" y="39" width="1" height="4" fill="#000"/>
<rect x="255" y="93" width="1" height="4" fill="#000"/>
<rect x="275" y="39" width="1" height="2" fill="#000"/>
<rect x="275" y="95" width="1" height="2" fill="#000"/>
<rect x="295" y="39" width="1" height="2" fill="#000"/>
<rect x="295" y="95" width="1" height="2" fill="#000"/>
<rect x="314" y="39" width="1" height="2" fill="#000"/>
<rect x="314" y="95" width="1" height="2" fill="#000"/>
<rect x="334" y="39" width="1" height="2" fill="#000"/>
<rect x="334" y="95" width="1" height="2" fill="#000"/>
<rect x="354" y="39" width="1" height="6" fill="#000"/>
<rect x="354" y="91" width="1" height="6" fill="#000"/>
<rect x="374" y="39" width="1" height="2" fill="#000"/>
<rect x="374" y="95" width="1" height="2" fill="#000"/>
<rect x="394" y="39" width="1" height="2" fill="#000"/>
<rect x="394" y="95" width="1" height="2" fill="#000"/>
<rect x="413" y="39" width="1" height="2" fill="#000"/>
<rect x="413" y="95" width="1" height="2" fill="#000"/>
<rect x="433" y="39" width="1" height="2" fill="#000"/>
<rect x="433" y="95" width="1" height="2" fill="#000"/>
<rect x="453" y="39" width="1" height="4" fill="#000"/>
<rect x="453" y="93" width="1" height="4" fill="#000"/>
<rect x="473" y="39" width="1" height="2" fill="#000"/>
<rect x="473" y="95" width="1" height="2" fill="#000"/>
<rect x="492" y="39" width="1" height="2" fill="#000"/>
<rect x="492" y="95" width="1" height="2" fill="#000"/>
<rect x="512" y="39" width="1" height="2" fill="#000"/>
<rect x="512" y="95" width="1" height="2" fill="#000"/>
<rect x="532" y="39" width="1" height="2" fill="#000"/>
<rect x="532" y="95" width="1" height="2" fill="#000"/>
<rect x="552" y="39" width="1" height="6" fill="#000"/>
<rect x="552" y="91" width="1" height="6" fill="#000"/>
<rect x="572" y="39" width="1" height="2" fill="#000"/>
<rect x="572" y="95" width="1" height="2" fill="#000"/>
<rect x="591" y="39" width="1" height="2" fill="#000"/>
<rect x="591" y="95" width="1" height="2" fill="#000"/>
<rect x="611" y="39" width="1" height="2" fill="#000"/>
<rect x="611" y="95" width="1" height="2" fill="#000"/>
<rect x="631" y="39" width="1" height="2" fill="#000"/>
<rect x="631" y="95" width="1" height="2" fill="#000"/>
<rect x="651" y="39" width="1" height="4" fill="#000"/>
<rect x="651" y="93" width="1" height="4" fill="#000"/>
<rect x="670" y="39" width="1" height="2" fill="#000"/>
<rect x="670" y="95" width="1" height="2" fill="#000"/>
<rect x="690" y="39" width="1" height="2" fill="#000"/>
<rect x="690" y="95" width="1" height="2" fill="#000"/>
<rect x="0" y="98" width="710" height="1" fill="#000"/>
<rect x="0" y="157" width="710" height="1" fill="#000"/>
<rect x="18" y="99" width="1" height="2" fill="#000"/>
<rect x="18" y="155" width="1" height="2" fill="#000"/>
<rect x="38" y="99" width="1" height="2" fill="#000"/>
<rect x="38" y="155" width="1" height="2" fill="#000"/>
<rect x="57" y="99" width="1" height="4" fill="#000"/>
<rect x="57" y="153" width="1" height="4" fill="#000"/>
<rect x="77" y="99" width="1" height="2" fill="#000"/>
<rect x="77" y="155" width="1" height="2" fill="#000"/>
<rect x="97" y="99" width="1" height="2" fill="#000"/>
<rect x="97" y="155" width="1" height="2" fill="#000"/>
<rect x="117" y="99" width="1" height="2" fill="#000"/>
<rect x="117" y="155" width="1" height="2" fill="#000"/>
<rect x="136" y="99" width="1" height="2" fill="#000"/>
<rect x="136" y="155" width="1" height="2" fill="#000"/>
<rect x="156" y="99" width="1" height="6" fill="#000"/>
<rect x="156" y="151" width="1" height="6" fill="#000"/>
<rect x="176" y="99" width="1" height="2" fill="#000"/>
<rect x="176" y="155" width="1" height="2" fill="#000"/>
<rect x="196" y="99" width="1" height="2" fill="#000"/>
<rect x="196" y="155" width="1" height="2" fill="#000"/>
<rect x="216" y="99" width="1" height="2" fill="#000"/>
<rect x="216" y="155" width="1" height="2" fill="#000"/>
<rect x="235" y="99" width="1" height="2" fill="#000"/>
<rect x="235" y="155" width="1" height="2" fill="#000"/>
<rect x="255" y="99" width="1" height="4" fill="#000"/>
<rect x="255" y="153" width="1" height="4" fill="#000"/>
<rect x="275" y="99" width="1" height="2" fill="#000"/>
<rect x="275" y="155" width="1" height="2" fill="#000"/>
<rect x="295" y="99" width="1" height="2" fill="#000"/>
<rect x="295" y="155" width="1" height="2" fill="#000"/>
<rect x="314" y="99" width="1" height="2" fill="#000"/>
<rect x="314" y="155" width="1" height="2" fill="#000"/>
<rect x="334" y="99" width="1" height="2" fill="#000"/>
<rect x="334" y="155" width="1" height="2" fill="#000"/>
<rect x="354" y="99" width="1" height="6" fill="#000"/>
<rect x="354" y="151" width="1" height="6" fill="#000"/>
<rect x="374" y="99" width="1" height="2" fill="#000"/>
<rect x="374" y="155" width="1" height="2" fill="#000"/>
<rect x="394" y="99" width="1" height="2" fill="#000"/>
<rect x="394" y="155" width="1" height="2" fill="#000"/>
<rect x="413" y="99" width="1" height="2" fill="#000"/>
<rect x="413" y="155" width="1" height="2" fill="#000"/>
<rect x="433" y="99" width="1" height="2" fill="#000"/>
<rect x="433" y="155" width="1" height="2" fill="#000"/>
<rect x="453" y="99" width="1" height="4" fill="#000"/>
<rect x="453" y="153" width="1" height="4" fill="#000"/>
<rect x="473" y="99" width="1" height="2" fill="#000"/>
<rect x="473" y="155" width="1" height="2" fill="#000"/>
<rect x="492" y="99" width="1" height="2" fill="#000"/>
<rect x="492" y="155" width="1" height="2" fill="#000"/>
<rect x="512" y="99" width="1" height="2" fill="#000"/>
<rect x="512" y="155" width="1" height="2" fill="#000"/>
<rect x="532" y="99" width="1" height="2" fill="#000"/>
<rect x="532" y="155" width="1" height="2" fill="#000"/>
<rect x="552" y="99" width="1" height="6" fill="#000"/>
<rect x="552" y="151" width="1" height="6" fill="#000"/>
<rect x="572" y="99" width="1" height="2" fill="#000"/>
<rect x="572" y="155" width="1" height="2" fill="#000"/>
<rect x="591" y="99" width="1" height="2" fill="#000"/>
<rect x="591" y="155" width="1" height="2" fill="#000"/>
<rect x="611" y="99" width="1" height="2" fill="#000"/>
<rect x="611" y="155" width="1" height="2" fill="#000"/>
<rect x="631" y="99" width="1" height="2" fill="#000"/>
<rect x="631" y="155" width="1" height="2" fill="#000"/>
<rect x="651" y="99" width="1" height="4" fill="#000"/>
<rect x="651" y="153" width="1" height="4" fill="#000"/>
<rect x="670" y="99" width="1" height="2" fill="#000"/>
<rect x="670" y="155" width="1" height="2" fill="#000"/>
<rect x="690" y="99" width="1" height="2" fill="#000"/>
<rect x="690" y="155" width="1" height="2" fill="#000"/>
<rect x="0" y="158" width="710" height="1" fill="#000"/>
<rect x="0" y="217" width="710" height="1" fill="#000"/>
<rect x="18" y="159" width="1" height="2" fill="#000"/>
<rect x="18" y="215" width="1" height="2" fill="#000"/>
<rect x="38" y="159" width="1" height="2" fill="#000"/>
<rect x="38" y="215" width="1" height="2" fill="#000"/>
<rect x="57" y="159" width="1" height="4" fill="#000"/>
<rect x="57" y="213" width="1" height="4" fill="#000"/>
<rect x="77" y="159" width="1" height="2" fill="#000"/>
<rect x="77" y="215" width="1" height="2" fill="#000"/>
<rect x="97" y="159" width="1" height="2" fill="#000"/>
<rect x="97" y="215" width="1" height="2" fill="#000"/>
<rect x="117" y="159" width="1" height="2" fill="#000"/>
<rect x="117" y="215" width="1" height="2" fill="#000"/>
<rect x="136" y="159" width="1" height="2" fill="#000"/>
<rect x="136" y="215" width="1" height="2" fill="#000"/>
<rect x="156" y="159" width="1" height="6" fill="#000"/>
<rect x="156" y="211" width="1" height="6" fill="#000"/>
<rect x="176" y="159" width="1" height="2" fill="#000"/>
<rect x="176" y="215" width="1" height="2" fill="#000"/>
<rect x="196" y="159" width="1" height="2" fill="#000"/>
<rect x="196" y="215" width="1" height="2" fill="#000"/>
<rect x="216" y="159" width="1" height="2" fill="#000"/>
<rect x="216" y="215" width="1" height="2" fill="#000"/>
<rect x="235" y="159" width="1" height="2" fill="#000"/>
<rect x="235" y="215" width="1" height="2" fill="#000"/>
<rect x="255" y="159" width="1" height="4" fill="#000"/>
<rect x="255" y="213" width="1" height="4" fill="#000"/>
<rect x="275" y="159" width="1" height="2" fill="#000"/>
<rect x="275" y="215" width="1" height="2" fill="#000"/>
<rect x="295" y="159" width="1" height="2" fill="#000"/>
<rect x="295" y="215" width="1" height="2" fill="#000"/>
<rect x="314" y="159" width="1" height="2" fill="#000"/>
<rect x="314" y="215" width="1" height="2" fill="#000"/>
<rect x="334" y="159" width="1" height="2" fill="#000"/>
<rect x="334" y="215" width="1" height="2" fill="#000"/>
<rect x="354" y="159" width="1" height="6" fill="#000"/>
<rect x="354" y="211" width="1" height="6" fill="#000"/>
<rect x="374" y="159" width="1" height="2" fill="#000"/>
<rect x="374" y="215" width="1" height="2" fill="#000"/>
<rect x="394" y="159" width="1" height="2" fill="#000"/>
<rect x="394" y="215" width="1" height="2" fill="#000"/>
<rect x="413" y="159" width="1" height="2" fill="#000"/>
<rect x="413" y="215" width="1" height="2" fill="#000"/>
<rect x="433" y="159" width="1" height="2" fill="#000"/>
<rect x="433" y="215" width="1" height="2" fill="#000"/>
<rect x="453" y="159" width="1" height="4" fill="#000"/>
<rect x="453" y="213" width="1" height="4" fill="#000"/>
<rect x="473" y="159" width="1" height="2" fill="#000"/>
<rect x="473" y="215" width="1" height="2" fill="#000"/>
<rect x="492" y="159" width="1" height="2" fill="#000"/>
<rect x="492" y="215" width="1" height="2" fill="#000"/>
<rect x="512" y="159" width="1" height="2" fill="#000"/>
<rect x="512" y="215" width="1" height="2" fill="#000"/>
<rect x="532" y="159" width="1" height="2" fill="#000"/>
<rect x="532" y="215" width="1" height="2" fill="#000"/>
<rect x="552" y="159" width="1" height="6" fill="#000"/>
<rect x="552" y="211" width="1" height="6" fill="#000"/>
<rect x="572" y="159" width="1" height="2" fill="#000"/>
<rect x="572" y="215" width="1" height="2" fill="#000"/>
<rect x="591" y="159" width="1" height="2" fill="#000"/>
<rect x="591" y="215" width="1" height="2" fill="#000"/>
<rect x="611" y="159" width="1" height="2" fill="#000"/>
<rect x="611" y="215" width="1" height="2" fill="#000"/>
<rect x="631" y="159" width="1" height="2" fill="#000"/>
<rect x="631" y="215" width="1" height="2" fill="#000"/>
<rect x="651" y="159" width="1" height="4" fill="#000"/>
<rect x="651" y="213" width="1" height="4" fill="#000"/>
<rect x="670" y="159" width="1" height="2" fill="#000"/>
<rect x="670" y="215" width="1" height="2" fill="#000"/>
<rect x="690" y="159" width="1" height="2" fill="#000"/>
<rect x="690" y="215" width="1" height="2" fill="#000"/>
<rect x="0" y="218" width="710" height="1" fill="#000"/>
<rect x="0" y="277" width="710" height="1" fill="#000"/>
<rect x="18" y="219" width="1" height="2" fill="#000"/>
<rect x="18" y="275" width="1" height="2" fill="#000"/>
<rect x="38" y="219" width="1" height="2" fill="#000"/>
<rect x="38" y="275" width="1" height="2" fill="#000"/>
<rect x="57" y="219" width="1" height="4" fill="#000"/>
<rect x="57" y="273" width="1" height="4" fill="#000"/>
<rect x="77" y="219" width="1" height="2" fill="#000"/>
<rect x="77" y="275" width="1" height="2" fill="#000"/>
<rect x="97" y="219" width="1" height="2" fill="#000"/>
<rect x="97" y="275" width="1" height="2" fill="#000"/>
<rect x="117" y="219" width="1" height="2" fill="#000"/>
<rect x="117" y="275" width="1" height="2" fill="#000"/>
<rect x="136" y="219" width="1" height="2" fill="#000"/>
<rect x="136" y="275" width="1" height="2" fill="#000"/>
<rect x="156" y="219" width="1" height="6" fill="#000"/>
<rect x="156" y="271" width="1" height="6" fill="#000"/>
<rect x="176" y="219" width="1" height="2" fill="#000"/>
<rect x="176" y="275" width="1" height="2" fill="#000"/>
<rect x="196" y="219" width="1" height="2" fill="#000"/>
<rect x="196" y="275" width="1" height="2" fill="#000"/>
<rect x="216" y="219" width="1" height="2" fill="#000"/>
<rect x="216" y="275" width="1" height="2" fill="#000"/>
<rect x="235" y="219" width="1" height="2" fill="#000"/>
<rect x="235" y="275" width="1" height="2" fill="#000"/>
<rect x="255" y="219" width="1" height="4" fill="#000"/>
<rect x="255" y="273" width="1" height="4" fill="#000"/>
<rect x="275" y="219" width="1" height="2" fill="#000"/>
<rect x="275" y="275" width="1" height="2" fill="#000"/>
<rect x="295" y="219" width="1" height="2" fill="#000"/>
<rect x="295" y="275" width="1" height="2" fill="#000"/>
<rect x="314" y="219" width="1" height="2" fill="#000"/>
<rect x="314" y="275" width="1" height="2" fill="#000"/>
<rect x="334" y="219" width="1" height="2" fill="#000"/>
<rect x="334" y="275" width="1" height="2" fill="#000"/>
<rect x="354" y="219" width="1" height="6" fill="#000"/>
<rect x="354" y="271" width="1" height="6" fill="#000"/>
<rect x="374" y="219" width="1" height="2" fill="#000"/>
<rect x="374" y="275" width="1" height="2" fill="#000"/>
<rect x="394" y="219" width="1" height="2" fill="#000"/>
<rect x="394" y="275" width="1" height="2" fill="#000"/>
<rect x="413" y="219" width="1" height="2" fill="#000"/>
<rect x="413" y="275" width="1" height="2" fill="#000"/>
<rect x="433" y="219" width="1" height="2" fill="#000"/>
<rect x="433" y="275" width="1" height="2" fill="#000"/>
<rect x="453" y="219" width="1" height="4" fill="#000"/>
<rect x="453" y="273" width="1" height="4" fill="#000"/>
<rect x="473" y="219" width="1" height="2" fill="#000"/>
<rect x="473" y="275" width="1" height="2" fill="#000"/>
<rect x="492" y="219" width="1" height="2" fill="#000"/>
<rect x="492" y="275" width="1" height="2" fill="#000"/>
<rect x="512" y="219" width="1" height="2" fill="#000"/>
<rect x="512" y="275" width="1" height="2" fill="#000"/>
<rect x="532" y="219" width="1" height="2" fill="#000"/>
<rect x="532" y="275" width="1" height="2" fill="#000"/>
<rect x="552" y="219" width="1" height="6" fill="#000"/>
<rect x="552" y="271" width="1" height="6" fill="#000"/>
<rect x="572" y="219" width="1" height="2" fill="#000"/>
<rect x="572" y="275" width="1" height="2" fill="#000"/>
<rect x="591" y="219" width="1" height="2" fill="#000"/>
<rect x="591" y="275" width="1" height="2" fill="#000"/>
<rect x="611" y="219" width="1" height="2" fill="#000"/>
<rect x="611" y="275" width="1" height="2" fill="#000"/>
<rect x="631" y="219" width="1" height="2" fill="#000"/>
<rect x="631" y="275" width="1" height="2" fill="#000"/>
<rect x="651" y="219" width="1" height="4" fill="#000"/>
<rect x="651" y="273" width="1" height="4" fill="#000"/>
<rect x="670" y="219" width="1" height="2" fill="#000"/>
<rect x="670" y="275" width="1" height="2" fill="#000"/>
<rect x="690" y="219" width="1" height="2" fill="#000"/>
<rect x="690" y="275" width="1" height="2" fill="#000"/>
<rect x="0" y="278" width="710" height="1" fill="#000"/>
<rect x="0" y="337" width="710" height="1" fill="#000"/>
<rect x="18" y="279" width="1" height="2" fill="#000"/>
<rect x="18" y="335" width="1" height="2" fill="#000"/>
<rect x="38" y="279" width="1" height="2" fill="#000"/>
<rect x="38" y="335" width="1" height="2" fill="#000"/>
<rect x="57" y="279" width="1" height="4" fill="#000"/>
<rect x="57" y="333" width="1" height="4" fill="#000"/>
<rect x="77" y="279" width="1" height="2" fill="#000"/>
<rect x="77" y="335" width="1" height="2" fill="#000"/>
<rect x="97" y="279" width="1" height="2" fill="#000"/>
<rect x="97" y="335" width="1" height="2" fill="#000"/>
<rect x="117" y="279" width="1" height="2" fill="#000"/>
<rect x="117" y="335" width="1" height="2" fill="#000"/>
<rect x="136" y="279" width="1" height="2" fill="#000"/>
<rect x="136" y="335" width="1" height="2" fill="#000"/>
<rect x="156" y="279" width="1" height="6" fill="#000"/>
<rect x="156" y="331" width="1" height="6" fill="#000"/>
<rect x="176" y="279" width="1" height="2" fill="#000"/>
<rect x="176" y="335" width="1" height="2" fill="#000"/>
<rect x="196" y="279" width="1" height="2" fill="#000"/>
<rect x="196" y="335" width="1" height="2" fill="#000"/>
<rect x="216" y="279" width="1" height="2" fill="#000"/>
<rect x="216" y="335" width="1" height="2" fill="#000"/>
<rect x="235" y="279" width="1" height="2" fill="#000"/>
<rect x="235" y="335" width="1" height="2" fill="#000"/>
<rect x="255" y="279" width="1" height="4" fill="#000"/>
<rect x="255" y="333" width="1" height="4" fill="#000"/>
<rect x="275" y="279" width="1" height="2" fill="#000"/>
<rect x="275" y="335" width="1" height="2" fill="#000"/>
<rect x="295" y="279" width="1" height="2" fill="#000"/>
<rect x="295" y="335" width="1" height="2" fill="#000"/>
<rect x="314" y="279" width="1" height="2" fill="#000"/>
<rect x="314" y="335" width="1" height="2" fill="#000"/>
<rect x="334" y="279" width="1" height="2" fill="#000"/>
<rect x="334" y="335" width="1" height="2" fill="#000"/>
<rect x="354" y="279" width="1" height="6" fill="#000"/>
<rect x="354" y="331" width="1" height="6" fill="#000"/>
<rect x="374" y="279" width="1" height="2" fill="#000"/>
<rect x="374" y="335" width="1" height="2" fill="#000"/>
<rect x="394" y="279" width="1" height="2" fill="#000"/>
<rect x="394" y="335" width="1" height="2" fill="#000"/>
<rect x="413" y="279" width="1" height="2" fill="#000"/>
<rect x="413" y="335" width="1" height="2" fill="#000"/>
<rect x="433" y="279" width="1" height="2" fill="#000"/>
<rect x="433" y="335" width="1" height="2" fill="#000"/>
<rect x="453" y="279" width="1" height="4" fill="#000"/>
<rect x="453" y="333" width="1" height="4" fill="#000"/>
<rect x="473" y="279" width="1" height="2" fill="#000"/>
<rect x="473" y="335" width="1" height="2" fill="#000"/>
<rect x="492" y="279" width="1" height="2" fill="#000"/>
<rect x="492" y="335" width="1" height="2" fill="#000"/>
<rect x="512" y="279" width="1" height="2" fill="#000"/>
<rect x="512" y="335" width="1" height="2" fill="#000"/>
<rect x="532" y="279" width="1" height="2" fill="#000"/>
<rect x="532" y="335" width="1" height="2" fill="#000"/>
<rect x="552" y="279" width="1" height="6" fill="#000"/>
<rect x="552" y="331" width="1" height="6" fill="#000"/>
<rect x="572" y="279" width="1" height="2" fill="#000"/>
<rect x="572" y="335" width="1" height="2" fill="#000"/>
<rect x="591" y="279" width="1" height="2" fill="#000"/>
<rect x="591" y="335" width="1" height="2" fill="#000"/>
<rect x="611" y="279" width="1" height="2" fill="#000"/>
<rect x="611" y="335" width="1" height="2" fill="#000"/>
<rect x="631" y="279" width="1" height="2" fill="#000"/>
<rect x="631" y="335" width="1" height="2" fill="#000"/>
<rect x="651" y="279" width="1" height="4" fill="#000"/>
<rect x="651" y="333" width="1" height="4" fill="#000"/>
<rect x="670" y="279" width="1" height="2" fill="#000"/>
<rect x="670" y="335" width="1" height="2" fill="#000"/>
<rect x="690" y="279" width="1" height="2" fill="#000"/>
<rect x="690" y="335" width="1" height="2" fill="#000"/>
<rect x="0" y="338" width="710" height="1" fill="#000"/>
<rect x="0" y="397" width="710" height="1" fill="#000"/>
<rect x="18" y="339" width="1" height="2" fill="#000"/>
<rect x="18" y="395" width="1" height="2" fill="#000"/>
<rect x="38" y="339" width="1" height="2" fill="#000"/>
<rect x="38" y="395" width="1" height="2" fill="#000"/>
<rect x="57" y="339" width="1" height="4" fill="#000"/>
<rect x="57" y="393" width="1" height="4" fill="#000"/>
<rect x="77" y="339" width="1" height="2" fill="#000"/>
<rect x="77" y="395" width="1" height="2" fill="#000"/>
<rect x="97" y="339" width="1" height="2" fill="#000"/>
<rect x="97" y="395" width="1" height="2" fill="#000"/>
<rect x="117" y="339" width="1" height="2" fill="#000"/>
<rect x="117" y="395" width="1" height="2" fill="#000"/>
<rect x="136" y="339" width="1" height="2" fill="#000"/>
<rect x="136" y="395" width="1" height="2" fill="#000"/>
<rect x="156" y="339" width="1" height="6" fill="#000"/>
<rect x="156" y="391" width="1" height="6" fill="#000"/>
<rect x="176" y="339" width="1" height="2" fill="#000"/>
<rect x="176" y="395" width="1" height="2" fill="#000"/>
<rect x="196" y="339" width="1" height="2" fill="#000"/>
<rect x="196" y="395" width="1" height="2" fill="#000"/>
<rect x="216" y="339" width="1" height="2" fill="#000"/>
<rect x="216" y="395" width="1" height="2" fill="#000"/>
<rect x="235" y="339" width="1" height="2" fill="#000"/>
<rect x="235" y="395" width="1" height="2" fill="#000"/>
<rect x="255" y="339" width="1" height="4" fill="#000"/>
<rect x="255" y="393" width="1" height="4" fill="#000"/>
<rect x="275" y="339" width="1" height="2" fill="#000"/>
<rect x="275" y="395" width="1" height="2" fill="#000"/>
<rect x="295" y="339" width="1" height="2" fill="#000"/>
<rect x="295" y="395" width="1" height="2" fill="#000"/>
<rect x="314" y="339" width="1" height="2" fill="#000"/>
<rect x="314" y="395" width="1" height="2" fill="#000"/>
<rect x="334" y="339" width="1" height="2" fill="#000"/>
<rect x="334" y="395" width="1" height="2" fill="#000"/>
<rect x="354" y="339" width="1" height="6" fill="#000"/>
<rect x="354" y="391" width="1" height="6" fill="#000"/>
<rect x="374" y="339" width="1" height="2" fill="#000"/>
<rect x="374" y="395" width="1" height="2" fill="#000"/>
<rect x="394" y="339" width="1" height="2" fill="#000"/>
<rect x="394" y="395" width="1" height="2" fill="#000"/>
<rect x="413" y="339" width="1" height="2" fill="#000"/>
<rect x="413" y="395" width="1" height="2" fill="#000"/>
<rect x="433" y="339" width="1" height="2" fill="#000"/>
<rect x="433" y="395" width="1" height="2" fill="#000"/>
<rect x="453" y="339" width="1" height="4" fill="#000"/>
<rect x="453" y="393" width="1" height="4" fill="#000"/>
<rect x="473" y="339" width="1" height="2" fill="#000"/>
<rect x="473" y="395" width="1" height="2" fill="#000"/>
<rect x="492" y="339" width="1" height="2" fill="#000"/>
<rect x="492" y="395" width="1" height="2" fill="#000"/>
<rect x="512" y="339" width="1" height="2" fill="#000"/>
<rect x="512" y="395" width="1" height="2" fill="#000"/>
<rect x="532" y="339" width="1" height="2" fill="#000"/>
<rect x="532" y="395" width="1" height="2" fill="#000"/>
<rect x="552" y="339" width="1" height="6" fill="#000"/>
<rect x="552" y="391" width="1" height="6" fill="#000"/>
<rect x="572" y="339" width="1" height="2" fill="#000"/>
<rect x="572" y="395" width="1" height="2" fill="#000"/>
<rect x="591" y="339" width="1" height="2" fill="#000"/>
<rect x="591" y="395" width="1" height="2" fill="#000"/>
<rect x="611" y="339" width="1" height="2" fill="#000"/>
<rect x="611" y="395" width="1" height="2" fill="#000"/>
<rect x="631" y="339" width="1" height="2" fill="#000"/>
<rect x="631" y="395" width="1" height="2" fill="#000"/>
<rect x="651" y="339" width="1" height="4" fill="#000"/>
<rect x="651" y="393" width="1" height="4" fill="#000"/>
<rect x="670" y="339" width="1" height="2" fill="#000"/>
<rect x="670" y="395" width="1" height="2" fill="#000"/>
<rect x="690" y="339" width="1" height="2" fill="#000"/>
<rect x="690" y="395" width="1" height="2" fill="#000"/>
<rect x="0" y="398" width="710" height="1" fill="#000"/>
<rect x="0" y="457" width="710" height="1" fill="#000"/>
<rect x="18" y="399" width="1" height="2" fill="#000"/>
<rect x="18" y="455" width="1" height="2" fill="#000"/>
<rect x="38" y="399" width="1" height="2" fill="#000"/>
<rect x="38" y="455" width="1" height="2" fill="#000"/>
<rect x="57" y="399" width="1" height="4" fill="#000"/>
<rect x="57" y="453" width="1" height="4" fill="#000"/>
<rect x="77" y="399" width="1" height="2" fill="#000"/>
<rect x="77" y="455" width="1" height="2" fill="#000"/>
<rect x="97" y="399" width="1" height="2" fill="#000"/>
<rect x="97" y="455" width="1" height="2" fill="#000"/>
<rect x="117" y="399" width="1" height="2" fill="#000"/>
<rect x="117" y="455" width="1" height="2" fill="#000"/>
<rect x="136" y="399" width="1" height="2" fill="#000"/>
<rect x="136" y="455" width="1" height="2" fill="#000"/>
<rect x="156" y="399" width="1" height="6" fill="#000"/>
<rect x="156" y="451" width="1" height="6" fill="#000"/>
<rect x="176" y="399" width="1" height="2" fill="#000"/>
<rect x="176" y="455" width="1" height="2" fill="#000"/>
<rect x="196" y="399" width="1" height="2" fill="#000"/>
<rect x="196" y="455" width="1" height="2" fill="#000"/>
<rect x="216" y="399" width="1" height="2" fill="#000"/>
<rect x="216" y="455" width="1" height="2" fill="#000"/>
<rect x="235" y="399" width="1" height="2" fill="#000"/>
<rect x="235" y="455" width="1" height="2" fill="#000"/>
<rect x="255" y="399" width="1" height="4" fill="#000"/>
<rect x="255" y="453" width="1" height="4" fill="#000"/>
<rect x="275" y="399" width="1" height="2" fill="#000"/>
<rect x="275" y="455" width="1" height="2" fill="#000"/>
<rect x="295" y="399" width="1" height="2" fill="#000"/>
<rect x="295" y="455" width="1" height="2" fill="#000"/>
<rect x="314" y="399" width="1" height="2" fill="#000"/>
<rect x="314" y="455" width="1" height="2" fill="#000"/>
<rect x="334" y="399" width="1" height="2" fill="#000"/>
<rect x="334" y="455" width="1" height="2" fill="#000"/>
<rect x="354" y="399" width="1" height="6" fill="#000"/>
<rect x="354" y="451" width="1" height="6" fill="#000"/>
<rect x="374" y="399" width="1" height="2" fill="#000"/>
<rect x="374" y="455" width="1" height="2" fill="#000"/>
<rect x="394" y="399" width="1" height="2" fill="#000"/>
<rect x="394" y="455" width="1" height="2" fill="#000"/>
<rect x="413" y="399" width="1" height="2" fill="#000"/>
<rect x="413" y="455" width="1" height="2" fill="#000"/>
<rect x="433" y="399" width="1" height="2" fill="#000"/>
<rect x="433" y="455" width="1" height="2" fill="#000"/>
<rect x="453" y="399" width="1" height="4" fill="#000"/>
<rect x="453" y="453" width="1" height="4" fill="#000"/>
<rect x="473" y="399" width="1" height="2" fill="#000"/>
<rect x="473" y="455" width="1" height="2" fill="#000"/>
<rect x="492" y="399" width="1" height="2" fill="#000"/>
<rect x="492" y="455" width="1" height="2" fill="#000"/>
<rect x="512" y="399" width="1" height="2" fill="#000"/>
<rect x="512" y="455" width="1" height="2" fill="#000"/>
<rect x="532" y="399" width="1" height="2" fill="#000"/>
<rect x="532" y="455" width="1" height="2" fill="#000"/>
<rect x="552" y="399" width="1" height="6" fill="#000"/>
<rect x="552" y="451" width="1" height="6" fill="#000"/>
<rect x="572" y="399" width="1" height="2" fill="#000"/>
<rect x="572" y="455" width="1" height="2" fill="#000"/>
<rect x="591" y="399" width="1" height="2" fill="#000"/>
<rect x="591" y="455" width="1" height="2" fill="#000"/>
<rect x="611" y="399" width="1" height="2" fill="#000"/>
<rect x="611" y="455" width="1" height="2" fill="#000"/>
<rect x="631" y="399" width="1" height="2" fill="#000"/>
<rect x="631" y="455" width="1" height="2" fill="#000"/>
<rect x="651" y="399" width="1" height="4" fill="#000"/>
<rect x="651" y="453" width="1" height="4" fill="#000"/>
<rect x="670" y="399" width="1" height="2" fill="#000"/>
<rect x="670" y="455" width="1" height="2" fill="#000"/>
<rect x="690" y="399" width="1" height="2" fill="#000"/>
<rect x="690" y="455" width="1" height="2" fill="#000"/>
<rect x="0" y="458" width="710" height="1" fill="#000"/>
<rect x="0" y="517" width="710" height="1" fill="#000"/>
<rect x="18" y="459" width="1" height="2" fill="#000"/>
<rect x="18" y="515" width="1" height="2" fill="#000"/>
<rect x="38" y="459" width="1" height="2" fill="#000"/>
<rect x="38" y="515" width="1" height="2" fill="#000"/>
<rect x="57" y="459" width="1" height="4" fill="#000"/>
<rect x="57" y="513" width="1" height="4" fill="#000"/>
<rect x="77" y="459" width="1" height="2" fill="#000"/>
<rect x="77" y="515" width="1" height="2" fill="#000"/>
<rect x="97" y="459" width="1" height="2" fill="#000"/>
<rect x="97" y="515" width="1" height="2" fill="#000"/>
<rect x="117" y="459" width="1" height="2" fill="#000"/>
<rect x="117" y="515" width="1" height="2" fill="#000"/>
<rect x="136" y="459" width="1" height="2" fill="#000"/>
<rect x="136" y="515" width="1" height="2" fill="#000"/>
<rect x="156" y="459" width="1" height="6" fill="#000"/>
<rect x="156" y="511" width="1" height="6" fill="#000"/>
<rect x="176" y="459" width="1" height="2" fill="#000"/>
<rect x="176" y="515" width="1" height="2" fill="#000"/>
<rect x="196" y="459" width="1" height="2" fill="#000"/>
<rect x="196" y="515" width="1" height="2" fill="#000"/>
<rect x="216" y="459" width="1" height="2" fill="#000"/>
<rect x="216" y="515" width="1" height="2" fill="#000"/>
<rect x="235" y="459" width="1" height="2" fill="#000"/>
<rect x="235" y="515" width="1" height="2" fill="#000"/>
<rect x="255" y="459" width="1" height="4" fill="#000"/>
<rect x="255" y="513" width="1" height="4" fill="#000"/>
<rect x="275" y="459" width="1" height="2" fill="#000"/>
<rect x="275" y="515" width="1" height="2" fill="#000"/>
<rect x="295" y="459" width="1" height="2" fill="#000"/>
<rect x="295" y="515" width="1" height="2" fill="#000"/>
<rect x="314" y="459" width="1" height="2" fill="#000"/>
<rect x="314" y="515" width="1" height="2" fill="#000"/>
<rect x="334" y="459" width="1" height="2" fill="#000"/>
<rect x="334" y="515" width="1" height="2" fill="#000"/>
<rect x="354" y="459" width="1" height="6" fill="#000"/>
<rect x="354" y="511" width="1" height="6" fill="#000"/>
<rect x="374" y="459" width="1" height="2" fill="#000"/>
<rect x="374" y="515" width="1" height="2" fill="#000"/>
<rect x="394" y="459" width="1" height="2" fill="#000"/>
<rect x="394" y="515" width="1" height="2" fill="#000"/>
<rect x="413" y="459" width="1" height="2" fill="#000"/>
<rect x="413" y="515" width="1" height="2" fill="#000"/>
<rect x="433" y="459" width="1" height="2" fill="#000"/>
<rect x="433" y="515" width="1" height="2" fill="#000"/>
<rect x="453" y="459" width="1" height="4" fill="#000"/>
<rect x="453" y="513" width="1" height="4" fill="#000"/>
<rect x="473" y="459" width="1" height="2" fill="#000"/>
<rect x="473" y="515" width="1" height="2" fill="#000"/>
<rect x="492" y="459" width="1" height="2" fill="#000"/>
<rect x="492" y="515" width="1" height="2" fill="#000"/>
<rect x="512" y="459" width="1" height="2" fill="#000"/>
<rect x="512" y="515" width="1" height="2" fill="#000"/>
<rect x="532" y="459" width="1" height="2" fill="#000"/>
<rect x="532" y="515" width="1" height="2" fill="#000"/>
<rect x="552" y="459" width="1" height="6" fill="#000"/>
<rect x="552" y="511" width="1" height="6" fill="#000"/>
<rect x="572" y="459" width="1" height="2" fill="#000"/>
<rect x="572" y="515" width="1" height="2" fill="#000"/>
<rect x="591" y="459" width="1" height="2" fill="#000"/>
<rect x="591" y="515" width="1" height="2" fill="#000"/>
<rect x="611" y="459" width="1" height="2" fill="#000"/>
<rect x="611" y="515" width="1" height="2" fill="#000"/>
<rect x="631" y="459" width="1" height="2" fill="#000"/>
<rect x="631" y="515" width="1" height="2" fill="#000"/>
<rect x="651" y="459" width="1" height="4" fill="#000"/>
<rect x="651" y="513" width="1" height="4" fill="#000"/>
<rect x="670" y="459" width="1" height="2" fill="#000"/>
<rect x="670" y="515" width="1" height="2" fill="#000"/>
<rect x="690" y="459" width="1" height="2" fill="#000"/>
<rect x="690" y="515" width="1" height="2" fill="#000"/>
<rect x="0" y="518" width="710" height="1" fill="#000"/>
<rect x="0" y="577" width="710" height="1" fill="#000"/>
<rect x="18" y="519" width="1" height="2" fill="#000"/>
<rect x="18" y="575" width="1" height="2" fill="#000"/>
<rect x="38" y="519" width="1" height="2" fill="#000"/>
<rect x="38" y="575" width="1" height="2" fill="#000"/>
<rect x="57" y="519" width="1" height="4" fill="#000"/>
<rect x="57" y="573" width="1" height="4" fill="#000"/>
<rect x="77" y="519" width="1" height="2" fill="#000"/>
<rect x="77" y="575" width="1" height="2" fill="#000"/>
<rect x="97" y="519" width="1" height="2" fill="#000"/>
<rect x="97" y="575" width="1" height="2" fill="#000"/>
<rect x="117" y="519" width="1" height="2" fill="#000"/>
<rect x="117" y="575" width="1" height="2" fill="#000"/>
<rect x="136" y="519" width="1" height="2" fill="#000"/>
<rect x="136" y="575" width="1" height="2" fill="#000"/>
<rect x="156" y="519" width="1" height="6" fill="#000"/>
<rect x="156" y="571" width="1" height="6" fill="#000"/>
<rect x="176" y="519" width="1" height="2" fill="#000"/>
<rect x="176" y="575" width="1" height="2" fill="#000"/>
<rect x="196" y="519" width="1" height="2" fill="#000"/>
<rect x="196" y="575" width="1" height="2" fill="#000"/>
<rect x="216" y="519" width="1" height="2" fill="#000"/>
<rect x="216" y="575" width="1" height="2" fill="#000"/>
<rect x="235" y="519" width="1" height="2" fill="#000"/>
<rect x="235" y="575" width="1" height="2" fill="#000"/>
<rect x="255" y="519" width="1" height="4" fill="#000"/>
<rect x="255" y="573" width="1" height="4" fill="#000"/>
<rect x="275" y="519" width="1" height="2" fill="#000"/>
<rect x="275" y="575" width="1" height="2" fill="#000"/>
<rect x="295" y="519" width="1" height="2" fill="#000"/>
<rect x="295" y="575" width="1" height="2" fill="#000"/>
<rect x="314" y="519" width="1" height="2" fill="#000"/>
<rect x="314" y="575" width="1" height="2" fill="#000"/>
<rect x="334" y="519" width="1" height="2" fill="#000"/>
<rect x="334" y="575" width="1" height="2" fill="#000"/>
<rect x="354" y="519" width="1" height="6" fill="#000"/>
<rect x="354" y="571" width="1" height="6" fill="#000"/>
<rect x="374" y="519" width="1" height="2" fill="#000"/>
<rect x="374" y="575" width="1" height="2" fill="#000"/>
<rect x="394" y="519" width="1" height="2" fill="#000"/>
<rect x="394" y="575" width="1" height="2" fill="#000"/>
<rect x="413" y="519" width="1" height="2" fill="#000"/>
<rect x="413" y="575" width="1" height="2" fill="#000"/>
<rect x="433" y="519" width="1" height="2" fill="#000"/>
<rect x="433" y="575" width="1" height="2" fill="#000"/>
<rect x="453" y="519" width="1" height="4" fill="#000"/>
<rect x="453" y="573" width="1" height="4" fill="#000"/>
<rect x="473" y="519" width="1" height="2" fill="#000"/>
<rect x="473" y="575" width="1" height="2" fill="#000"/>
<rect x="492" y="519" width="1" height="2" fill="#000"/>
<rect x="492" y="575" width="1" height="2" fill="#000"/>
<rect x="512" y="519" width="1" height="2" fill="#000"/>
<rect x="512" y="575" width="1" height="2" fill="#000"/>
<rect x="532" y="519" width="1" height="2" fill="#000"/>
<rect x="532" y="575" width="1" height="2" fill="#000"/>
<rect x="552" y="519" width="1" height="6" fill="#000"/>
<rect x="552" y="571" width="1" height="6" fill="#000"/>
<rect x="572" y="519" width="1" height="2" fill="#000"/>
<rect x="572" y="575" width="1" height="2" fill="#000"/>
<rect x="591" y="519" width="1" height="2" fill="#000"/>
<rect x="591" y="575" width="1" height="2" fill="#000"/>
<rect x="611" y="519" width="1" height="2" fill="#000"/>
<rect x="611" y="575" width="1" height="2" fill="#000"/>
<rect x="631" y="519" width="1" height="2" fill="#000"/>
<rect x="631" y="575" width="1" height="2" fill="#000"/>
<rect x="651" y="519" width="1" height="4" fill="#000"/>
<rect x="651" y="573" width="1" height="4" fill="#000"/>
<rect x="670" y="519" width="1" height="2" fill="#000"/>
<rect x="670" y="575" width="1" height="2" fill="#000"/>
<rect x="690" y="519" width="1" height="2" fill="#000"/>
<rect x="690" y="575" width="1" height="2" fill="#000"/>
<rect x="0" y="578" width="710" height="1" fill="#000"/>
<rect x="0" y="637" width="710" height="1" fill="#000"/>
<rect x="18" y="579" width="1" height="2" fill="#000"/>
<rect x="18" y="635" width="1" height="2" fill="#000"/>
<rect x="38" y="579" width="1" height="2" fill="#000"/>
<rect x="38" y="635" width="1" height="2" fill="#000"/>
<rect x="57" y="579" width="1" height="4" fill="#000"/>
<rect x="57" y="633" width="1" height="4" fill="#000"/>
<rect x="77" y="579" width="1" height="2" fill="#000"/>
<rect x="77" y="635" width="1" height="2" fill="#000"/>
<rect x="97" y="579" width="1" height="2" fill="#000"/>
<rect x="97" y="635" width="1" height="2" fill="#000"/>
<rect x="117" y="579" width="1" height="2" fill="#000"/>
<rect x="117" y="635" width="1" height="2" fill="#000"/>
<rect x="136" y="579" width="1" height="2" fill="#000"/>
<rect x="136" y="635" width="1" height="2" fill="#000"/>
<rect x="156" y="579" width="1" height="6" fill="#000"/>
<rect x="156" y="631" width="1" height="6" fill="#000"/>
<rect x="176" y="579" width="1" height="2" fill="#000"/>
<rect x="176" y="635" width="1" height="2" fill="#000"/>
<rect x="196" y="579" width="1" height="2" fill="#000"/>
<rect x="196" y="635" width="1" height="2" fill="#000"/>
<rect x="216" y="579" width="1" height="2" fill="#000"/>
<rect x="216" y="635" width="1" height="2" fill="#000"/>
<rect x="235" y="579" width="1" height="2" fill="#000"/>
<rect x="235" y="635" width="1" height="2" fill="#000"/>
<rect x="255" y="579" width="1" height="4" fill="#000"/>
<rect x="255" y="633" width="1" height="4" fill="#000"/>
<rect x="275" y="579" width="1" height="2" fill="#000"/>
<rect x="275" y="635" width="1" height="2" fill="#000"/>
<rect x="295" y="579" width="1" height="2" fill="#000"/>
<rect x="295" y="635" width="1" height="2" fill="#000"/>
<rect x="314" y="579" width="1" height="2" fill="#000"/>
<rect x="314" y="635" width="1" height="2" fill="#000"/>
<rect x="334" y="579" width="1" height="2" fill="#000"/>
<rect x="334" y="635" width="1" height="2" fill="#000"/>
<rect x="354" y="579" width="1" height="6" fill="#000"/>
<rect x="354" y="631" width="1" height="6" fill="#000"/>
<rect x="374" y="579" width="1" height="2" fill="#000"/>
<rect x="374" y="635" width="1" height="2" fill="#000"/>
<rect x="394" y="579" width="1" height="2" fill="#000"/>
<rect x="394" y="635" width="1" height="2" fill="#000"/>
<rect x="413" y="579" width="1" height="2" fill="#000"/>
<rect x="413" y="635" width="1" height="2" fill="#000"/>
<rect x="433" y="579" width="1" height="2" fill="#000"/>
<rect x="433" y="635" width="1" height="2" fill="#000"/>
<rect x="453" y="579" width="1" height="4" fill="#000"/>
<rect x="453" y="633" width="1" height="4" fill="#000"/>
<rect x="473" y="579" width="1" height="2" fill="#000"/>
<rect x="473" y="635" width="1" height="2" fill="#000"/>
<rect x="492" y="579" width="1" height="2" fill="#000"/>
<rect x="492" y="635" width="1" height="2" fill="#000"/>
<rect x="512" y="579" width="1" height="2" fill="#000"/>
<rect x="512" y="635" width="1" height="2" fill="#000"/>
<rect x="532" y="579" width="1" height="2" fill="#000"/>
<rect x="532" y="635" width="1" height="2" fill="#000"/>
<rect x="552" y="579" width="1" height="6" fill="#000"/>
<rect x="552" y="631" width="1" height="6" fill="#000"/>
<rect x="572" y="579" width="1" height="2" fill="#000"/>
<rect x="572" y="635" width="1" height="2" fill="#000"/>
<rect x="591" y="579" width="1" height="2" fill="#000"/>
<rect x="591" y="635" width="1" height="2" fill="#000"/>
<rect x="611" y="579" width="1" height="2" fill="#000"/>
<rect x="611" y="635" width="1" height="2" fill="#000"/>
<rect x="631" y="579" width="1" height="2" fill="#000"/>
<rect x="631" y="635" width="1" height="2" fill="#000"/>
<rect x="651" y="579" width="1" height="4" fill="#000"/>
<rect x="651" y="633" width="1" height="4" fill="#000"/>
<rect x="670" y="579" width="1" height="2" fill="#000"/>
<rect x="670" y="635" width="1" height="2" fill="#000"/>
<rect x="690" y="579" width="1" height="2" fill="#000"/>
<rect x="690" y="635" width="1" height="2" fill="#000"/>
<rect x="0" y="638" width="710" height="1" fill="#000"/>
<rect x="0" y="697" width="710" height="1" fill="#000"/>
<rect x="18" y="639" width="1" height="2" fill="#000"/>
<rect x="18" y="695" width="1" height="2" fill="#000"/>
<rect x="38" y="639" width="1" height="2" fill="#000"/>
<rect x="38" y="695" width="1" height="2" fill="#000"/>
<rect x="57" y="639" width="1" height="4" fill="#000"/>
<rect x="57" y="693" width="1" height="4" fill="#000"/>
<rect x="77" y="639" width="1" height="2" fill="#000"/>
<rect x="77" y="695" width="1" height="2" fill="#000"/>
<rect x="97" y="639" width="1" height="2" fill="#000"/>
<rect x="97" y="695" width="1" height="2" fill="#000"/>
<rect x="117" y="639" width="1" height="2" fill="#000"/>
<rect x="117" y="695" width="1" height="2" fill="#000"/>
<rect x="136" y="639" width="1" height="2" fill="#000"/>
<rect x="136" y="695" width="1" height="2" fill="#000"/>
<rect x="156" y="639" width="1" height="6" fill="#000"/>
<rect x="156" y="691" width="1" height="6" fill="#000"/>
<rect x="176" y="639" width="1" height="2" fill="#000"/>
<rect x="176" y="695" width="1" height="2" fill="#000"/>
<rect x="196" y="639" width="1" height="2" fill="#000"/>
<rect x="196" y="695" width="1" height="2" fill="#000"/>
<rect x="216" y="639" width="1" height="2" fill="#000"/>
<rect x="216" y="695" width="1" height="2" fill="#000"/>
<rect x="235" y="639" width="1" height="2" fill="#000"/>
<rect x="235" y="695" width="1" height="2" fill="#000"/>
<rect x="255" y="639" width="1" height="4" fill="#000"/>
<rect x="255" y="693" width="1" height="4" fill="#000"/>
<rect x="275" y="639" width="1" height="2" fill="#000"/>
<rect x="275" y="695" width="1" height="2" fill="#000"/>
<rect x="295" y="639" width="1" height="2" fill="#000"/>
<rect x="295" y="695" width="1" height="2" fill="#000"/>
<rect x="314" y="639" width="1" height="2" fill="#000"/>
<rect x="314" y="695" width="1" height="2" fill="#000"/>
<rect x="334" y="639" width="1" height="2" fill="#000"/>
<rect x="334" y="695" width="1" height="2" fill="#000"/>
<rect x="354" y="639" width="1" height="6" fill="#000"/>
<rect x="354" y="691" width="1" height="6" fill="#000"/>
<rect x="374" y="639" width="1" height="2" fill="#000"/>
<rect x="374" y="695" width="1" height="2" fill="#000"/>
<rect x="394" y="639" width="1" height="2" fill="#000"/>
<rect x="394" y="695" width="1" height="2" fill="#000"/>
<rect x="413" y="639" width="1" height="2" fill="#000"/>
<rect x="413" y="695" width="1" height="2" fill="#000"/>
<rect x="433" y="639" width="1" height="2" fill="#000"/>
<rect x="433" y="695" width="1" height="2" fill="#000"/>
<rect x="453" y="639" width="1" height="4" fill="#000"/>
<rect x="453" y="693" width="1" height="4" fill="#000"/>
<rect x="473" y="639" width="1" height="2" fill="#000"/>
<rect x="473" y="695" width="1" height="2" fill="#000"/>
<rect x="492" y="639" width="1" height="2" fill="#000"/>
<rect x="492" y="695" width="1" height="2" fill="#000"/>
<rect x="512" y="639" width="1" height="2" fill="#000"/>
<rect x="512" y="695" width="1" height="2" fill="#000"/>
<rect x="532" y="639" width="1" height="2" fill="#000"/>
<rect x="532" y="695" width="1" height="2" fill="#000"/>
<rect x="552" y="639" width="1" height="6" fill="#000"/>
<rect x="552" y="691" width="1" height="6" fill="#000"/>
<rect x="572" y="639" width="1" height="2" fill="#000"/>
<rect x="572" y="695" width="1" height="2" fill="#000"/>
<rect x="591" y="639" width="1" height="2" fill="#000"/>
<rect x="591" y="695" width="1" height="2" fill="#000"/>
<rect x="611" y="639" width="1" height="2" fill="#000"/>
<rect x="611" y="695" width="1" height="2" fill="#000"/>
<rect x="631" y="639" width="1" height="2" fill="#000"/>
<rect x="631" y="695" width="1" height="2" fill="#000"/>
<rect x="651" y="639" width="1" height="4" fill="#000"/>
<rect x="651" y="693" width="1" height="4" fill="#000"/>
<rect x="670" y="639" width="1" height="2" fill="#000"/>
<rect x="670" y="695" width="1" height="2" fill="#000"/>
<rect x="690" y="639" width="1" height="2" fill="#000"/>
<rect x="690" y="695" width="1" height="2" fill="#000"/>
<rect x="0" y="698" width="710" height="1" fill="#000"/>
<rect x="0" y="757" width="710" height="1" fill="#000"/>
<rect x="18" y="699" width="1" height="2" fill="#000"/>
<rect x="18" y="755" width="1" height="2" fill="#000"/>
<rect x="38" y="699" width="1" height="2" fill="#000"/>
<rect x="38" y="755" width="1" height="2" fill="#000"/>
<rect x="57" y="699" width="1" height="4" fill="#000"/>
<rect x="57" y="753" width="1" height="4" fill="#000"/>
<rect x="77" y="699" width="1" height="2" fill="#000"/>
<rect x="77" y="755" width="1" height="2" fill="#000"/>
<rect x="97" y="699" width="1" height="2" fill="#000"/>
<rect x="97" y="755" width="1" height="2" fill="#000"/>
<rect x="117" y="699" width="1" height="2" fill="#000"/>
<rect x="117" y="755" width="1" height="2" fill="#000"/>
<rect x="136" y="699" width="1" height="2" fill="#000"/>
<rect x="136" y="755" width="1" height="2" fill="#000"/>
<rect x="156" y="699" width="1" height="6" fill="#000"/>
<rect x="156" y="751" width="1" height="6" fill="#000"/>
<rect x="176" y="699" width="1" height="2" fill="#000"/>
<rect x="176" y="755" width="1" height="2" fill="#000"/>
<rect x="196" y="699" width="1" height="2" fill="#000"/>
<rect x="196" y="755" width="1" height="2" fill="#000"/>
<rect x="216" y="699" width="1" height="2" fill="#000"/>
<rect x="216" y="755" width="1" height="2" fill="#000"/>
<rect x="235" y="699" width="1" height="2" fill="#000"/>
<rect x="235" y="755" width="1" height="2" fill="#000"/>
<rect x="255" y="699" width="1" height="4" fill="#000"/>
<rect x="255" y="753" width="1" height="4" fill="#000"/>
<rect x="275" y="699" width="1" height="2" fill="#000"/>
<rect x="275" y="755" width="1" height="2" fill="#000"/>
<rect x="295" y="699" width="1" height="2" fill="#000"/>
<rect x="295" y="755" width="1" height="2" fill="#000"/>
<rect x="314" y="699" width="1" height="2" fill="#000"/>
<rect x="314" y="755" width="1" height="2" fill="#000"/>
<rect x="334" y="699" width="1" height="2" fill="#000"/>
<rect x="334" y="755" width="1" height="2" fill="#000"/>
<rect x="354" y="699" width="1" height="6" fill="#000"/>
<rect x="354" y="751" width="1" height="6" fill="#000"/>
<rect x="374" y="699" width="1" height="2" fill="#000"/>
<rect x="374" y="755" width="1" height="2" fill="#000"/>
<rect x="394" y="699" width="1" height="2" fill="#000"/>
<rect x="394" y="755" width="1" height="2" fill="#000"/>
<rect x="413" y="699" width="1" height="2" fill="#000"/>
<rect x="413" y="755" width="1" height="2" fill="#000"/>
<rect x="433" y="699" width="1" height="2" fill="#000"/>
<rect x="433" y="755" width="1" height="2" fill="#000"/>
<rect x="453" y="699" width="1" height="4" fill="#000"/>
<rect x="453" y="753" width="1" height="4" fill="#000"/>
<rect x="473" y="699" width="1" height="2" fill="#000"/>
<rect x="473" y="755" width="1" height="2" fill="#000"/>
<rect x="492" y="699" width="1" height="2" fill="#000"/>
<rect x="492" y="755" width="1" height="2" fill="#000"/>
<rect x="512" y="699" width="1" height="2" fill="#000"/>
<rect x="512" y="755" width="1" height="2" fill="#000"/>
<rect x="532" y="699" width="1" height="2" fill="#000"/>
<rect x="532" y="755" width="1" height="2" fill="#000"/>
<rect x="552" y="699" width="1" height="6" fill="#000"/>
<rect x="552" y="751" width="1" height="6" fill="#000"/>
<rect x="572" y="699" width="1" height="2" fill="#000"/>
<rect x="572" y="755" width="1" height="2" fill="#000"/>
<rect x="591" y="699" width="1" height="2" fill="#000"/>
<rect x="591" y="755" width="1" height="2" fill="#000"/>
<rect x="611" y="699" width="1" height="2" fill="#000"/>
<rect x="611" y="755" width="1" height="2" fill="#000"/>
<rect x="631" y="699" width="1" height="2" fill="#000"/>
<rect x="631" y="755" width="1" height="2" fill="#000"/>
<rect x="651" y="699" width="1" height="4" fill="#000"/>
<rect x="651" y="753" width="1" height="4" fill="#000"/>
<rect x="670" y="699" width="1" height="2" fill="#000"/>
<rect x="670" y="755" width="1" height="2" fill="#000"/>
<rect x="690" y="699" width="1" height="2" fill="#000"/>
<rect x="690" y="755" width="1" height="2" fill="#000"/>
<rect x="0" y="758" width="710" height="1" fill="#000"/>
<rect x="0" y="817" width="710" height="1" fill="#000"/>
<rect x="18" y="759" width="1" height="2" fill="#000"/>
<rect x="18" y="815" width="1" height="2" fill="#000"/>
<rect x="38" y="759" width="1" height="2" fill="#000"/>
<rect x="38" y="815" width="1" height="2" fill="#000"/>
<rect x="57" y="759" width="1" height="4" fill="#000"/>
<rect x="57" y="813" width="1" height="4" fill="#000"/>
<rect x="77" y="759" width="1" height="2" fill="#000"/>
<rect x="77" y="815" width="1" height="2" fill="#000"/>
<rect x="97" y="759" width="1" height="2" fill="#000"/>
<rect x="97" y="815" width="1" height="2" fill="#000"/>
<rect x="117" y="759" width="1" height="2" fill="#000"/>
<rect x="117" y="815" width="1" height="2" fill="#000"/>
<rect x="136" y="759" width="1" height="2" fill="#000"/>
<rect x="136" y="815" width="1" height="2" fill="#000"/>
<rect x="156" y="759" width="1" height="6" fill="#000"/>
<rect x="156" y="811" width="1" height="6" fill="#000"/>
<rect x="176" y="759" width="1" height="2" fill="#000"/>
<rect x="176" y="815" width="1" height="2" fill="#000"/>
<rect x="196" y="759" width="1" height="2" fill="#000"/>
<rect x="196" y="815" width="1" height="2" fill="#000"/>
<rect x="216" y="759" width="1" height="2" fill="#000"/>
<rect x="216" y="815" width="1" height="2" fill="#000"/>
<rect x="235" y="759" width="1" height="2" fill="#000"/>
<rect x="235" y="815" width="1" height="2" fill="#000"/>
<rect x="255" y="759" width="1" height="4" fill="#000"/>
<rect x="255" y="813" width="1" height="4" fill="#000"/>
<rect x="275" y="759" width="1" height="2" fill="#000"/>
<rect x="275" y="815" width="1" height="2" fill="#000"/>
<rect x="295" y="759" width="1" height="2" fill="#000"/>
<rect x="295" y="815" width="1" height="2" fill="#000"/>
<rect x="314" y="759" width="1" height="2" fill="#000"/>
<rect x="314" y="815" width="1" height="2" fill="#000"/>
<rect x="334" y="759" width="1" height="2" fill="#000"/>
<rect x="334" y="815" width="1" height="2" fill="#000"/>
<rect x="354" y="759" width="1" height="6" fill="#000"/>
<rect x="354" y="811" width="1" height="6" fill="#000"/>
<rect x="374" y="759" width="1" height="2" fill="#000"/>
<rect x="374" y="815" width="1" height="2" fill="#000"/>
<rect x="394" y="759" width="1" height="2" fill="#000"/>
<rect x="394" y="815" width="1" height="2" fill="#000"/>
<rect x="413" y="759" width="1" height="2" fill="#000"/>
<rect x="413" y="815" width="1" height="2" fill="#000"/>
<rect x="433" y="759" width="1" height="2" fill="#000"/>
<rect x="433" y="815" width="1" height="2" fill="#000"/>
<rect x="453" y="759" width="1" height="4" fill="#000"/>
<rect x="453" y="813" width="1" height="4" fill="#000"/>
<rect x="473" y="759" width="1" height="2" fill="#000"/>
<rect x="473" y="815" width="1" height="2" fill="#000"/>
<rect x="492" y="759" width="1" height="2" fill="#000"/>
<rect x="492" y="815" width="1" height="2" fill="#000"/>
<rect x="512" y="759" width="1" height="2" fill="#000"/>
<rect x="512" y="815" width="1" height="2" fill="#000"/>
<rect x="532" y="759" width="1" height="2" fill="#000"/>
<rect x="532" y="815" width="1" height="2" fill="#000"/>
<rect x="552" y="759" width="1" height="6" fill="#000"/>
<rect x="552" y="811" width="1" height="6" fill="#000"/>
<rect x="572" y="759" width="1" height="2" fill="#000"/>
<rect x="572" y="815" width="1" height="2" fill="#000"/>
<rect x="591" y="759" width="1" height="2" fill="#000"/>
<rect x="591" y="815" width="1" height="2" fill="#000"/>
<rect x="611" y="759" width="1" height="2" fill="#000"/>
<rect x="611" y="815" width="1" height="2" fill="#000"/>
<rect x="631" y="759" width="1" height="2" fill="#000"/>
<rect x="631" y="815" width="1" height="2" fill="#000"/>
<rect x="651" y="759" width="1" height="4" fill="#000"/>
<rect x="651" y="813" width="1" height="4" fill="#000"/>
<rect x="670" y="759" width="1" height="2" fill="#000"/>
<rect x="670" y="815" width="1" height="2" fill="#000"/>
<rect x="690" y="759" width="1" height="2" fill="#000"/>
<rect x="690" y="815" width="1" height="2" fill="#000"/>
<rect x="0" y="818" width="710" height="1" fill="#000"/>
<rect x="0" y="877" width="710" height="1" fill="#000"/>
<rect x="18" y="819" width="1" height="2" fill="#000"/>
<rect x="18" y="875" width="1" height="2" fill="#000"/>
<rect x="38" y="819" width="1" height="2" fill="#000"/>
<rect x="38" y="875" width="1" height="2" fill="#000"/>
<rect x="57" y="819" width="1" height="4" fill="#000"/>
<rect x="57" y="873" width="1" height="4" fill="#000"/>
<rect x="77" y="819" width="1" height="2" fill="#000"/>
<rect x="77" y="875" width="1" height="2" fill="#000"/>
<rect x="97" y="819" width="1" height="2" fill="#000"/>
<rect x="97" y="875" width="1" height="2" fill="#000"/>
<rect x="117" y="819" width="1" height="2" fill="#000"/>
<rect x="117" y="875" width="1" height="2" fill="#000"/>
<rect x="136" y="819" width="1" height="2" fill="#000"/>
<rect x="136" y="875" width="1" height="2" fill="#000"/>
<rect x="156" y="819" width="1" height="6" fill="#000"/>
<rect x="156" y="871" width="1" height="6" fill="#000"/>
<rect x="176" y="819" width="1" height="2" fill="#000"/>
<rect x="176" y="875" width="1" height="2" fill="#000"/>
<rect x="196" y="819" width="1" height="2" fill="#000"/>
<rect x="196" y="875" width="1" height="2" fill="#000"/>
<rect x="216" y="819" width="1" height="2" fill="#000"/>
<rect x="216" y="875" width="1" height="2" fill="#000"/>
<rect x="235" y="819" width="1" height="2" fill="#000"/>
<rect x="235" y="875" width="1" height="2" fill="#000"/>
<rect x="255" y="819" width="1" height="4" fill="#000"/>
<rect x="255" y="873" width="1" height="4" fill="#000"/>
<rect x="275" y="819" width="1" height="2" fill="#000"/>
<rect x="275" y="875" width="1" height="2" fill="#000"/>
<rect x="295" y="819" width="1" height="2" fill="#000"/>
<rect x="295" y="875" width="1" height="2" fill="#000"/>
<rect x="314" y="819" width="1" height="2" fill="#000"/>
<rect x="314" y="875" width="1" height="2" fill="#000"/>
<rect x="334" y="819" width="1" height="2" fill="#000"/>
<rect x="334" y="875" width="1" height="2" fill="#000"/>
<rect x="354" y="819" width="1" height="6" fill="#000"/>
<rect x="354" y="871" width="1" height="6" fill="#000"/>
<rect x="374" y="819" width="1" height="2" fill="#000"/>
<rect x="374" y="875" width="1" height="2" fill="#000"/>
<rect x="394" y="819" width="1" height="2" fill="#000"/>
<rect x="394" y="875" width="1" height="2" fill="#000"/>
<rect x="413" y="819" width="1" height="2" fill="#000"/>
<rect x="413" y="875" width="1" height="2" fill="#000"/>
<rect x="433" y="819" width="1" height="2" fill="#000"/>
<rect x="433" y="875" width="1" height="2" fill="#000"/>
<rect x="453" y="819" width="1" height="4" fill="#000"/>
<rect x="453" y="873" width="1" height="4" fill="#000"/>
<rect x="473" y="819" width="1" height="2" fill="#000"/>
<rect x="473" y="875" width="1" height="2" fill="#000"/>
<rect x="492" y="819" width="1" height="2" fill="#000"/>
<rect x="492" y="875" width="1" height="2" fill="#000"/>
<rect x="512" y="819" width="1" height="2" fill="#000"/>
<rect x="512" y="875" width="1" height="2" fill="#000"/>
<rect x="532" y="819" width="1" height="2" fill="#000"/>
<rect x="532" y="875" width="1" height="2" fill="#000"/>
<rect x="552" y="819" width="1" height="6" fill="#000"/>
<rect x="552" y="871" width="1" height="6" fill="#000"/>
<rect x="572" y="819" width="1" height="2" fill="#000"/>
<rect x="572" y="875" width="1" height="2" fill="#000"/>
<rect x="591" y="819" width="1" height="2" fill="#000"/>
<rect x="591" y="875" width="1" height="2" fill="#000"/>
<rect x="611" y="819" width="1" height="2" fill="#000"/>
<rect x="611" y="875" width="1" height="2" fill="#000"/>
<rect x="631" y="819" width="1" height="2" fill="#000"/>
<rect x="631" y="875" width="1" height="2" fill="#000"/>
<rect x="651" y="819" width="1" height="4" fill="#000"/>
<rect x="651" y="873" width="1" height="4" fill="#000"/>
<rect x="670" y="819" width="1" height="2" fill="#000"/>
<rect x="670" y="875" width="1" height="2" fill="#000"/>
<rect x="690" y="819" width="1" height="2" fill="#000"/>
<rect x="690" y="875" width="1" height="2" fill="#000"/>
<rect x="0" y="878" width="710" height="1" fill="#000"/>
<rect x="0" y="937" width="710" height="1" fill="#000"/>
<rect x="18" y="879" width="1" height="2" fill="#000"/>
<rect x="18" y="935" width="1" height="2" fill="#000"/>
<rect x="38" y="879" width="1" height="2" fill="#000"/>
<rect x="38" y="935" width="1" height="2" fill="#000"/>
<rect x="57" y="879" width="1" height="4" fill="#000"/>
<rect x="57" y="933" width="1" height="4" fill="#000"/>
<rect x="77" y="879" width="1" height="2" fill="#000"/>
<rect x="77" y="935" width="1" height="2" fill="#000"/>
<rect x="97" y="879" width="1" height="2" fill="#000"/>
<rect x="97" y="935" width="1" height="2" fill="#000"/>
<rect x="117" y="879" width="1" height="2" fill="#000"/>
<rect x="117" y="935" width="1" height="2" fill="#000"/>
<rect x="136" y="879" width="1" height="2" fill="#000"/>
<rect x="136" y="935" width="1" height="2" fill="#000"/>
<rect x="156" y="879" width="1" height="6" fill="#000"/>
<rect x="156" y="931" width="1" height="6" fill="#000"/>
<rect x="176" y="879" width="1" height="2" fill="#000"/>
<rect x="176" y="935" width="1" height="2" fill="#000"/>
<rect x="196" y="879" width="1" height="2" fill="#000"/>
<rect x="196" y="935" width="1" height="2" fill="#000"/>
<rect x="216" y="879" width="1" height="2" fill="#000"/>
<rect x="216" y="935" width="1" height="2" fill="#000"/>
<rect x="235" y="879" width="1" height="2" fill="#000"/>
<rect x="235" y="935" width="1" height="2" fill="#000"/>
<rect x="255" y="879" width="1" height="4" fill="#000"/>
<rect x="255" y="933" width="1" height="4" fill="#000"/>
<rect x="275" y="879" width="1" height="2" fill="#000"/>
<rect x="275" y="935" width="1" height="2" fill="#000"/>
<rect x="295" y="879" width="1" height="2" fill="#000"/>
<rect x="295" y="935" width="1" height="2" fill="#000"/>
<rect x="314" y="879" width="1" height="2" fill="#000"/>
<rect x="314" y="935" width="1" height="2" fill="#000"/>
<rect x="334" y="879" width="1" height="2" fill="#000"/>
<rect x="334" y="935" width="1" height="2" fill="#000"/>
<rect x="354" y="879" width="1" height="6" fill="#000"/>
<rect x="354" y="931" width="1" height="6" fill="#000"/>
<rect x="374" y="879" width="1" height="2" fill="#000"/>
<rect x="374" y="935" width="1" height="2" fill="#000"/>
<rect x="394" y="879" width="1" height="2" fill="#000"/>
<rect x="394" y="935" width="1" height="2" fill="#000"/>
<rect x="413" y="879" width="1" height="2" fill="#000"/>
<rect x="413" y="935" width="1" height="2" fill="#000"/>
<rect x="433" y="879" width="1" height="2" fill="#000"/>
<rect x="433" y="935" width="1" height="2" fill="#000"/>
<rect x="453" y="879" width="1" height="4" fill="#000"/>
<rect x="453" y="933" width="1" height="4" fill="#000"/>
<rect x="473" y="879" width="1" height="2" fill="#000"/>
<rect x="473" y="935" width="1" height="2" fill="#000"/>
<rect x="492" y="879" width="1" height="2" fill="#000"/>
<rect x="492" y="935" width="1" height="2" fill="#000"/>
<rect x="512" y="879" width="1" height="2" fill="#000"/>
<rect x="512" y="935" width="1" height="2" fill="#000"/>
<rect x="532" y="879" width="1" height="2" fill="#000"/>
<rect x="532" y="935" width="1" height="2" fill="#000"/>
<rect x="552" y="879" width="1" height="6" fill="#000"/>
<rect x="552" y="931" width="1" height="6" fill="#000"/>
<rect x="572" y="879" width="1" height="2" fill="#000"/>
<rect x="572" y="935" width="1" height="2" fill="#000"/>
<rect x="591" y="879" width="1" height="2" fill="#000"/>
<rect x="591" y="935" width="1" height="2" fill="#000"/>
<rect x="611" y="879" width="1" height="2" fill="#000"/>
<rect x="611" y="935" width="1" height="2" fill="#000"/>
<rect x="631" y="879" width="1" height="2" fill="#000"/>
<rect x="631" y="935" width="1" height="2" fill="#000"/>
<rect x="651" y="879" width="1" height="4" fill="#000"/>
<rect x="651" y="933" width="1" height="4" fill="#000"/>
<rect x="670" y="879" width="1" height="2" fill="#000"/>
<rect x="670" y="935" width="1" height="2" fill="#000"/>
<rect x="690" y="879" width="1" height="2" fill="#000"/>
<rect x="690" y="935" width="1" height="2" fill="#000"/>
<rect x="0" y="38" width="1" height="900" fill="#000"/>
<rect x="709" y="38" width="1" height="900" fill="#000"/>
<polyline fill="none" stroke="#000" stroke-width="1" shape-rendering="crispEdges" points="214.5,49.5 217.5,53.0 220.5,57.5 223.5,61.0 226.5,64.0 230.5,66.5 234.5,68.1"/>
<polyline fill="none" stroke="#ff0000" stroke-width="1" shape-rendering="crispEdges" points="234.5,68.1 240.5,69.5 250.5,70.5 262.5,71.1 274.5,72.5"/>
<rect x="249" y="63" width="3" height="17" rx="1" fill="#ff0000"/>
<rect x="248" y="56" width="5" height="1" fill="#ff0000"/><rect x="250" y="54" width="1" height="5" fill="#ff0000"/>
<rect x="194" y="38" width="1" height="60" fill="#ff0000"/>
<rect x="167" y="38" width="28" height="10" fill="#ff0000"/>
<text x="169" y="46" class="pk">iPd0</text>
<rect x="228" y="98" width="1" height="60" fill="#ff0000"/>
<rect x="201" y="98" width="28" height="10" fill="#ff0000"/>
<text x="203" y="106" class="pk">iS 1</text>
<polyline fill="none" stroke="#000" stroke-width="1" shape-rendering="crispEdges" points="240.1,159.5 243.5,164.5 246.5,169.5 253.0,175.0 262.1,177.7 273.1,180.1 274.5,180.5"/>
<polyline fill="none" stroke="#ff0000" stroke-width="1" shape-rendering="crispEdges" points="274.5,180.5 306.1,183.2 326.0,183.9 326.5,185.0 345.5,185.1 346.0,186.0 356.5,186.0"/>
<rect x="336" y="177" width="3" height="15" rx="1" fill="#ff0000"/>
<rect x="334" y="170" width="3" height="1" fill="#ff0000"/>
<rect x="337" y="159" width="1" height="58" fill="#ff0000"/>
<rect x="217" y="158" width="1" height="60" fill="#ff0000"/>
<rect x="190" y="158" width="28" height="10" fill="#ff0000"/>
<text x="192" y="166" class="pk">iPc0</text>
<rect x="274" y="158" width="1" height="60" fill="#ff0000"/>
<rect x="247" y="158" width="28" height="10" fill="#ff0000"/>
<text x="249" y="166" class="pk">eS 2</text>
<polyline fill="none" stroke="#000" stroke-width="1" shape-rendering="crispEdges" points="274.5,219.0 280.5,223.5 285.5,227.5 290.5,230.9 297.5,233.5 305.5,236.0 314.5,237.9"/>
<polyline fill="none" stroke="#ff0000" stroke-width="1" shape-rendering="crispEdges" points="314.5,237.9 330.0,241.0 343.2,242.1 361.8,242.1 382.0,243.3 392.0,243.8"/>
<rect x="361" y="235" width="3" height="16" rx="1" fill="#ff0000"/>
<rect x="359" y="228" width="3" height="1" fill="#ff0000"/>
<rect x="362" y="219" width="1" height="58" fill="#ff0000"/>
<rect x="233" y="218" width="1" height="60" fill="#ff0000"/>
<rect x="206" y="218" width="28" height="10" fill="#ff0000"/>
<text x="208" y="226" class="pk">iPd0</text>
<polyline fill="none" stroke="#000" stroke-width="1" shape-rendering="crispEdges" points="284.3,279.5 287.5,283.5 290.5,287.0 300.5,292.0 310.5,295.0 319.2,297.1"/>
<polyline fill="none" stroke="#ff0000" stroke-width="1" shape-rendering="crispEdges" points="319.2,297.1 335.5,301.0 357.2,303.0"/>
<rect x="329" y="292" width="3" height="15" rx="1" fill="#ff0000"/>
<rect x="328" y="284" width="5" height="1" fill="#ff0000"/><rect x="330" y="282" width="1" height="5" fill="#ff0000"/>
<rect x="330" y="279" width="1" height="58" fill="#ff0000"/>
<rect x="238" y="278" width="1" height="60" fill="#ff0000"/>
<rect x="211" y="278" width="28" height="10" fill="#ff0000"/>
<text x="213" y="286" class="pk">iPc1</text>
<polyline fill="none" stroke="#000" stroke-width="1" shape-rendering="crispEdges" points="280.1,339.5 285.5,344.5 290.5,351.7 300.5,357.0 310.7,361.0"/>
<polyline fill="none" stroke="#ff0000" stroke-width="1" shape-rendering="crispEdges" points="311.5,361.2 323.1,364.1 337.0,366.1 349.5,367.2 360.3,367.6"/>
<rect x="337" y="359" width="3" height="15" rx="1" fill="#ff0000"/>
<rect x="336" y="351" width="5" height="1" fill="#ff0000"/><rect x="338" y="349" width="1" height="5" fill="#ff0000"/>
<rect x="338" y="339" width="1" height="58" fill="#ff0000"/>
<rect x="240" y="338" width="1" height="60" fill="#ff0000"/>
<rect x="213" y="338" width="28" height="10" fill="#ff0000"/>
<text x="215" y="346" class="pk">iPd0</text>
<rect x="311" y="338" width="1" height="60" fill="#ff0000"/>
<rect x="284" y="338" width="28" height="10" fill="#ff0000"/>
<text x="286" y="346" class="pk">eS 2</text>
<polyline fill="none" stroke="#000" stroke-width="1" shape-rendering="crispEdges" points="270.2,399.9 272.3,407.0 275.5,411.5 279.4,415.5 286.5,423.1 293.5,426.7 300.5,428.1 316.9,431.1"/>
<polyline fill="none" stroke="#ff0000" stroke-width="1" shape-rendering="crispEdges" points="316.9,431.1 326.2,432.3 337.0,433.4 351.0,434.5 361.8,434.9"/>
<rect x="338" y="426" width="3" height="15" rx="1" fill="#ff0000"/>
<rect x="337" y="418" width="5" height="1" fill="#ff0000"/><rect x="339" y="416" width="1" height="5" fill="#ff0000"/>
<rect x="339" y="399" width="1" height="58" fill="#ff0000"/>
<rect x="242" y="398" width="1" height="60" fill="#ff0000"/>
<rect x="215" y="398" width="28" height="10" fill="#ff0000"/>
<text x="217" y="406" class="pk">iPd1</text>
<polyline fill="none" stroke="#000" stroke-width="1" shape-rendering="crispEdges" points="301.5,459.5 306.5,462.5 312.5,466.0 320.5,469.5 329.5,471.7"/>
<polyline fill="none" stroke="#ff0000" stroke-width="1" shape-rendering="crispEdges" points="329.5,471.7 340.5,474.8 352.1,476.8 363.8,477.9 382.4,479.5 393.2,480.2 408.7,481.0"/>
<rect x="389" y="472" width="3" height="15" rx="1" fill="#ff0000"/>
<rect x="387" y="465" width="3" height="1" fill="#ff0000"/>
<rect x="390" y="459" width="1" height="58" fill="#ff0000"/>
<rect x="248" y="458" width="1" height="60" fill="#ff0000"/>
<rect x="221" y="458" width="28" height="10" fill="#ff0000"/>
<text x="223" y="466" class="pk">iP 1</text>
<rect x="326" y="518" width="1" height="60" fill="#ff0000"/>
<rect x="299" y="518" width="28" height="10" fill="#ff0000"/>
<text x="301" y="526" class="pk">iS 1</text>
<polyline fill="none" stroke="#000" stroke-width="1" shape-rendering="crispEdges" points="282.4,579.5 286.5,583.0 291.7,586.3 299.5,590.1 308.7,593.2 321.1,595.2 327.3,595.5"/>
<polyline fill="none" stroke="#ff0000" stroke-width="1" shape-rendering="crispEdges" points="327.3,595.5 347.5,597.9 367.5,597.9"/>
<rect x="347" y="590" width="3" height="16" rx="1" fill="#ff0000"/>
<rect x="346" y="582" width="5" height="1" fill="#ff0000"/><rect x="348" y="580" width="1" height="5" fill="#ff0000"/>
<rect x="348" y="579" width="1" height="58" fill="#ff0000"/>
<rect x="247" y="578" width="1" height="60" fill="#ff0000"/>
<rect x="220" y="578" width="28" height="10" fill="#ff0000"/>
<text x="222" y="586" class="pk">iP 1</text>
<rect x="321" y="638" width="1" height="60" fill="#ff0000"/>
<rect x="294" y="638" width="28" height="10" fill="#ff0000"/>
<text x="296" y="646" class="pk">eS 2</text>
<polyline fill="none" stroke="#000" stroke-width="1" shape-rendering="crispEdges" points="321.9,699.5 326.5,704.0 333.5,709.4 341.3,713.2 350.5,715.5 369.2,720.2"/>
<polyline fill="none" stroke="#ff0000" stroke-width="1" shape-rendering="crispEdges" points="369.2,720.2 379.3,721.8 382.4,722.8 399.4,723.8 411.8,724.9"/>
<rect x="386" y="715" width="3" height="16" rx="1" fill="#ff0000"/>
<rect x="385" y="707" width="5" height="1" fill="#ff0000"/><rect x="387" y="705" width="1" height="5" fill="#ff0000"/>
<rect x="387" y="699" width="1" height="58" fill="#ff0000"/>
<rect x="272" y="698" width="1" height="60" fill="#ff0000"/>
<rect x="245" y="698" width="28" height="10" fill="#ff0000"/>
<text x="247" y="706" class="pk">iP 1</text>
<rect x="359" y="698" width="1" height="60" fill="#ff0000"/>
<rect x="332" y="698" width="28" height="10" fill="#ff0000"/>
<text x="334" y="706" class="pk">iS 1</text>
<polyline fill="none" stroke="#000" stroke-width="1" shape-rendering="crispEdges" points="361.6,759.5 366.5,763.5 370.5,766.3 381.4,771.7 393.8,775.5 406.2,777.9 417.0,780.5"/>
<polyline fill="none" stroke="#ff0000" stroke-width="1" shape-rendering="crispEdges" points="417.0,780.5 424.8,781.5 432.5,782.5 443.4,783.3 451.1,783.8 457.3,784.9"/>
<rect x="442" y="776" width="3" height="15" rx="1" fill="#ff0000"/>
<rect x="441" y="768" width="5" height="1" fill="#ff0000"/><rect x="443" y="766" width="1" height="5" fill="#ff0000"/>
<rect x="443" y="759" width="1" height="58" fill="#ff0000"/>
<rect x="298" y="758" width="1" height="60" fill="#ff0000"/>
<rect x="271" y="758" width="28" height="10" fill="#ff0000"/>
<text x="273" y="766" class="pk">iP 1</text>
<polyline fill="none" stroke="#000" stroke-width="1" shape-rendering="crispEdges" points="397.3,819.5 405.5,824.0 415.5,828.5 430.5,833.5 445.5,837.0 458.9,839.9"/>
<polyline fill="none" stroke="#ff0000" stroke-width="1" shape-rendering="crispEdges" points="458.9,839.9 465.1,840.2 474.4,841.8 485.3,841.8 493.0,843.3 499.2,843.6"/>
<rect x="483" y="834" width="3" height="17" rx="1" fill="#ff0000"/>
<rect x="482" y="827" width="5" height="1" fill="#ff0000"/><rect x="484" y="825" width="1" height="5" fill="#ff0000"/>
<rect x="320" y="818" width="1" height="60" fill="#ff0000"/>
<rect x="293" y="818" width="28" height="10" fill="#ff0000"/>
<text x="295" y="826" class="pk">iPd1</text>
<rect x="448" y="878" width="1" height="60" fill="#ff0000"/>
<rect x="421" y="878" width="28" height="10" fill="#ff0000"/>
<text x="423" y="886" class="pk">iS 1</text>
</svg>
<div class="lb" style="top:86px">UW LO2 EHZ -- 11.8km</div>
<div class="lb" style="top:146px">UW LON BHE -- 11.8km</div>
<div class="lb" style="top:206px">UW RER EHZ -- 18.7km</div>
<div class="lb" style="top:266px">UW GLK EHZ -- 22.4km</div>
<div class="lb" style="top:326px">UW STAR EHZ -- 22.8km</div>
<div class="lb" style="top:386px">UW WPW EHZ -- 25.9km</div>
<div class="lb" style="top:446px">UW RCS EHZ -- 26.5km</div>
<div class="lb" style="top:506px">CC QBSR BHZ -- 27.8km</div>
<div class="lb" style="top:566px">CC QBSR BHE -- 27.8km</div>
<div class="lb" style="top:626px">CC PANH BHZ -- 28.8km</div>
<div class="lb" style="top:686px">CC PANH BHN -- 28.8km</div>
<div class="lb" style="top:746px">UW FMW EHZ -- 35.5km</div>
<div class="lb" style="top:806px">UW TDL EHZ -- 42.8km</div>
<div class="lb" style="top:866px">PB B202 EHZ -- 49.7km</div>
<div class="lb" style="top:926px">PB B202 EH2 -- 49.7km</div>
</body></html>
